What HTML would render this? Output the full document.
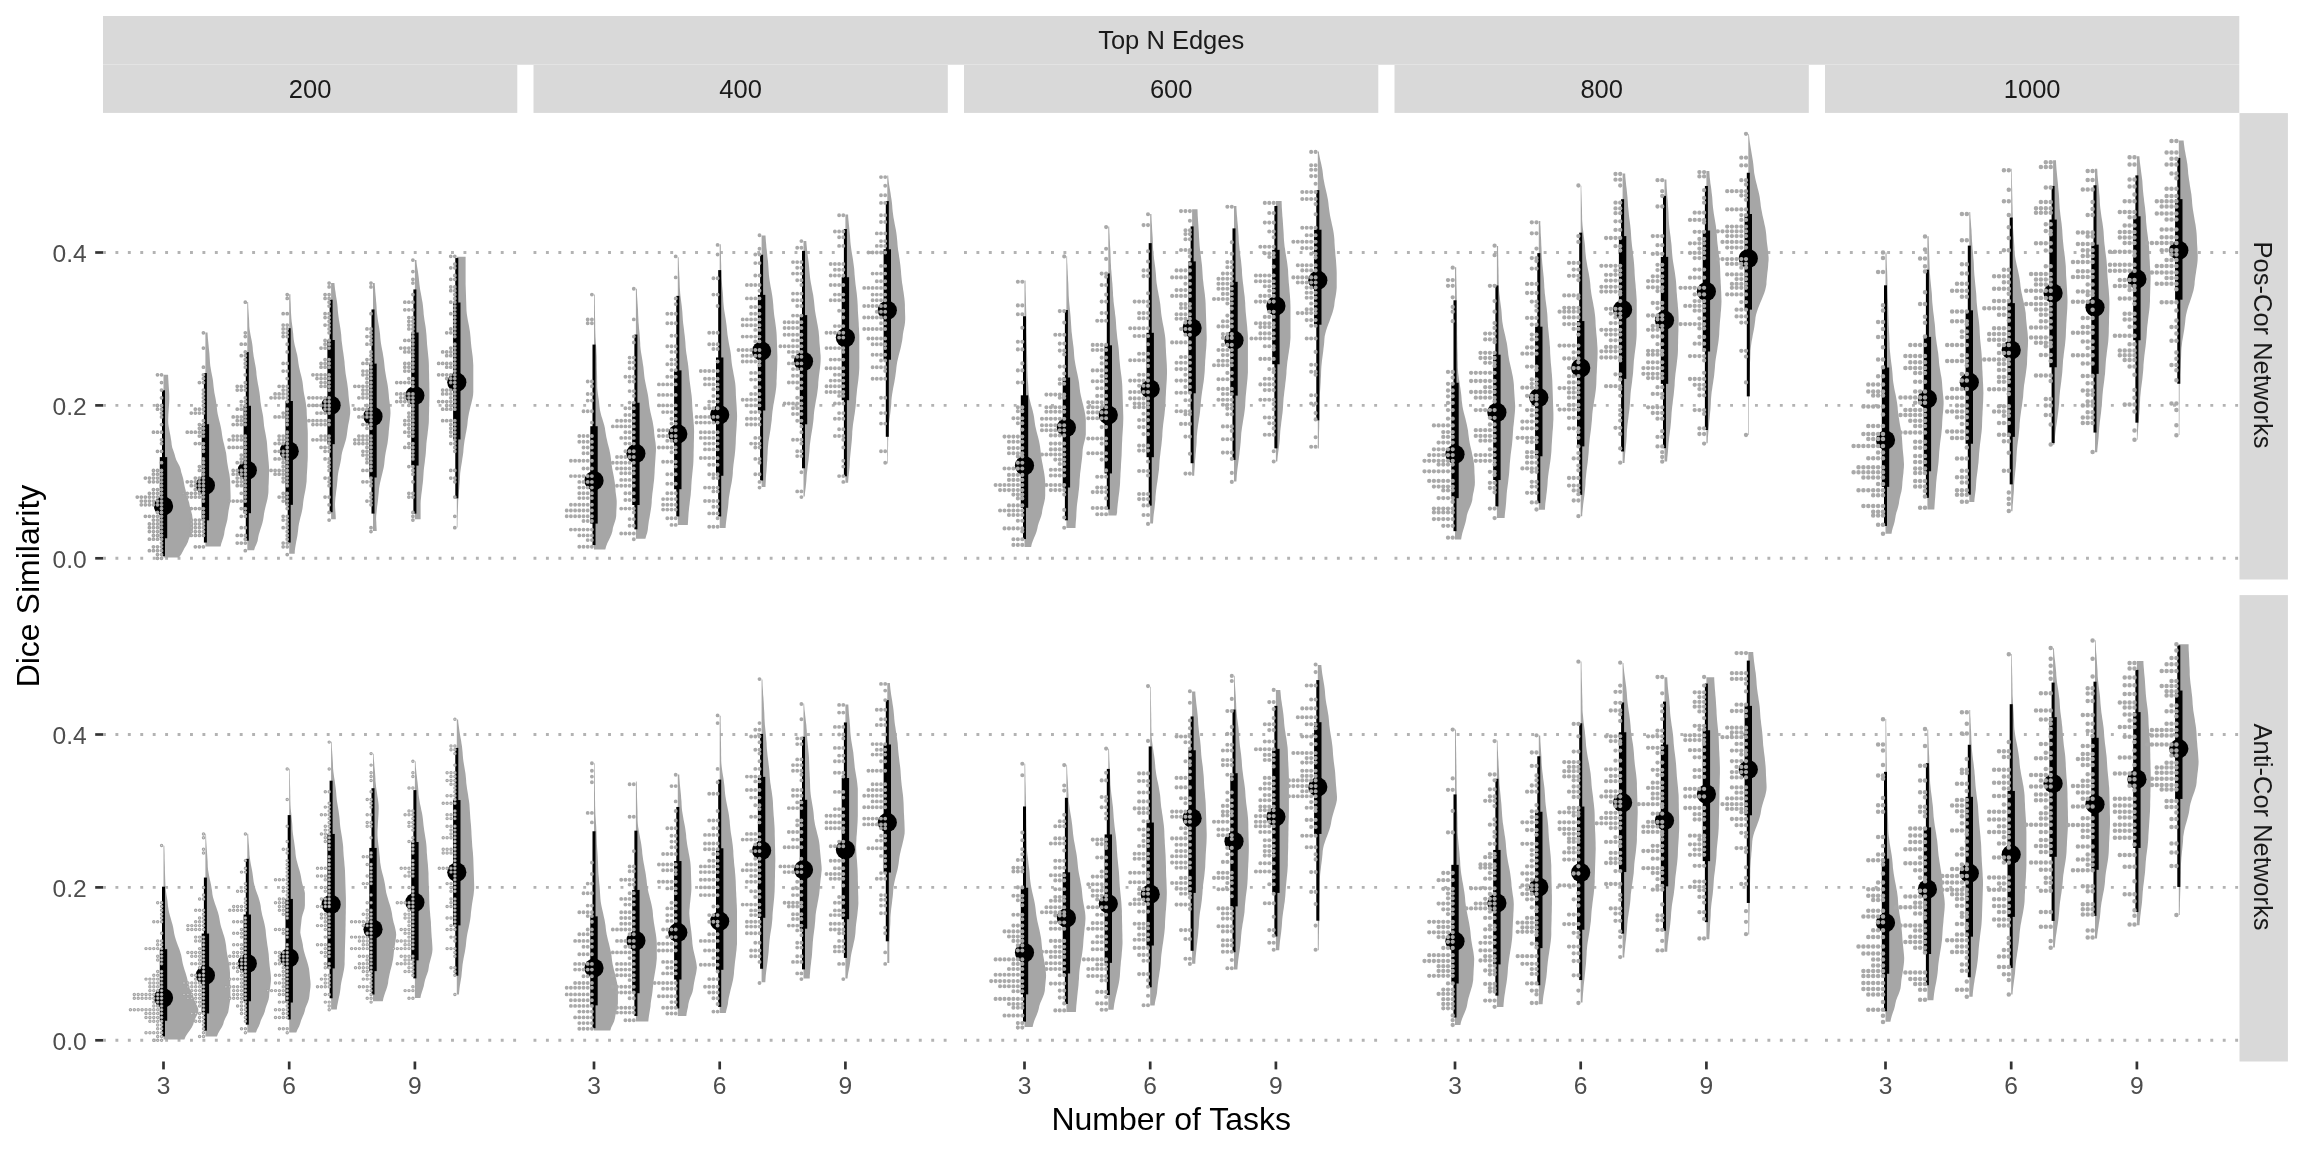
<!DOCTYPE html>
<html><head><meta charset="utf-8"><style>
html,body{margin:0;padding:0;background:#fff;width:2304px;height:1152px;overflow:hidden}
svg{display:block;will-change:transform}
text{font-family:"Liberation Sans",sans-serif}
</style></head><body>
<svg width="2304" height="1152" viewBox="0 0 2304 1152">
<rect width="2304" height="1152" fill="#ffffff"/>
<rect x="103.0" y="16" width="2136.3" height="48" fill="#d9d9d9"/>
<rect x="103.0" y="64" width="2136.3" height="1" fill="#e3e3e3"/>
<text x="1171.2" y="48.8" font-size="25.5" fill="#1a1a1a" text-anchor="middle" >Top N Edges</text>
<rect x="103.0" y="65" width="414.3" height="47.9" fill="#d9d9d9"/>
<text x="310.1" y="97.6" font-size="25.5" fill="#1a1a1a" text-anchor="middle" >200</text>
<rect x="533.5" y="65" width="414.3" height="47.9" fill="#d9d9d9"/>
<text x="740.6" y="97.6" font-size="25.5" fill="#1a1a1a" text-anchor="middle" >400</text>
<rect x="964.0" y="65" width="414.3" height="47.9" fill="#d9d9d9"/>
<text x="1171.2" y="97.6" font-size="25.5" fill="#1a1a1a" text-anchor="middle" >600</text>
<rect x="1394.5" y="65" width="414.3" height="47.9" fill="#d9d9d9"/>
<text x="1601.7" y="97.6" font-size="25.5" fill="#1a1a1a" text-anchor="middle" >800</text>
<rect x="1825.0" y="65" width="414.3" height="47.9" fill="#d9d9d9"/>
<text x="2032.2" y="97.6" font-size="25.5" fill="#1a1a1a" text-anchor="middle" >1000</text>
<rect x="2239.5" y="113.1" width="48.4" height="466.4" fill="#d9d9d9"/>
<text transform="translate(2253.6,345.0) rotate(90)" x="0" y="0" font-size="25.5" fill="#1a1a1a" text-anchor="middle" >Pos-Cor Networks</text>
<rect x="2239.5" y="595.1" width="48.4" height="466.4" fill="#d9d9d9"/>
<text transform="translate(2253.6,827.0) rotate(90)" x="0" y="0" font-size="25.5" fill="#1a1a1a" text-anchor="middle" >Anti-Cor Networks</text>
<line x1="103.0" y1="558.30" x2="517.3" y2="558.30" stroke="#b3b3b3" stroke-width="2.9" stroke-dasharray="2.9 9.53"/>
<line x1="103.0" y1="405.40" x2="517.3" y2="405.40" stroke="#b3b3b3" stroke-width="2.9" stroke-dasharray="2.9 9.53"/>
<line x1="103.0" y1="252.50" x2="517.3" y2="252.50" stroke="#b3b3b3" stroke-width="2.9" stroke-dasharray="2.9 9.53"/>
<line x1="103.0" y1="1040.30" x2="517.3" y2="1040.30" stroke="#b3b3b3" stroke-width="2.9" stroke-dasharray="2.9 9.53"/>
<line x1="103.0" y1="887.40" x2="517.3" y2="887.40" stroke="#b3b3b3" stroke-width="2.9" stroke-dasharray="2.9 9.53"/>
<line x1="103.0" y1="734.50" x2="517.3" y2="734.50" stroke="#b3b3b3" stroke-width="2.9" stroke-dasharray="2.9 9.53"/>
<line x1="533.5" y1="558.30" x2="947.8" y2="558.30" stroke="#b3b3b3" stroke-width="2.9" stroke-dasharray="2.9 9.53"/>
<line x1="533.5" y1="405.40" x2="947.8" y2="405.40" stroke="#b3b3b3" stroke-width="2.9" stroke-dasharray="2.9 9.53"/>
<line x1="533.5" y1="252.50" x2="947.8" y2="252.50" stroke="#b3b3b3" stroke-width="2.9" stroke-dasharray="2.9 9.53"/>
<line x1="533.5" y1="1040.30" x2="947.8" y2="1040.30" stroke="#b3b3b3" stroke-width="2.9" stroke-dasharray="2.9 9.53"/>
<line x1="533.5" y1="887.40" x2="947.8" y2="887.40" stroke="#b3b3b3" stroke-width="2.9" stroke-dasharray="2.9 9.53"/>
<line x1="533.5" y1="734.50" x2="947.8" y2="734.50" stroke="#b3b3b3" stroke-width="2.9" stroke-dasharray="2.9 9.53"/>
<line x1="964.0" y1="558.30" x2="1378.3" y2="558.30" stroke="#b3b3b3" stroke-width="2.9" stroke-dasharray="2.9 9.53"/>
<line x1="964.0" y1="405.40" x2="1378.3" y2="405.40" stroke="#b3b3b3" stroke-width="2.9" stroke-dasharray="2.9 9.53"/>
<line x1="964.0" y1="252.50" x2="1378.3" y2="252.50" stroke="#b3b3b3" stroke-width="2.9" stroke-dasharray="2.9 9.53"/>
<line x1="964.0" y1="1040.30" x2="1378.3" y2="1040.30" stroke="#b3b3b3" stroke-width="2.9" stroke-dasharray="2.9 9.53"/>
<line x1="964.0" y1="887.40" x2="1378.3" y2="887.40" stroke="#b3b3b3" stroke-width="2.9" stroke-dasharray="2.9 9.53"/>
<line x1="964.0" y1="734.50" x2="1378.3" y2="734.50" stroke="#b3b3b3" stroke-width="2.9" stroke-dasharray="2.9 9.53"/>
<line x1="1394.5" y1="558.30" x2="1808.8" y2="558.30" stroke="#b3b3b3" stroke-width="2.9" stroke-dasharray="2.9 9.53"/>
<line x1="1394.5" y1="405.40" x2="1808.8" y2="405.40" stroke="#b3b3b3" stroke-width="2.9" stroke-dasharray="2.9 9.53"/>
<line x1="1394.5" y1="252.50" x2="1808.8" y2="252.50" stroke="#b3b3b3" stroke-width="2.9" stroke-dasharray="2.9 9.53"/>
<line x1="1394.5" y1="1040.30" x2="1808.8" y2="1040.30" stroke="#b3b3b3" stroke-width="2.9" stroke-dasharray="2.9 9.53"/>
<line x1="1394.5" y1="887.40" x2="1808.8" y2="887.40" stroke="#b3b3b3" stroke-width="2.9" stroke-dasharray="2.9 9.53"/>
<line x1="1394.5" y1="734.50" x2="1808.8" y2="734.50" stroke="#b3b3b3" stroke-width="2.9" stroke-dasharray="2.9 9.53"/>
<line x1="1825.0" y1="558.30" x2="2239.3" y2="558.30" stroke="#b3b3b3" stroke-width="2.9" stroke-dasharray="2.9 9.53"/>
<line x1="1825.0" y1="405.40" x2="2239.3" y2="405.40" stroke="#b3b3b3" stroke-width="2.9" stroke-dasharray="2.9 9.53"/>
<line x1="1825.0" y1="252.50" x2="2239.3" y2="252.50" stroke="#b3b3b3" stroke-width="2.9" stroke-dasharray="2.9 9.53"/>
<line x1="1825.0" y1="1040.30" x2="2239.3" y2="1040.30" stroke="#b3b3b3" stroke-width="2.9" stroke-dasharray="2.9 9.53"/>
<line x1="1825.0" y1="887.40" x2="2239.3" y2="887.40" stroke="#b3b3b3" stroke-width="2.9" stroke-dasharray="2.9 9.53"/>
<line x1="1825.0" y1="734.50" x2="2239.3" y2="734.50" stroke="#b3b3b3" stroke-width="2.9" stroke-dasharray="2.9 9.53"/>
<line x1="95.2" y1="558.30" x2="103" y2="558.30" stroke="#333333" stroke-width="2.7"/>
<text x="86.8" y="567.50" font-size="24.6" fill="#4d4d4d" text-anchor="end" >0.0</text>
<line x1="95.2" y1="405.40" x2="103" y2="405.40" stroke="#333333" stroke-width="2.7"/>
<text x="86.8" y="414.60" font-size="24.6" fill="#4d4d4d" text-anchor="end" >0.2</text>
<line x1="95.2" y1="252.50" x2="103" y2="252.50" stroke="#333333" stroke-width="2.7"/>
<text x="86.8" y="261.70" font-size="24.6" fill="#4d4d4d" text-anchor="end" >0.4</text>
<line x1="95.2" y1="1040.30" x2="103" y2="1040.30" stroke="#333333" stroke-width="2.7"/>
<text x="86.8" y="1049.50" font-size="24.6" fill="#4d4d4d" text-anchor="end" >0.0</text>
<line x1="95.2" y1="887.40" x2="103" y2="887.40" stroke="#333333" stroke-width="2.7"/>
<text x="86.8" y="896.60" font-size="24.6" fill="#4d4d4d" text-anchor="end" >0.2</text>
<line x1="95.2" y1="734.50" x2="103" y2="734.50" stroke="#333333" stroke-width="2.7"/>
<text x="86.8" y="743.70" font-size="24.6" fill="#4d4d4d" text-anchor="end" >0.4</text>
<line x1="163.50" y1="1061.5" x2="163.50" y2="1069.4" stroke="#333333" stroke-width="2.7"/>
<text x="163.50" y="1093.8" font-size="24.6" fill="#4d4d4d" text-anchor="middle" >3</text>
<line x1="289.20" y1="1061.5" x2="289.20" y2="1069.4" stroke="#333333" stroke-width="2.7"/>
<text x="289.20" y="1093.8" font-size="24.6" fill="#4d4d4d" text-anchor="middle" >6</text>
<line x1="414.90" y1="1061.5" x2="414.90" y2="1069.4" stroke="#333333" stroke-width="2.7"/>
<text x="414.90" y="1093.8" font-size="24.6" fill="#4d4d4d" text-anchor="middle" >9</text>
<line x1="594.00" y1="1061.5" x2="594.00" y2="1069.4" stroke="#333333" stroke-width="2.7"/>
<text x="594.00" y="1093.8" font-size="24.6" fill="#4d4d4d" text-anchor="middle" >3</text>
<line x1="719.70" y1="1061.5" x2="719.70" y2="1069.4" stroke="#333333" stroke-width="2.7"/>
<text x="719.70" y="1093.8" font-size="24.6" fill="#4d4d4d" text-anchor="middle" >6</text>
<line x1="845.40" y1="1061.5" x2="845.40" y2="1069.4" stroke="#333333" stroke-width="2.7"/>
<text x="845.40" y="1093.8" font-size="24.6" fill="#4d4d4d" text-anchor="middle" >9</text>
<line x1="1024.50" y1="1061.5" x2="1024.50" y2="1069.4" stroke="#333333" stroke-width="2.7"/>
<text x="1024.50" y="1093.8" font-size="24.6" fill="#4d4d4d" text-anchor="middle" >3</text>
<line x1="1150.20" y1="1061.5" x2="1150.20" y2="1069.4" stroke="#333333" stroke-width="2.7"/>
<text x="1150.20" y="1093.8" font-size="24.6" fill="#4d4d4d" text-anchor="middle" >6</text>
<line x1="1275.90" y1="1061.5" x2="1275.90" y2="1069.4" stroke="#333333" stroke-width="2.7"/>
<text x="1275.90" y="1093.8" font-size="24.6" fill="#4d4d4d" text-anchor="middle" >9</text>
<line x1="1455.00" y1="1061.5" x2="1455.00" y2="1069.4" stroke="#333333" stroke-width="2.7"/>
<text x="1455.00" y="1093.8" font-size="24.6" fill="#4d4d4d" text-anchor="middle" >3</text>
<line x1="1580.70" y1="1061.5" x2="1580.70" y2="1069.4" stroke="#333333" stroke-width="2.7"/>
<text x="1580.70" y="1093.8" font-size="24.6" fill="#4d4d4d" text-anchor="middle" >6</text>
<line x1="1706.40" y1="1061.5" x2="1706.40" y2="1069.4" stroke="#333333" stroke-width="2.7"/>
<text x="1706.40" y="1093.8" font-size="24.6" fill="#4d4d4d" text-anchor="middle" >9</text>
<line x1="1885.50" y1="1061.5" x2="1885.50" y2="1069.4" stroke="#333333" stroke-width="2.7"/>
<text x="1885.50" y="1093.8" font-size="24.6" fill="#4d4d4d" text-anchor="middle" >3</text>
<line x1="2011.20" y1="1061.5" x2="2011.20" y2="1069.4" stroke="#333333" stroke-width="2.7"/>
<text x="2011.20" y="1093.8" font-size="24.6" fill="#4d4d4d" text-anchor="middle" >6</text>
<line x1="2136.90" y1="1061.5" x2="2136.90" y2="1069.4" stroke="#333333" stroke-width="2.7"/>
<text x="2136.90" y="1093.8" font-size="24.6" fill="#4d4d4d" text-anchor="middle" >9</text>
<text x="1171.2" y="1130.2" font-size="32" fill="#000000" text-anchor="middle" >Number of Tasks</text>
<text transform="translate(38.9,586) rotate(-90)" x="0" y="0" font-size="32" fill="#000000" text-anchor="middle" >Dice Similarity</text>
<g fill="#a6a6a6"><polygon points="163.5,557.4 178.9,557.4 181.3,554.3 182.9,551.3 184.4,548.2 186.3,545.2 187.9,542.1 188.8,539.1 190.1,536.1 191.7,533.0 192.9,530.0 193.1,526.9 192.9,523.9 192.7,520.8 192.5,517.8 192.1,514.8 191.3,511.7 190.4,508.7 189.7,505.6 189.1,502.6 188.1,499.5 186.9,496.5 186.1,493.4 185.7,490.4 184.9,487.4 184.2,484.3 183.7,481.3 183.1,478.2 182.2,475.2 181.2,472.1 180.6,469.1 179.5,466.1 177.9,463.0 176.3,460.0 175.3,456.9 174.5,453.9 173.4,450.8 172.3,447.8 171.7,444.8 171.4,441.7 170.9,438.7 170.4,435.6 169.8,432.6 169.2,429.5 168.7,426.5 168.3,423.4 168.2,420.4 168.3,417.4 168.4,414.3 168.6,411.3 168.8,408.2 169.0,405.2 169.2,402.1 169.3,399.1 169.3,396.1 169.2,393.0 169.0,390.0 168.8,386.9 168.6,383.9 168.4,380.8 168.2,377.8 168.1,374.7 163.5,374.7"/><polygon points="205.4,546.6 220.6,546.6 221.3,543.6 222.3,540.6 223.3,537.6 224.1,534.6 224.5,531.5 225.1,528.5 225.9,525.5 226.7,522.5 227.4,519.5 227.8,516.5 228.2,513.4 228.6,510.4 229.2,507.4 229.8,504.4 230.3,501.4 230.6,498.4 230.6,495.4 230.5,492.3 230.4,489.3 230.3,486.3 230.2,483.3 230.1,480.3 229.8,477.3 229.4,474.2 228.8,471.2 228.2,468.2 227.7,465.2 227.2,462.2 226.8,459.2 226.5,456.1 226.1,453.1 225.4,450.1 224.7,447.1 224.0,444.1 223.2,441.1 222.6,438.1 222.1,435.0 221.7,432.0 221.2,429.0 220.6,426.0 219.9,423.0 219.1,420.0 218.4,416.9 217.7,413.9 217.2,410.9 216.9,407.9 216.6,404.9 216.1,401.9 215.6,398.8 215.0,395.8 214.4,392.8 214.0,389.8 213.6,386.8 213.3,383.8 213.0,380.7 212.5,377.7 211.9,374.7 211.3,371.7 210.8,368.7 210.3,365.7 210.0,362.7 209.8,359.6 209.6,356.6 209.4,353.6 209.1,350.6 208.8,347.6 208.5,344.6 208.2,341.5 207.9,338.5 207.7,335.5 207.5,332.5 205.4,332.5"/><polygon points="247.3,550.2 254.1,550.2 255.0,547.2 256.5,544.1 257.6,541.1 258.1,538.1 258.7,535.1 259.6,532.0 260.5,529.0 261.5,526.0 262.4,523.0 263.1,519.9 263.6,516.9 264.0,513.9 264.6,510.8 265.3,507.8 266.0,504.8 266.8,501.8 267.5,498.7 268.0,495.7 268.4,492.7 268.5,489.7 268.5,486.6 268.7,483.6 268.8,480.6 268.9,477.5 269.0,474.5 269.1,471.5 269.1,468.5 268.9,465.4 268.7,462.4 268.4,459.4 268.1,456.3 267.8,453.3 267.5,450.3 267.3,447.3 267.1,444.2 266.8,441.2 266.3,438.2 265.8,435.2 265.2,432.1 264.6,429.1 264.1,426.1 263.8,423.0 263.5,420.0 263.2,417.0 262.7,414.0 262.1,410.9 261.5,407.9 261.0,404.9 260.5,401.8 260.2,398.8 259.9,395.8 259.5,392.8 259.0,389.7 258.5,386.7 257.9,383.7 257.4,380.7 256.9,377.6 256.5,374.6 256.3,371.6 255.9,368.5 255.4,365.5 254.8,362.5 254.3,359.5 253.7,356.4 253.3,353.4 252.9,350.4 252.7,347.4 252.3,344.3 251.8,341.3 251.2,338.3 250.6,335.2 250.1,332.2 249.6,329.2 249.3,326.2 249.2,323.1 249.1,320.1 248.9,317.1 248.7,314.0 248.5,311.0 248.3,308.0 248.2,305.0 248.1,301.9 247.3,301.9"/><polygon points="289.2,553.8 294.7,553.8 294.8,550.8 295.2,547.8 295.7,544.7 296.2,541.7 296.8,538.7 297.4,535.7 297.8,532.7 298.2,529.6 298.5,526.6 299.0,523.6 299.7,520.6 300.4,517.6 301.2,514.6 301.9,511.5 302.5,508.5 302.9,505.5 303.2,502.5 303.6,499.5 304.1,496.5 304.7,493.4 305.3,490.4 305.8,487.4 306.2,484.4 306.6,481.4 306.7,478.4 306.8,475.3 307.0,472.3 307.2,469.3 307.4,466.3 307.5,463.3 307.7,460.2 307.8,457.2 307.8,454.2 307.8,451.2 307.8,448.2 307.8,445.2 307.8,442.1 307.8,439.1 307.8,436.1 307.8,433.1 307.7,430.1 307.5,427.1 307.4,424.0 307.2,421.0 307.0,418.0 306.8,415.0 306.7,412.0 306.6,409.0 306.2,405.9 305.8,402.9 305.3,399.9 304.7,396.9 304.1,393.9 303.6,390.9 303.2,387.8 302.9,384.8 302.5,381.8 301.9,378.8 301.2,375.8 300.4,372.7 299.7,369.7 299.0,366.7 298.5,363.7 298.1,360.7 297.7,357.7 297.1,354.6 296.3,351.6 295.6,348.6 294.8,345.6 294.2,342.6 293.7,339.6 293.4,336.5 293.2,333.5 292.8,330.5 292.5,327.5 292.1,324.5 291.7,321.5 291.4,318.4 291.2,315.4 291.0,312.4 290.9,309.4 290.8,306.4 290.7,303.3 290.5,300.3 290.4,297.3 290.4,294.3 289.2,294.3"/><polygon points="331.1,519.2 335.8,519.2 335.7,516.1 335.5,513.1 335.3,510.1 335.1,507.1 335.0,504.0 335.2,501.0 335.4,498.0 335.8,495.0 336.1,491.9 336.5,488.9 336.9,485.9 337.2,482.8 337.5,479.8 337.7,476.8 338.1,473.8 338.6,470.7 339.3,467.7 340.0,464.7 340.6,461.7 341.2,458.6 341.5,455.6 342.1,452.6 342.9,449.5 343.9,446.5 344.8,443.5 345.7,440.5 346.4,437.4 346.9,434.4 347.3,431.4 347.7,428.4 348.2,425.3 348.8,422.3 349.4,419.3 349.8,416.2 350.2,413.2 350.2,410.2 349.9,407.2 349.5,404.1 349.1,401.1 348.8,398.1 348.5,395.1 348.3,392.0 348.0,389.0 347.6,386.0 347.2,382.9 346.7,379.9 346.2,376.9 345.7,373.9 345.3,370.8 345.0,367.8 344.7,364.8 344.5,361.8 344.1,358.7 343.7,355.7 343.3,352.7 342.8,349.7 342.4,346.6 342.0,343.6 341.6,340.6 341.4,337.5 341.2,334.5 340.8,331.5 340.4,328.5 339.9,325.4 339.4,322.4 338.9,319.4 338.5,316.4 338.1,313.3 337.8,310.3 337.6,307.3 337.3,304.2 336.9,301.2 336.4,298.2 335.9,295.2 335.5,292.1 335.0,289.1 334.7,286.1 334.4,283.1 331.1,283.1"/><polygon points="373.0,531.1 376.7,531.1 376.6,528.1 376.4,525.1 376.3,522.0 376.1,519.0 376.2,516.0 376.5,513.0 376.8,509.9 377.1,506.9 377.5,503.9 377.9,500.9 378.2,497.8 378.5,494.8 378.8,491.8 379.0,488.8 379.5,485.7 380.1,482.7 380.8,479.7 381.5,476.7 382.3,473.6 383.0,470.6 383.7,467.6 384.2,464.6 384.5,461.5 384.8,458.5 385.2,455.5 385.7,452.5 386.3,449.4 386.9,446.4 387.5,443.4 387.9,440.4 388.3,437.3 388.6,434.3 388.8,431.3 389.1,428.3 389.4,425.2 389.7,422.2 390.0,419.2 390.3,416.2 390.5,413.1 390.4,410.1 390.1,407.1 389.8,404.1 389.4,401.0 389.0,398.0 388.8,395.0 388.5,392.0 388.2,388.9 387.8,385.9 387.3,382.9 386.7,379.9 386.1,376.8 385.6,373.8 385.1,370.8 384.7,367.8 384.4,364.7 384.1,361.7 383.7,358.7 383.2,355.7 382.7,352.6 382.1,349.6 381.5,346.6 381.0,343.6 380.6,340.5 380.3,337.5 380.1,334.5 379.7,331.5 379.3,328.4 378.8,325.4 378.3,322.4 377.8,319.4 377.4,316.3 377.0,313.3 376.7,310.3 376.6,307.3 376.4,304.2 376.1,301.2 375.9,298.2 375.6,295.2 375.3,292.1 375.1,289.1 374.9,286.1 374.7,283.1 373.0,283.1"/><polygon points="414.9,519.2 420.6,519.2 420.6,516.2 420.6,513.1 420.6,510.1 420.6,507.1 420.6,504.1 420.7,501.1 421.0,498.1 421.3,495.1 421.7,492.0 422.1,489.0 422.4,486.0 422.8,483.0 423.1,480.0 423.3,477.0 423.5,474.0 423.7,470.9 424.0,467.9 424.4,464.9 424.8,461.9 425.1,458.9 425.5,455.9 425.8,452.9 426.0,449.9 426.2,446.8 426.4,443.8 426.7,440.8 427.1,437.8 427.5,434.8 427.8,431.8 428.2,428.8 428.5,425.7 428.8,422.7 428.9,419.7 428.9,416.7 429.0,413.7 429.1,410.7 429.1,407.7 429.2,404.7 429.3,401.6 429.4,398.6 429.4,395.6 429.4,392.6 429.4,389.6 429.3,386.6 429.3,383.6 429.2,380.5 429.1,377.5 429.1,374.5 429.0,371.5 428.9,368.5 428.9,365.5 428.8,362.5 428.6,359.4 428.3,356.4 428.0,353.4 427.7,350.4 427.4,347.4 427.1,344.4 426.9,341.4 426.7,338.4 426.5,335.3 426.2,332.3 425.9,329.3 425.5,326.3 425.0,323.3 424.5,320.3 424.1,317.3 423.7,314.2 423.5,311.2 423.2,308.2 422.9,305.2 422.5,302.2 421.9,299.2 421.4,296.2 420.8,293.1 420.2,290.1 419.8,287.1 419.4,284.1 419.1,281.1 418.8,278.1 418.4,275.1 418.0,272.1 417.5,269.0 417.0,266.0 416.6,263.0 416.4,260.0 414.9,260.0"/><polygon points="456.8,527.5 457.4,527.5 457.5,524.5 457.5,521.5 457.6,518.5 457.7,515.5 457.8,512.5 457.9,509.4 458.0,506.4 458.1,503.4 458.2,500.4 458.4,497.4 458.6,494.4 458.9,491.4 459.2,488.4 459.4,485.4 459.7,482.4 459.9,479.4 460.0,476.3 460.2,473.3 460.6,470.3 461.0,467.3 461.5,464.3 462.0,461.3 462.4,458.3 462.9,455.3 463.3,452.3 463.5,449.3 463.8,446.2 464.2,443.2 464.6,440.2 465.2,437.2 465.7,434.2 466.3,431.2 466.8,428.2 467.3,425.2 467.6,422.2 467.9,419.2 468.4,416.2 469.0,413.1 469.7,410.1 470.4,407.1 471.2,404.1 471.9,401.1 472.6,398.1 473.1,395.1 473.3,392.1 473.3,389.1 473.3,386.1 473.3,383.1 473.3,380.0 473.3,377.0 473.3,374.0 473.3,371.0 473.3,368.0 473.3,365.0 473.1,362.0 472.9,359.0 472.6,356.0 472.2,353.0 471.8,350.0 471.4,346.9 471.1,343.9 470.8,340.9 470.6,337.9 470.3,334.9 470.0,331.9 469.5,328.9 469.0,325.9 468.4,322.9 467.8,319.9 467.3,316.9 466.8,313.8 466.5,310.8 466.4,307.8 466.3,304.8 466.2,301.8 466.1,298.8 466.0,295.8 465.9,292.8 465.8,289.8 465.7,286.8 465.6,283.8 465.6,280.7 465.6,277.7 465.6,274.7 465.6,271.7 465.6,268.7 465.6,265.7 465.6,262.7 465.6,259.7 465.6,256.7 456.8,256.7"/><polygon points="163.5,1039.5 184.4,1039.5 185.6,1036.5 187.5,1033.5 189.7,1030.4 191.7,1027.4 193.2,1024.4 194.1,1021.3 195.4,1018.3 196.9,1015.3 198.2,1012.3 198.4,1009.2 197.3,1006.2 195.8,1003.2 194.4,1000.2 193.5,997.1 192.5,994.1 191.0,991.1 189.5,988.1 188.5,985.0 187.9,982.0 187.3,979.0 186.5,976.0 185.6,972.9 184.6,969.9 183.7,966.9 182.8,963.8 182.2,960.8 181.7,957.8 181.1,954.8 180.2,951.7 179.2,948.7 178.0,945.7 176.9,942.7 175.8,939.6 174.9,936.6 174.2,933.6 173.7,930.6 173.2,927.5 172.5,924.5 171.6,921.5 170.8,918.4 169.9,915.4 169.1,912.4 168.5,909.4 168.0,906.3 167.7,903.3 167.4,900.3 166.9,897.3 166.4,894.2 166.0,891.2 165.6,888.2 165.4,885.2 165.3,882.1 165.2,879.1 165.1,876.1 165.0,873.0 164.9,870.0 164.9,867.0 164.8,864.0 164.7,860.9 164.6,857.9 164.6,854.9 164.5,851.9 164.4,848.8 164.3,845.8 163.5,845.8"/><polygon points="205.4,1036.4 216.9,1036.4 218.1,1033.4 219.9,1030.3 221.8,1027.3 223.2,1024.3 224.0,1021.3 225.3,1018.2 226.9,1015.2 228.2,1012.2 228.7,1009.2 229.2,1006.2 229.7,1003.1 230.2,1000.1 230.5,997.1 230.4,994.1 230.4,991.0 230.3,988.0 230.2,985.0 230.2,982.0 230.1,978.9 230.0,975.9 230.0,972.9 229.8,969.9 229.5,966.9 229.0,963.8 228.5,960.8 227.9,957.8 227.3,954.8 226.8,951.7 226.4,948.7 226.1,945.7 225.6,942.7 225.0,939.6 224.2,936.6 223.2,933.6 222.3,930.6 221.3,927.6 220.5,924.5 219.9,921.5 219.4,918.5 218.8,915.5 218.0,912.4 217.0,909.4 216.0,906.4 214.9,903.4 213.9,900.3 213.0,897.3 212.4,894.3 212.1,891.3 211.6,888.2 211.1,885.2 210.5,882.2 209.8,879.2 209.2,876.2 208.6,873.1 208.1,870.1 207.8,867.1 207.7,864.1 207.6,861.0 207.4,858.0 207.2,855.0 207.0,852.0 206.8,848.9 206.6,845.9 206.4,842.9 206.2,839.9 206.1,836.9 206.0,833.8 205.4,833.8"/><polygon points="247.3,1032.5 256.0,1032.5 257.1,1029.5 258.7,1026.5 259.9,1023.4 260.8,1020.4 262.2,1017.4 263.7,1014.4 264.8,1011.4 265.5,1008.4 266.5,1005.4 267.6,1002.4 268.6,999.4 269.1,996.4 269.3,993.4 269.7,990.3 270.2,987.3 270.6,984.3 270.9,981.3 271.0,978.3 270.8,975.3 270.5,972.3 270.1,969.3 269.7,966.3 269.4,963.3 269.1,960.2 268.9,957.2 268.7,954.2 268.3,951.2 267.9,948.2 267.4,945.2 267.0,942.2 266.6,939.2 266.2,936.2 265.9,933.2 265.6,930.1 265.1,927.1 264.5,924.1 263.8,921.1 263.0,918.1 262.2,915.1 261.6,912.1 261.0,909.1 260.7,906.1 260.1,903.1 259.3,900.0 258.4,897.0 257.3,894.0 256.2,891.0 255.2,888.0 254.4,885.0 253.7,882.0 253.3,879.0 252.9,876.0 252.5,873.0 252.0,869.9 251.4,866.9 250.8,863.9 250.3,860.9 249.9,857.9 249.5,854.9 249.4,851.9 249.2,848.9 249.0,845.9 248.7,842.9 248.5,839.9 248.3,836.8 248.2,833.8 247.3,833.8"/><polygon points="289.2,1032.5 296.3,1032.5 297.5,1029.4 299.1,1026.4 300.2,1023.4 301.1,1020.4 302.4,1017.3 303.7,1014.3 304.7,1011.3 305.4,1008.2 306.6,1005.2 307.9,1002.2 308.9,999.1 309.4,996.1 309.7,993.1 310.1,990.0 310.5,987.0 310.6,984.0 310.4,980.9 310.0,977.9 309.7,974.9 309.4,971.9 309.0,968.8 308.3,965.8 307.5,962.8 306.6,959.7 305.6,956.7 304.7,953.7 303.8,950.6 303.2,947.6 302.8,944.6 302.2,941.5 301.5,938.5 300.8,935.5 300.3,932.4 300.5,929.4 300.8,926.4 301.2,923.3 301.5,920.3 301.9,917.3 302.7,914.3 303.7,911.2 304.6,908.2 304.9,905.2 304.9,902.1 304.9,899.1 304.9,896.1 304.9,893.0 304.3,890.0 303.3,887.0 302.4,883.9 301.7,880.9 301.2,877.9 300.6,874.8 299.9,871.8 299.0,868.8 298.1,865.8 297.3,862.7 296.5,859.7 295.9,856.7 295.5,853.6 295.3,850.6 294.9,847.6 294.5,844.5 294.1,841.5 293.6,838.5 293.2,835.4 292.8,832.4 292.5,829.4 292.4,826.3 292.2,823.3 291.9,820.3 291.6,817.2 291.3,814.2 291.0,811.2 290.7,808.2 290.5,805.1 290.4,802.1 290.3,799.1 290.3,796.0 290.2,793.0 290.2,790.0 290.1,786.9 290.0,783.9 290.0,780.9 289.9,777.8 289.9,774.8 289.8,771.8 289.8,768.7 289.2,768.7"/><polygon points="331.1,1009.6 336.8,1009.6 337.1,1006.6 337.7,1003.6 338.3,1000.5 338.9,997.5 339.6,994.5 340.1,991.5 340.5,988.5 340.8,985.5 341.3,982.5 341.9,979.5 342.6,976.5 343.2,973.5 343.8,970.4 344.3,967.4 344.6,964.4 344.6,961.4 344.7,958.4 344.8,955.4 344.8,952.4 344.9,949.4 345.0,946.4 345.1,943.4 345.2,940.3 345.3,937.3 345.4,934.3 345.5,931.3 345.5,928.3 345.6,925.3 345.6,922.3 345.7,919.3 345.7,916.3 345.8,913.3 345.8,910.2 345.9,907.2 345.9,904.2 345.9,901.2 345.9,898.2 345.8,895.2 345.7,892.2 345.6,889.2 345.5,886.2 345.4,883.2 345.3,880.1 345.2,877.1 345.1,874.1 345.0,871.1 344.8,868.1 344.5,865.1 344.3,862.1 344.0,859.1 343.7,856.1 343.5,853.1 343.3,850.0 343.2,847.0 342.9,844.0 342.5,841.0 342.1,838.0 341.6,835.0 341.1,832.0 340.6,829.0 340.2,826.0 339.9,823.0 339.7,819.9 339.4,816.9 339.0,813.9 338.6,810.9 338.1,807.9 337.6,804.9 337.1,801.9 336.7,798.9 336.4,795.9 336.2,792.9 335.9,789.8 335.5,786.8 335.1,783.8 334.7,780.8 334.2,777.8 333.8,774.8 333.4,771.8 333.1,768.8 333.0,765.8 332.9,762.8 332.7,759.7 332.5,756.7 332.3,753.7 332.1,750.7 331.9,747.7 331.8,744.7 331.7,741.7 331.1,741.7"/><polygon points="373.0,1001.2 382.8,1001.2 383.4,998.2 384.3,995.2 385.3,992.2 386.4,989.2 387.4,986.1 388.1,983.1 388.4,980.1 389.0,977.1 389.6,974.1 390.3,971.1 391.1,968.0 391.9,965.0 392.5,962.0 393.1,959.0 393.5,956.0 393.8,953.0 394.1,949.9 394.6,946.9 395.0,943.9 395.5,940.9 395.9,937.9 396.2,934.8 395.9,931.8 395.3,928.8 394.6,925.8 393.7,922.8 393.0,919.8 392.4,916.7 392.0,913.7 391.4,910.7 390.7,907.7 389.8,904.7 388.8,901.7 387.9,898.6 387.0,895.6 386.2,892.6 385.7,889.6 385.3,886.6 384.8,883.6 384.2,880.5 383.5,877.5 382.7,874.5 381.9,871.5 381.2,868.5 380.7,865.4 380.2,862.4 380.0,859.4 379.7,856.4 379.4,853.4 379.1,850.4 378.7,847.3 378.3,844.3 378.0,841.3 377.7,838.3 377.5,835.3 377.5,832.3 377.6,829.2 377.8,826.2 377.9,823.2 378.1,820.2 378.3,817.2 378.5,814.1 378.6,811.1 378.7,808.1 378.6,805.1 378.3,802.1 377.9,799.1 377.4,796.0 377.0,793.0 376.5,790.0 376.1,787.0 375.8,784.0 375.5,781.0 375.4,777.9 375.2,774.9 375.0,771.9 374.7,768.9 374.4,765.9 374.2,762.8 373.9,759.8 373.7,756.8 373.6,753.8 373.0,753.8"/><polygon points="414.9,998.0 420.4,998.0 421.0,995.0 421.9,991.9 422.9,988.9 423.8,985.9 424.4,982.8 425.1,979.8 426.1,976.8 427.2,973.7 428.2,970.7 428.7,967.7 429.2,964.6 430.0,961.6 430.8,958.6 431.6,955.5 432.2,952.5 432.5,949.5 432.4,946.4 432.2,943.4 432.0,940.4 431.7,937.3 431.5,934.3 431.3,931.3 431.2,928.2 431.0,925.2 430.9,922.1 430.6,919.1 430.3,916.1 430.1,913.0 429.8,910.0 429.6,907.0 429.4,903.9 429.3,900.9 429.2,897.9 429.2,894.8 429.1,891.8 428.9,888.8 428.8,885.7 428.7,882.7 428.6,879.7 428.5,876.6 428.5,873.6 428.3,870.6 428.1,867.5 427.9,864.5 427.6,861.5 427.3,858.4 427.1,855.4 426.8,852.4 426.7,849.3 426.5,846.3 426.2,843.3 425.8,840.2 425.3,837.2 424.8,834.1 424.3,831.1 423.9,828.1 423.5,825.0 423.2,822.0 422.9,819.0 422.5,815.9 422.0,812.9 421.3,809.9 420.7,806.8 420.0,803.8 419.5,800.8 419.0,797.7 418.6,794.7 418.4,791.7 418.2,788.6 417.9,785.6 417.6,782.6 417.2,779.5 416.9,776.5 416.5,773.5 416.2,770.4 415.9,767.4 415.7,764.4 415.5,761.3 414.9,761.3"/><polygon points="456.8,994.5 458.9,994.5 459.2,991.5 459.5,988.5 459.9,985.4 460.4,982.4 460.9,979.4 461.4,976.4 461.7,973.3 462.0,970.3 462.3,967.3 462.6,964.3 463.1,961.3 463.6,958.2 464.2,955.2 464.8,952.2 465.3,949.2 465.8,946.1 466.1,943.1 466.4,940.1 466.8,937.1 467.3,934.0 467.9,931.0 468.6,928.0 469.2,925.0 469.8,921.9 470.3,918.9 470.7,915.9 470.9,912.9 471.3,909.9 471.7,906.8 472.1,903.8 472.6,900.8 473.1,897.8 473.6,894.7 473.9,891.7 474.2,888.7 474.2,885.7 474.1,882.6 474.0,879.6 473.9,876.6 473.8,873.6 473.7,870.5 473.6,867.5 473.5,864.5 473.4,861.5 473.3,858.5 473.1,855.4 472.9,852.4 472.6,849.4 472.3,846.4 472.1,843.3 471.9,840.3 471.7,837.3 471.5,834.3 471.4,831.2 471.2,828.2 471.0,825.2 470.7,822.2 470.4,819.1 470.2,816.1 470.0,813.1 469.8,810.1 469.6,807.0 469.4,804.0 469.0,801.0 468.5,798.0 468.1,795.0 467.6,791.9 467.1,788.9 466.7,785.9 466.3,782.9 466.1,779.8 465.8,776.8 465.5,773.8 465.0,770.8 464.5,767.7 464.0,764.7 463.5,761.7 463.1,758.7 462.8,755.6 462.6,752.6 462.3,749.6 462.0,746.6 461.5,743.6 461.1,740.5 460.5,737.5 460.0,734.5 459.5,731.5 459.1,728.4 458.7,725.4 458.3,722.4 458.1,719.4 456.8,719.4"/><polygon points="594.0,549.4 605.3,549.4 606.1,546.4 607.3,543.3 608.8,540.3 610.2,537.3 611.5,534.2 612.4,531.2 612.9,528.1 613.8,525.1 614.8,522.1 615.7,519.0 616.2,516.0 616.3,513.0 616.4,509.9 616.6,506.9 616.7,503.9 616.7,500.8 616.4,497.8 616.0,494.8 615.6,491.7 615.4,488.7 615.1,485.7 614.8,482.6 614.3,479.6 613.8,476.6 613.2,473.5 612.6,470.5 612.1,467.4 611.6,464.4 611.2,461.4 610.9,458.3 610.5,455.3 609.9,452.3 609.3,449.2 608.5,446.2 607.7,443.2 607.0,440.1 606.3,437.1 605.8,434.1 605.3,431.0 604.9,428.0 604.2,425.0 603.3,421.9 602.4,418.9 601.4,415.9 600.6,412.8 599.9,409.8 599.5,406.7 599.2,403.7 598.9,400.7 598.4,397.6 598.0,394.6 597.6,391.6 597.3,388.5 597.2,385.5 597.2,382.5 597.1,379.4 597.1,376.4 597.0,373.4 596.9,370.3 596.8,367.3 596.8,364.3 596.7,361.2 596.7,358.2 596.6,355.2 596.4,352.1 596.3,349.1 596.1,346.0 595.9,343.0 595.7,340.0 595.5,336.9 595.4,333.9 595.3,330.9 595.2,327.8 595.2,324.8 595.2,321.8 595.1,318.7 595.0,315.7 595.0,312.7 594.9,309.6 594.9,306.6 594.8,303.6 594.8,300.5 594.7,297.5 594.7,294.5 594.0,294.5"/><polygon points="635.9,538.8 645.4,538.8 646.2,535.8 647.2,532.8 647.8,529.8 648.1,526.7 648.5,523.7 648.9,520.7 649.5,517.7 650.0,514.7 650.5,511.7 651.0,508.7 651.4,505.7 651.7,502.6 651.8,499.6 652.1,496.6 652.4,493.6 652.8,490.6 653.2,487.6 653.5,484.6 653.9,481.5 654.2,478.5 654.4,475.5 654.6,472.5 654.7,469.5 654.9,466.5 655.1,463.5 655.3,460.5 655.5,457.4 655.7,454.4 655.9,451.4 656.0,448.4 655.8,445.4 655.5,442.4 655.0,439.4 654.6,436.4 654.2,433.3 654.0,430.3 653.6,427.3 653.1,424.3 652.6,421.3 651.9,418.3 651.2,415.3 650.5,412.3 649.9,409.2 649.4,406.2 649.0,403.2 648.7,400.2 648.3,397.2 647.8,394.2 647.2,391.2 646.5,388.1 645.9,385.1 645.3,382.1 644.7,379.1 644.3,376.1 644.0,373.1 643.7,370.1 643.4,367.1 642.9,364.0 642.5,361.0 642.0,358.0 641.5,355.0 641.0,352.0 640.6,349.0 640.3,346.0 640.2,343.0 640.0,339.9 639.8,336.9 639.6,333.9 639.3,330.9 639.0,327.9 638.8,324.9 638.5,321.9 638.4,318.9 638.2,315.8 638.1,312.8 638.0,309.8 637.8,306.8 637.6,303.8 637.4,300.8 637.2,297.8 637.0,294.7 636.9,291.7 636.8,288.7 635.9,288.7"/><polygon points="677.8,525.0 687.8,525.0 688.0,522.0 688.2,519.0 688.4,516.0 688.6,513.0 688.9,510.0 689.2,507.0 689.6,504.0 689.9,501.0 690.3,498.0 690.7,495.0 690.9,491.9 691.2,488.9 691.3,485.9 691.5,482.9 691.7,479.9 692.0,476.9 692.3,473.9 692.6,470.9 692.9,467.9 693.2,464.9 693.4,461.8 693.5,458.8 693.6,455.8 693.6,452.8 693.7,449.8 693.8,446.8 693.8,443.8 693.9,440.8 694.0,437.8 694.0,434.8 694.1,431.8 694.0,428.7 693.9,425.7 693.6,422.7 693.4,419.7 693.1,416.7 692.9,413.7 692.6,410.7 692.4,407.7 692.2,404.7 692.1,401.7 691.9,398.7 691.6,395.6 691.2,392.6 690.8,389.6 690.4,386.6 690.0,383.6 689.6,380.6 689.3,377.6 689.0,374.6 688.8,371.6 688.5,368.6 688.2,365.5 687.8,362.5 687.3,359.5 686.9,356.5 686.4,353.5 686.0,350.5 685.7,347.5 685.5,344.5 685.3,341.5 685.0,338.5 684.7,335.5 684.3,332.4 684.0,329.4 683.6,326.4 683.2,323.4 682.9,320.4 682.7,317.4 682.5,314.4 682.3,311.4 682.0,308.4 681.7,305.4 681.3,302.4 680.9,299.3 680.5,296.3 680.2,293.3 680.0,290.3 679.8,287.3 679.7,284.3 679.6,281.3 679.5,278.3 679.3,275.3 679.2,272.3 679.0,269.3 678.9,266.2 678.8,263.2 678.7,260.2 678.6,257.2 677.8,257.2"/><polygon points="719.7,527.9 725.6,527.9 725.8,524.9 726.1,521.9 726.5,518.9 726.9,515.8 727.3,512.8 727.7,509.8 728.1,506.8 728.4,503.8 728.6,500.8 728.9,497.7 729.4,494.7 729.9,491.7 730.4,488.7 731.0,485.7 731.6,482.7 732.1,479.6 732.5,476.6 732.8,473.6 732.9,470.6 733.2,467.6 733.5,464.6 733.9,461.5 734.3,458.5 734.7,455.5 735.0,452.5 735.3,449.5 735.5,446.5 735.7,443.4 735.8,440.4 735.9,437.4 736.1,434.4 736.3,431.4 736.5,428.4 736.7,425.3 736.8,422.3 737.0,419.3 737.1,416.3 737.0,413.3 736.8,410.3 736.7,407.2 736.5,404.2 736.3,401.2 736.1,398.2 735.9,395.2 735.8,392.1 735.7,389.1 735.5,386.1 735.2,383.1 734.7,380.1 734.2,377.1 733.6,374.0 733.1,371.0 732.5,368.0 732.0,365.0 731.6,362.0 731.3,359.0 731.1,355.9 730.7,352.9 730.2,349.9 729.6,346.9 729.0,343.9 728.5,340.9 728.0,337.8 727.5,334.8 727.2,331.8 726.9,328.8 726.6,325.8 726.2,322.8 725.8,319.7 725.3,316.7 724.8,313.7 724.3,310.7 723.9,307.7 723.6,304.7 723.3,301.6 723.2,298.6 723.0,295.6 722.8,292.6 722.5,289.6 722.2,286.6 722.0,283.5 721.7,280.5 721.5,277.5 721.4,274.5 721.3,271.5 721.2,268.5 721.2,265.4 721.1,262.4 721.0,259.4 721.0,256.4 720.9,253.4 720.8,250.4 720.8,247.3 720.7,244.3 719.7,244.3"/><polygon points="761.6,486.9 765.5,486.9 765.6,483.9 765.8,480.9 765.9,477.8 766.1,474.8 766.4,471.8 766.6,468.7 766.8,465.7 767.0,462.7 767.3,459.6 767.4,456.6 767.6,453.6 767.7,450.6 767.9,447.5 768.2,444.5 768.5,441.5 769.0,438.4 769.5,435.4 770.0,432.4 770.5,429.4 770.9,426.3 771.3,423.3 771.7,420.3 771.9,417.2 772.2,414.2 772.5,411.2 773.0,408.1 773.4,405.1 774.0,402.1 774.5,399.1 775.0,396.0 775.5,393.0 775.9,390.0 776.3,386.9 776.5,383.9 776.5,380.9 776.7,377.9 776.8,374.8 776.9,371.8 777.1,368.8 777.2,365.7 777.3,362.7 777.4,359.7 777.4,356.6 777.3,353.6 777.2,350.6 777.1,347.6 777.0,344.5 776.9,341.5 776.8,338.5 776.7,335.4 776.5,332.4 776.2,329.4 775.8,326.3 775.4,323.3 775.0,320.3 774.5,317.3 774.1,314.2 773.8,311.2 773.5,308.2 773.3,305.1 773.0,302.1 772.7,299.1 772.3,296.1 771.8,293.0 771.3,290.0 770.7,287.0 770.2,283.9 769.7,280.9 769.3,277.9 768.9,274.8 768.7,271.8 768.5,268.8 768.3,265.8 768.1,262.7 767.8,259.7 767.4,256.7 767.1,253.6 766.8,250.6 766.4,247.6 766.2,244.6 765.9,241.5 765.7,238.5 765.5,235.5 761.6,235.5"/><polygon points="803.5,496.5 804.7,496.5 804.9,493.5 805.3,490.5 805.7,487.5 806.0,484.5 806.3,481.5 806.5,478.5 806.7,475.5 807.0,472.5 807.4,469.5 807.7,466.5 808.1,463.5 808.5,460.5 808.8,457.4 809.1,454.4 809.4,451.4 809.6,448.4 809.8,445.4 810.2,442.4 810.6,439.4 811.0,436.4 811.5,433.4 812.0,430.4 812.5,427.4 812.9,424.4 813.3,421.4 813.6,418.4 813.8,415.3 814.1,412.3 814.5,409.3 815.0,406.3 815.5,403.3 816.0,400.3 816.6,397.3 817.1,394.3 817.5,391.3 817.9,388.3 818.2,385.3 818.3,382.3 818.6,379.3 818.9,376.3 819.3,373.2 819.7,370.2 820.1,367.2 820.4,364.2 820.6,361.2 820.7,358.2 820.6,355.2 820.3,352.2 820.1,349.2 819.8,346.2 819.5,343.2 819.3,340.2 819.2,337.2 818.9,334.2 818.6,331.1 818.1,328.1 817.6,325.1 817.0,322.1 816.5,319.1 815.9,316.1 815.4,313.1 814.9,310.1 814.6,307.1 814.3,304.1 814.0,301.1 813.6,298.1 813.2,295.1 812.6,292.0 812.0,289.0 811.5,286.0 810.9,283.0 810.4,280.0 810.0,277.0 809.7,274.0 809.4,271.0 809.2,268.0 808.9,265.0 808.6,262.0 808.2,259.0 807.8,256.0 807.4,253.0 807.1,249.9 806.8,246.9 806.5,243.9 806.3,240.9 803.5,240.9"/><polygon points="845.4,482.7 848.1,482.7 848.3,479.7 848.5,476.7 848.9,473.7 849.2,470.7 849.5,467.7 849.7,464.7 849.8,461.6 850.0,458.6 850.3,455.6 850.6,452.6 850.9,449.6 851.2,446.6 851.5,443.6 851.8,440.6 852.0,437.5 852.2,434.5 852.3,431.5 852.6,428.5 852.9,425.5 853.3,422.5 853.8,419.5 854.2,416.5 854.7,413.4 855.1,410.4 855.5,407.4 855.8,404.4 856.1,401.4 856.2,398.4 856.5,395.4 856.8,392.4 857.1,389.3 857.5,386.3 857.9,383.3 858.3,380.3 858.6,377.3 858.9,374.3 859.1,371.3 859.3,368.2 859.3,365.2 859.3,362.2 859.3,359.2 859.3,356.2 859.3,353.2 859.3,350.2 859.3,347.2 859.3,344.1 859.3,341.1 859.3,338.1 859.3,335.1 859.1,332.1 859.0,329.1 858.8,326.1 858.7,323.1 858.5,320.0 858.3,317.0 858.1,314.0 857.9,311.0 857.8,308.0 857.7,305.0 857.5,302.0 857.3,299.0 857.0,295.9 856.7,292.9 856.3,289.9 855.9,286.9 855.5,283.9 855.2,280.9 854.9,277.9 854.6,274.8 854.4,271.8 854.2,268.8 853.8,265.8 853.4,262.8 853.0,259.8 852.5,256.8 852.0,253.8 851.5,250.7 851.1,247.7 850.7,244.7 850.4,241.7 850.2,238.7 850.0,235.7 849.7,232.7 849.4,229.7 849.1,226.6 848.8,223.6 848.5,220.6 848.2,217.6 848.1,214.6 845.4,214.6"/><polygon points="887.3,463.5 887.9,463.5 887.9,460.5 887.9,457.5 888.0,454.5 888.0,451.5 888.0,448.5 888.1,445.5 888.1,442.5 888.2,439.5 888.2,436.5 888.2,433.5 888.3,430.5 888.6,427.5 888.9,424.5 889.2,421.5 889.6,418.5 890.0,415.5 890.4,412.5 890.7,409.5 891.0,406.5 891.3,403.5 891.4,400.5 891.7,397.5 892.1,394.5 892.6,391.5 893.1,388.5 893.7,385.5 894.3,382.5 894.8,379.5 895.3,376.5 895.7,373.5 896.1,370.5 896.4,367.5 896.8,364.4 897.3,361.4 898.0,358.4 898.7,355.4 899.5,352.4 900.3,349.4 901.0,346.4 901.6,343.4 902.2,340.4 902.6,337.4 902.9,334.4 903.4,331.4 904.0,328.4 904.6,325.4 905.0,322.4 905.2,319.4 905.2,316.4 905.1,313.4 905.0,310.4 904.9,307.4 904.9,304.4 904.7,301.4 904.4,298.4 904.0,295.4 903.6,292.4 903.1,289.4 902.7,286.4 902.2,283.4 901.8,280.4 901.5,277.4 901.2,274.4 901.0,271.4 900.7,268.4 900.4,265.4 900.0,262.4 899.6,259.4 899.1,256.4 898.7,253.4 898.2,250.4 897.8,247.4 897.5,244.4 897.3,241.4 897.0,238.4 896.7,235.4 896.3,232.4 895.8,229.4 895.2,226.4 894.6,223.4 894.1,220.4 893.5,217.4 893.1,214.4 892.7,211.4 892.4,208.4 892.2,205.4 891.9,202.4 891.5,199.4 891.0,196.4 890.6,193.4 890.1,190.4 889.6,187.4 889.1,184.4 888.7,181.4 888.4,178.4 888.2,175.4 887.3,175.4"/><polygon points="594.0,1030.6 610.3,1030.6 611.2,1027.6 612.7,1024.6 614.1,1021.6 614.9,1018.6 615.4,1015.6 616.1,1012.6 616.8,1009.6 617.5,1006.6 617.9,1003.6 617.9,1000.6 617.9,997.5 617.9,994.5 617.9,991.5 617.9,988.5 617.5,985.5 617.0,982.5 616.3,979.5 615.6,976.5 614.9,973.5 614.1,970.5 613.4,967.5 612.7,964.5 612.2,961.5 611.8,958.5 611.5,955.5 611.0,952.5 610.3,949.5 609.6,946.5 608.9,943.5 608.1,940.5 607.4,937.5 606.7,934.5 606.2,931.5 605.8,928.4 605.5,925.4 605.0,922.4 604.5,919.4 603.8,916.4 603.2,913.4 602.5,910.4 601.8,907.4 601.2,904.4 600.7,901.4 600.4,898.4 600.2,895.4 600.0,892.4 599.8,889.4 599.6,886.4 599.3,883.4 599.0,880.4 598.8,877.4 598.5,874.4 598.3,871.4 598.2,868.4 598.1,865.4 598.0,862.3 597.8,859.3 597.7,856.3 597.5,853.3 597.3,850.3 597.1,847.3 596.9,844.3 596.8,841.3 596.7,838.3 596.6,835.3 596.5,832.3 596.3,829.3 596.2,826.3 596.0,823.3 595.8,820.3 595.6,817.3 595.4,814.3 595.3,811.3 595.2,808.3 595.1,805.3 595.1,802.3 595.0,799.3 595.0,796.3 595.0,793.2 594.9,790.2 594.9,787.2 594.8,784.2 594.8,781.2 594.8,778.2 594.7,775.2 594.7,772.2 594.6,769.2 594.6,766.2 594.6,763.2 594.0,763.2"/><polygon points="635.9,1021.5 648.3,1021.5 648.6,1018.5 649.0,1015.5 649.5,1012.5 650.0,1009.5 650.5,1006.5 650.7,1003.5 651.1,1000.5 651.6,997.5 652.1,994.5 652.5,991.5 652.8,988.5 653.1,985.5 653.4,982.5 653.8,979.5 654.3,976.5 654.8,973.5 655.3,970.5 655.8,967.5 656.2,964.5 656.5,961.5 656.8,958.5 656.8,955.5 656.8,952.5 656.8,949.5 656.8,946.5 656.8,943.5 656.6,940.5 656.3,937.5 655.9,934.5 655.4,931.5 654.9,928.5 654.4,925.5 653.9,922.5 653.5,919.5 653.1,916.5 652.9,913.5 652.6,910.5 652.1,907.5 651.5,904.5 650.8,901.5 650.0,898.5 649.3,895.5 648.5,892.5 647.9,889.5 647.3,886.5 646.9,883.5 646.6,880.5 646.2,877.5 645.8,874.5 645.3,871.5 644.7,868.5 644.2,865.5 643.6,862.5 643.1,859.5 642.7,856.4 642.3,853.4 642.1,850.4 641.7,847.4 641.3,844.4 640.8,841.4 640.2,838.4 639.7,835.4 639.1,832.4 638.6,829.4 638.1,826.4 637.8,823.4 637.6,820.4 637.6,817.4 637.5,814.4 637.5,811.4 637.4,808.4 637.3,805.4 637.2,802.4 637.1,799.4 637.0,796.4 637.0,793.4 636.9,790.4 636.8,787.4 636.8,784.4 636.7,781.4 635.9,781.4"/><polygon points="677.8,1016.0 686.3,1016.0 686.7,1013.0 687.3,1010.0 688.0,1007.0 688.4,1003.9 689.1,1000.9 690.1,997.9 691.4,994.9 692.5,991.9 693.2,988.8 693.6,985.8 694.1,982.8 694.7,979.8 695.3,976.8 696.0,973.7 696.5,970.7 696.9,967.7 696.6,964.7 696.1,961.7 695.4,958.6 694.7,955.6 694.0,952.6 693.3,949.6 692.8,946.6 692.4,943.5 692.2,940.5 691.9,937.5 691.6,934.5 691.3,931.5 690.9,928.4 690.5,925.4 690.1,922.4 689.8,919.4 689.5,916.4 689.3,913.3 689.4,910.3 689.7,907.3 689.9,904.3 690.3,901.3 690.6,898.2 690.9,895.2 691.2,892.2 691.4,889.2 691.4,886.2 691.3,883.2 691.2,880.1 691.1,877.1 691.0,874.1 690.9,871.1 690.8,868.1 690.6,865.0 690.3,862.0 689.8,859.0 689.3,856.0 688.7,853.0 688.2,849.9 687.6,846.9 687.1,843.9 686.7,840.9 686.3,837.9 686.1,834.8 685.7,831.8 685.3,828.8 684.8,825.8 684.2,822.8 683.6,819.7 683.1,816.7 682.6,813.7 682.1,810.7 681.8,807.7 681.6,804.6 681.5,801.6 681.2,798.6 681.0,795.6 680.7,792.6 680.4,789.5 680.1,786.5 679.8,783.5 679.6,780.5 679.4,777.5 679.3,774.4 677.8,774.4"/><polygon points="719.7,1013.0 725.8,1013.0 726.4,1010.0 727.2,1007.0 727.9,1004.0 728.2,1001.0 728.7,998.0 729.4,995.0 730.1,992.0 730.8,989.0 731.6,986.0 732.3,983.0 733.0,980.0 733.5,977.0 733.9,974.0 734.1,971.0 734.4,967.9 734.7,964.9 735.0,961.9 735.4,958.9 735.8,955.9 736.1,952.9 736.5,949.9 736.7,946.9 737.0,943.9 737.0,940.9 737.0,937.9 737.0,934.9 737.0,931.9 737.0,928.9 737.0,925.9 737.0,922.9 737.0,919.9 737.0,916.9 737.0,913.9 737.0,910.9 736.9,907.9 736.8,904.9 736.6,901.9 736.5,898.9 736.3,895.9 736.2,892.9 736.0,889.9 735.9,886.9 735.8,883.9 735.7,880.9 735.5,877.9 735.3,874.9 735.0,871.9 734.8,868.9 734.4,865.9 734.1,862.9 733.9,859.9 733.6,856.9 733.4,853.9 733.3,850.9 733.0,847.9 732.7,844.9 732.3,841.9 731.9,838.9 731.4,835.9 730.9,832.9 730.5,829.9 730.2,826.9 729.9,823.9 729.7,820.9 729.3,817.9 728.9,814.9 728.4,811.9 727.8,808.9 727.2,805.9 726.6,802.9 726.0,799.8 725.5,796.8 725.1,793.8 724.8,790.8 724.6,787.8 724.3,784.8 723.9,781.8 723.5,778.8 723.0,775.8 722.5,772.8 722.1,769.8 721.7,766.8 721.4,763.8 721.2,760.8 721.2,757.8 721.1,754.8 721.1,751.8 721.1,748.8 721.0,745.8 721.0,742.8 720.9,739.8 720.9,736.8 720.8,733.8 720.8,730.8 720.7,727.8 720.7,724.8 720.6,721.8 720.6,718.8 720.6,715.8 719.7,715.8"/><polygon points="761.6,982.3 765.3,982.3 765.5,979.2 765.7,976.2 766.0,973.2 766.4,970.1 766.8,967.1 767.2,964.1 767.6,961.1 767.9,958.0 768.3,955.0 768.6,952.0 768.8,949.0 769.0,945.9 769.3,942.9 769.6,939.9 770.0,936.8 770.4,933.8 770.9,930.8 771.4,927.8 771.8,924.7 772.1,921.7 772.4,918.7 772.5,915.6 772.7,912.6 773.0,909.6 773.3,906.6 773.6,903.5 773.9,900.5 774.2,897.5 774.4,894.5 774.6,891.4 774.7,888.4 774.8,885.4 774.8,882.3 774.9,879.3 775.0,876.3 775.0,873.3 775.1,870.2 775.2,867.2 775.2,864.2 775.3,861.1 775.3,858.1 775.2,855.1 775.1,852.1 775.1,849.0 775.0,846.0 774.9,843.0 774.9,840.0 774.8,836.9 774.7,833.9 774.7,830.9 774.6,827.8 774.4,824.8 774.2,821.8 774.0,818.8 773.7,815.7 773.5,812.7 773.3,809.7 773.1,806.6 773.0,803.6 772.8,800.6 772.5,797.6 772.1,794.5 771.7,791.5 771.2,788.5 770.8,785.5 770.3,782.4 770.0,779.4 769.7,776.4 769.5,773.3 769.3,770.3 769.0,767.3 768.6,764.3 768.3,761.2 767.9,758.2 767.5,755.2 767.2,752.1 766.9,749.1 766.7,746.1 766.6,743.1 766.3,740.0 766.1,737.0 765.8,734.0 765.5,731.0 765.2,727.9 764.9,724.9 764.7,721.9 764.5,718.8 764.4,715.8 764.3,712.8 764.1,709.8 763.9,706.7 763.8,703.7 763.6,700.7 763.4,697.6 763.1,694.6 763.0,691.6 762.8,688.6 762.6,685.5 762.5,682.5 762.4,679.5 761.6,679.5"/><polygon points="803.5,978.5 809.7,978.5 809.8,975.5 810.1,972.5 810.3,969.5 810.6,966.4 811.0,963.4 811.3,960.4 811.7,957.4 812.0,954.4 812.2,951.3 812.4,948.3 812.6,945.3 812.8,942.3 813.1,939.2 813.4,936.2 813.8,933.2 814.2,930.2 814.6,927.2 814.9,924.1 815.2,921.1 815.4,918.1 815.6,915.1 816.0,912.1 816.5,909.0 817.1,906.0 817.6,903.0 818.2,900.0 818.7,896.9 819.2,893.9 819.5,890.9 819.8,887.9 820.0,884.9 820.4,881.8 820.7,878.8 821.1,875.8 821.4,872.8 821.7,869.7 821.6,866.7 821.3,863.7 821.0,860.7 820.7,857.7 820.4,854.6 820.1,851.6 819.8,848.6 819.6,845.6 819.2,842.5 818.7,839.5 818.0,836.5 817.2,833.5 816.5,830.5 815.7,827.4 815.0,824.4 814.5,821.4 814.0,818.4 813.8,815.4 813.5,812.3 813.1,809.3 812.6,806.3 812.1,803.3 811.6,800.2 811.1,797.2 810.7,794.2 810.4,791.2 810.2,788.2 810.1,785.1 810.0,782.1 809.9,779.1 809.7,776.1 809.6,773.0 809.4,770.0 809.3,767.0 809.2,764.0 809.1,761.0 809.0,757.9 808.8,754.9 808.5,751.9 808.2,748.9 807.9,745.8 807.6,742.8 807.3,739.8 807.1,736.8 806.9,733.8 806.8,730.7 806.5,727.7 806.3,724.7 805.9,721.7 805.6,718.7 805.2,715.6 804.9,712.6 804.5,709.6 804.3,706.6 804.1,703.5 803.5,703.5"/><polygon points="845.4,978.5 847.5,978.5 847.8,975.5 848.3,972.5 848.9,969.5 849.5,966.5 850.0,963.5 850.4,960.5 850.7,957.4 851.2,954.4 851.8,951.4 852.5,948.4 853.2,945.4 853.8,942.4 854.5,939.4 855.0,936.4 855.4,933.3 855.6,930.3 855.8,927.3 856.1,924.3 856.5,921.3 856.9,918.3 857.3,915.3 857.6,912.3 857.9,909.2 858.2,906.2 858.4,903.2 858.3,900.2 858.3,897.2 858.2,894.2 858.1,891.2 858.0,888.2 858.0,885.1 857.9,882.1 857.8,879.1 857.8,876.1 857.7,873.1 857.6,870.1 857.4,867.1 857.2,864.1 857.0,861.0 856.7,858.0 856.5,855.0 856.3,852.0 856.2,849.0 856.1,846.0 856.2,843.0 856.4,840.0 856.5,836.9 856.8,833.9 857.0,830.9 857.2,827.9 857.4,824.9 857.6,821.9 857.7,818.9 857.8,815.9 857.8,812.8 857.8,809.8 857.8,806.8 857.8,803.8 857.8,800.8 857.8,797.8 857.8,794.8 857.8,791.8 857.8,788.7 857.5,785.7 857.2,782.7 856.8,779.7 856.3,776.7 855.8,773.7 855.3,770.7 854.8,767.7 854.5,764.6 854.2,761.6 853.9,758.6 853.6,755.6 853.3,752.6 852.8,749.6 852.3,746.6 851.8,743.6 851.3,740.5 850.9,737.5 850.6,734.5 850.3,731.5 850.2,728.5 850.0,725.5 849.7,722.5 849.5,719.5 849.2,716.4 848.9,713.4 848.7,710.4 848.5,707.4 848.3,704.4 845.4,704.4"/><polygon points="887.3,963.1 889.3,963.1 889.3,960.1 889.3,957.0 889.3,954.0 889.3,951.0 889.3,948.0 889.3,945.0 889.4,942.0 889.5,939.0 889.7,936.0 889.8,932.9 890.0,929.9 890.1,926.9 890.3,923.9 890.4,920.9 890.4,917.9 890.6,914.9 890.9,911.9 891.2,908.8 891.6,905.8 892.0,902.8 892.3,899.8 892.7,896.8 893.0,893.8 893.2,890.8 893.5,887.8 893.9,884.7 894.5,881.7 895.2,878.7 895.9,875.7 896.7,872.7 897.5,869.7 898.1,866.7 898.6,863.7 899.0,860.6 899.4,857.6 899.9,854.6 900.6,851.6 901.3,848.6 902.1,845.6 902.8,842.6 903.5,839.6 904.1,836.5 904.6,833.5 904.7,830.5 904.6,827.5 904.5,824.5 904.4,821.5 904.2,818.5 904.1,815.5 903.9,812.4 903.8,809.4 903.7,806.4 903.6,803.4 903.4,800.4 903.2,797.4 902.9,794.4 902.5,791.4 902.1,788.3 901.7,785.3 901.4,782.3 901.1,779.3 900.9,776.3 900.7,773.3 900.5,770.3 900.2,767.3 899.8,764.2 899.4,761.2 899.1,758.2 898.7,755.2 898.4,752.2 898.1,749.2 897.9,746.2 897.7,743.2 897.3,740.2 896.9,737.1 896.4,734.1 895.9,731.1 895.5,728.1 895.0,725.1 894.6,722.1 894.3,719.1 894.1,716.1 893.8,713.0 893.5,710.0 893.1,707.0 892.6,704.0 892.2,701.0 891.7,698.0 891.2,695.0 890.8,692.0 890.4,688.9 890.1,685.9 889.9,682.9 887.3,682.9"/><polygon points="1024.5,546.9 1031.1,546.9 1031.8,543.8 1032.9,540.8 1034.1,537.8 1035.4,534.8 1036.5,531.7 1037.3,528.7 1037.9,525.7 1038.8,522.7 1040.0,519.6 1041.1,516.6 1041.9,513.6 1042.3,510.6 1042.9,507.5 1043.7,504.5 1044.4,501.5 1045.0,498.5 1045.2,495.4 1045.2,492.4 1045.2,489.4 1045.2,486.4 1045.2,483.3 1045.1,480.3 1044.8,477.3 1044.4,474.3 1043.9,471.2 1043.3,468.2 1042.8,465.2 1042.2,462.2 1041.6,459.1 1041.2,456.1 1040.8,453.1 1040.5,450.1 1040.1,447.0 1039.6,444.0 1039.0,441.0 1038.3,438.0 1037.5,434.9 1036.7,431.9 1036.0,428.9 1035.3,425.9 1034.8,422.8 1034.4,419.8 1034.0,416.8 1033.4,413.8 1032.7,410.7 1031.9,407.7 1031.0,404.7 1030.2,401.6 1029.4,398.6 1028.9,395.6 1028.6,392.6 1028.4,389.5 1028.3,386.5 1028.1,383.5 1027.8,380.5 1027.6,377.4 1027.5,374.4 1027.4,371.4 1027.3,368.4 1027.3,365.3 1027.2,362.3 1027.2,359.3 1027.1,356.3 1027.0,353.2 1027.0,350.2 1026.9,347.2 1026.8,344.2 1026.7,341.1 1026.7,338.1 1026.6,335.1 1026.5,332.1 1026.5,329.0 1026.4,326.0 1026.4,323.0 1026.4,320.0 1026.3,316.9 1026.3,313.9 1026.2,310.9 1026.1,307.9 1026.0,304.8 1025.9,301.8 1025.9,298.8 1025.8,295.8 1025.7,292.7 1025.6,289.7 1025.6,286.7 1025.5,283.7 1025.5,280.6 1024.5,280.6"/><polygon points="1066.4,528.1 1075.5,528.1 1075.6,525.1 1075.8,522.1 1076.1,519.1 1076.3,516.0 1076.4,513.0 1076.6,510.0 1076.8,507.0 1077.1,504.0 1077.5,500.9 1077.9,497.9 1078.3,494.9 1078.6,491.9 1079.0,488.9 1079.3,485.8 1079.5,482.8 1079.6,479.8 1079.9,476.8 1080.1,473.8 1080.5,470.7 1080.9,467.7 1081.2,464.7 1081.6,461.7 1082.0,458.6 1082.3,455.6 1082.5,452.6 1082.7,449.6 1083.2,446.6 1083.9,443.5 1084.7,440.5 1085.4,437.5 1085.8,434.5 1085.8,431.5 1085.8,428.4 1085.8,425.4 1085.8,422.4 1085.8,419.4 1085.5,416.4 1085.0,413.3 1084.4,410.3 1083.7,407.3 1083.0,404.3 1082.2,401.2 1081.5,398.2 1080.8,395.2 1080.2,392.2 1079.8,389.2 1079.4,386.1 1079.1,383.1 1078.6,380.1 1078.0,377.1 1077.4,374.1 1076.7,371.0 1076.1,368.0 1075.5,365.0 1075.0,362.0 1074.5,359.0 1074.2,355.9 1074.0,352.9 1073.8,349.9 1073.5,346.9 1073.1,343.9 1072.7,340.8 1072.3,337.8 1072.0,334.8 1071.6,331.8 1071.4,328.8 1071.2,325.7 1071.0,322.7 1070.8,319.7 1070.6,316.7 1070.3,313.6 1070.0,310.6 1069.7,307.6 1069.4,304.6 1069.1,301.6 1068.9,298.5 1068.7,295.5 1068.6,292.5 1068.5,289.5 1068.4,286.5 1068.3,283.4 1068.1,280.4 1068.0,277.4 1067.8,274.4 1067.7,271.4 1067.5,268.3 1067.4,265.3 1067.2,262.3 1067.1,259.3 1067.1,256.2 1066.4,256.2"/><polygon points="1108.3,515.6 1116.4,515.6 1117.1,512.6 1117.2,509.6 1117.5,506.6 1117.8,503.6 1118.2,500.6 1118.5,497.6 1118.9,494.5 1119.3,491.5 1119.6,488.5 1119.9,485.5 1120.1,482.5 1120.2,479.5 1120.4,476.5 1120.5,473.5 1120.7,470.5 1120.9,467.4 1121.0,464.4 1121.2,461.4 1121.4,458.4 1121.6,455.4 1121.7,452.4 1121.8,449.4 1121.9,446.4 1122.0,443.4 1122.2,440.3 1122.3,437.3 1122.5,434.3 1122.7,431.3 1122.9,428.3 1123.1,425.3 1123.2,422.3 1123.3,419.3 1123.3,416.3 1123.2,413.2 1123.1,410.2 1123.0,407.2 1122.9,404.2 1122.8,401.2 1122.7,398.2 1122.6,395.2 1122.5,392.2 1122.4,389.2 1122.3,386.1 1122.1,383.1 1121.8,380.1 1121.5,377.1 1121.1,374.1 1120.7,371.1 1120.3,368.1 1120.0,365.1 1119.7,362.1 1119.4,359.0 1119.2,356.0 1119.0,353.0 1118.8,350.0 1118.5,347.0 1118.1,344.0 1117.7,341.0 1117.3,338.0 1117.0,335.0 1116.7,331.9 1116.4,328.9 1116.2,325.9 1116.0,322.9 1115.8,319.9 1115.5,316.9 1115.1,313.9 1114.8,310.9 1114.4,307.9 1114.0,304.9 1113.6,301.8 1113.4,298.8 1113.1,295.8 1113.0,292.8 1112.8,289.8 1112.6,286.8 1112.4,283.8 1112.1,280.8 1111.9,277.8 1111.6,274.7 1111.4,271.7 1111.1,268.7 1111.0,265.7 1110.8,262.7 1110.7,259.7 1110.6,256.7 1110.5,253.7 1110.4,250.7 1110.2,247.6 1110.0,244.6 1109.9,241.6 1109.7,238.6 1109.6,235.6 1109.4,232.6 1109.3,229.6 1109.2,226.6 1108.3,226.6"/><polygon points="1150.2,523.4 1153.0,523.4 1153.2,520.4 1153.4,517.4 1153.7,514.4 1154.1,511.4 1154.5,508.4 1154.8,505.4 1155.1,502.4 1155.4,499.4 1155.5,496.4 1155.8,493.4 1156.1,490.4 1156.5,487.4 1156.9,484.4 1157.4,481.4 1157.8,478.4 1158.2,475.4 1158.6,472.4 1159.0,469.4 1159.2,466.4 1159.4,463.4 1159.6,460.4 1159.9,457.4 1160.3,454.4 1160.6,451.4 1161.0,448.3 1161.4,445.3 1161.7,442.3 1162.0,439.3 1162.3,436.3 1162.4,433.3 1162.6,430.3 1162.9,427.3 1163.2,424.3 1163.6,421.3 1164.0,418.3 1164.4,415.3 1164.7,412.3 1165.0,409.3 1165.3,406.3 1165.5,403.3 1165.6,400.3 1165.7,397.3 1165.9,394.3 1166.0,391.3 1166.2,388.3 1166.4,385.3 1166.6,382.3 1166.8,379.3 1166.9,376.3 1167.0,373.3 1167.0,370.3 1166.9,367.2 1166.8,364.2 1166.6,361.2 1166.4,358.2 1166.2,355.2 1166.0,352.2 1165.9,349.2 1165.7,346.2 1165.6,343.2 1165.5,340.2 1165.2,337.2 1164.8,334.2 1164.3,331.2 1163.8,328.2 1163.2,325.2 1162.6,322.2 1162.1,319.2 1161.6,316.2 1161.2,313.2 1160.9,310.2 1160.6,307.2 1160.3,304.2 1159.8,301.2 1159.3,298.2 1158.7,295.2 1158.2,292.2 1157.6,289.2 1157.1,286.1 1156.6,283.1 1156.3,280.1 1156.1,277.1 1155.9,274.1 1155.6,271.1 1155.3,268.1 1154.9,265.1 1154.5,262.1 1154.1,259.1 1153.8,256.1 1153.5,253.1 1153.2,250.1 1153.0,247.1 1152.9,244.1 1152.8,241.1 1152.7,238.1 1152.5,235.1 1152.3,232.1 1152.1,229.1 1152.0,226.1 1151.8,223.1 1151.6,220.1 1151.5,217.1 1151.4,214.1 1150.2,214.1"/><polygon points="1192.1,475.8 1194.2,475.8 1194.3,472.7 1194.5,469.7 1194.7,466.7 1194.9,463.6 1195.1,460.6 1195.4,457.6 1195.6,454.6 1195.9,451.5 1196.1,448.5 1196.4,445.5 1196.6,442.4 1196.7,439.4 1196.8,436.4 1197.1,433.4 1197.4,430.3 1197.8,427.3 1198.2,424.3 1198.7,421.2 1199.1,418.2 1199.6,415.2 1200.0,412.2 1200.3,409.1 1200.6,406.1 1200.8,403.1 1201.1,400.0 1201.4,397.0 1201.8,394.0 1202.2,391.0 1202.7,387.9 1203.1,384.9 1203.6,381.9 1204.0,378.8 1204.3,375.8 1204.6,372.8 1204.8,369.8 1204.9,366.7 1205.1,363.7 1205.2,360.7 1205.5,357.6 1205.7,354.6 1205.9,351.6 1206.2,348.6 1206.4,345.5 1206.5,342.5 1206.7,339.5 1206.7,336.4 1206.6,333.4 1206.5,330.4 1206.4,327.4 1206.3,324.3 1206.2,321.3 1206.1,318.3 1206.0,315.3 1205.9,312.2 1205.8,309.2 1205.7,306.2 1205.6,303.1 1205.4,300.1 1205.1,297.1 1204.8,294.1 1204.4,291.0 1204.0,288.0 1203.6,285.0 1203.3,281.9 1202.9,278.9 1202.7,275.9 1202.5,272.9 1202.3,269.8 1202.1,266.8 1201.8,263.8 1201.4,260.7 1201.1,257.7 1200.7,254.7 1200.3,251.7 1199.9,248.6 1199.6,245.6 1199.4,242.6 1199.2,239.5 1199.0,236.5 1198.9,233.5 1198.7,230.5 1198.5,227.4 1198.3,224.4 1198.1,221.4 1197.9,218.3 1197.7,215.3 1197.6,212.3 1197.5,209.3 1192.1,209.3"/><polygon points="1234.0,481.4 1236.4,481.4 1236.6,478.3 1236.8,475.3 1237.1,472.3 1237.4,469.3 1237.8,466.2 1238.2,463.2 1238.6,460.2 1239.0,457.1 1239.4,454.1 1239.7,451.1 1240.1,448.1 1240.4,445.0 1240.7,442.0 1240.9,439.0 1241.1,436.0 1241.3,432.9 1241.7,429.9 1242.1,426.9 1242.6,423.9 1243.1,420.8 1243.6,417.8 1244.1,414.8 1244.5,411.8 1244.9,408.7 1245.2,405.7 1245.3,402.7 1245.5,399.6 1245.7,396.6 1246.0,393.6 1246.3,390.6 1246.6,387.5 1246.9,384.5 1247.2,381.5 1247.5,378.5 1247.7,375.4 1247.9,372.4 1247.9,369.4 1247.9,366.4 1247.9,363.3 1247.9,360.3 1247.9,357.3 1247.9,354.3 1247.9,351.2 1247.9,348.2 1247.9,345.2 1247.9,342.1 1247.9,339.1 1247.9,336.1 1247.7,333.1 1247.4,330.0 1247.2,327.0 1246.9,324.0 1246.6,321.0 1246.3,317.9 1246.0,314.9 1245.7,311.9 1245.5,308.9 1245.3,305.8 1245.2,302.8 1244.9,299.8 1244.7,296.8 1244.3,293.7 1243.9,290.7 1243.6,287.7 1243.2,284.6 1242.8,281.6 1242.5,278.6 1242.2,275.6 1242.0,272.5 1241.9,269.5 1241.6,266.5 1241.3,263.5 1241.0,260.4 1240.6,257.4 1240.2,254.4 1239.8,251.4 1239.5,248.3 1239.2,245.3 1238.9,242.3 1238.7,239.3 1238.6,236.2 1238.4,233.2 1238.2,230.2 1238.0,227.1 1237.7,224.1 1237.4,221.1 1237.2,218.1 1236.9,215.0 1236.7,212.0 1236.5,209.0 1236.4,206.0 1234.0,206.0"/><polygon points="1275.9,461.6 1277.3,461.6 1277.5,458.5 1277.8,455.5 1278.2,452.5 1278.6,449.5 1279.0,446.4 1279.4,443.4 1279.7,440.4 1279.9,437.3 1280.1,434.3 1280.3,431.3 1280.6,428.2 1281.0,425.2 1281.3,422.2 1281.7,419.2 1282.1,416.1 1282.5,413.1 1282.8,410.1 1283.0,407.0 1283.2,404.0 1283.4,401.0 1283.6,397.9 1284.0,394.9 1284.3,391.9 1284.7,388.9 1285.1,385.8 1285.4,382.8 1285.8,379.8 1286.1,376.7 1286.4,373.7 1286.5,370.7 1286.8,367.6 1287.1,364.6 1287.4,361.6 1287.9,358.6 1288.3,355.5 1288.8,352.5 1289.2,349.5 1289.7,346.4 1290.0,343.4 1290.3,340.4 1290.5,337.4 1290.5,334.3 1290.5,331.3 1290.5,328.3 1290.5,325.2 1290.5,322.2 1290.5,319.2 1290.5,316.1 1290.5,313.1 1290.5,310.1 1290.5,307.1 1290.4,304.0 1290.3,301.0 1290.1,298.0 1289.9,294.9 1289.6,291.9 1289.4,288.9 1289.1,285.8 1288.8,282.8 1288.6,279.8 1288.4,276.8 1288.2,273.7 1288.1,270.7 1287.8,267.7 1287.4,264.6 1287.0,261.6 1286.5,258.6 1286.0,255.6 1285.5,252.5 1285.1,249.5 1284.6,246.5 1284.3,243.4 1284.0,240.4 1283.8,237.4 1283.7,234.3 1283.5,231.3 1283.3,228.3 1283.1,225.3 1282.9,222.2 1282.7,219.2 1282.4,216.2 1282.2,213.1 1282.0,210.1 1281.8,207.1 1281.7,204.0 1281.6,201.0 1275.9,201.0"/><polygon points="1317.8,448.4 1318.8,448.4 1318.9,445.3 1318.9,442.3 1318.9,439.3 1319.0,436.3 1319.0,433.2 1319.1,430.2 1319.2,427.2 1319.2,424.1 1319.3,421.1 1319.3,418.1 1319.4,415.1 1319.4,412.0 1319.5,409.0 1319.5,406.0 1319.5,402.9 1319.6,399.9 1319.8,396.9 1319.9,393.9 1320.1,390.8 1320.3,387.8 1320.5,384.8 1320.7,381.7 1320.8,378.7 1321.0,375.7 1321.1,372.7 1321.2,369.6 1321.4,366.6 1321.7,363.6 1322.0,360.5 1322.4,357.5 1322.8,354.5 1323.2,351.5 1323.5,348.4 1323.9,345.4 1324.2,342.4 1324.4,339.3 1324.7,336.3 1325.4,333.3 1326.2,330.2 1327.2,327.2 1328.3,324.2 1329.5,321.2 1330.6,318.1 1331.7,315.1 1332.7,312.1 1333.5,309.0 1334.2,306.0 1334.5,303.0 1334.9,300.0 1335.5,296.9 1336.0,293.9 1336.4,290.9 1336.7,287.8 1336.7,284.8 1336.7,281.8 1336.7,278.8 1336.7,275.7 1336.7,272.7 1336.6,269.7 1336.4,266.6 1336.2,263.6 1336.0,260.6 1335.7,257.6 1335.4,254.5 1335.2,251.5 1334.9,248.5 1334.7,245.4 1334.5,242.4 1334.4,239.4 1334.1,236.4 1333.7,233.3 1333.2,230.3 1332.6,227.3 1331.9,224.2 1331.3,221.2 1330.6,218.2 1330.0,215.2 1329.5,212.1 1329.1,209.1 1328.7,206.1 1328.4,203.0 1328.0,200.0 1327.4,197.0 1326.8,193.9 1326.1,190.9 1325.4,187.9 1324.7,184.9 1324.1,181.8 1323.5,178.8 1323.1,175.8 1322.8,172.7 1322.4,169.7 1321.8,166.7 1321.2,163.7 1320.4,160.6 1319.8,157.6 1319.2,154.6 1318.8,151.5 1317.8,151.5"/><polygon points="1024.5,1027.1 1032.6,1027.1 1033.3,1024.1 1034.2,1021.0 1035.4,1018.0 1036.7,1015.0 1037.8,1012.0 1038.7,1008.9 1039.3,1005.9 1040.3,1002.9 1041.6,999.9 1043.0,996.8 1044.1,993.8 1044.8,990.8 1045.0,987.7 1045.3,984.7 1045.6,981.7 1045.9,978.7 1046.1,975.6 1045.9,972.6 1045.5,969.6 1045.1,966.6 1044.6,963.5 1044.1,960.5 1043.6,957.5 1043.0,954.5 1042.5,951.4 1042.1,948.4 1041.8,945.4 1041.5,942.3 1041.2,939.3 1040.7,936.3 1040.1,933.3 1039.5,930.2 1038.8,927.2 1038.1,924.2 1037.4,921.2 1036.8,918.1 1036.3,915.1 1035.9,912.1 1035.6,909.1 1035.2,906.0 1034.7,903.0 1034.1,900.0 1033.4,896.9 1032.7,893.9 1032.0,890.9 1031.4,887.9 1030.8,884.8 1030.4,881.8 1030.0,878.8 1029.8,875.8 1029.6,872.7 1029.3,869.7 1028.9,866.7 1028.5,863.7 1028.2,860.6 1027.8,857.6 1027.4,854.6 1027.1,851.5 1026.9,848.5 1026.8,845.5 1026.8,842.5 1026.7,839.4 1026.6,836.4 1026.6,833.4 1026.5,830.4 1026.4,827.3 1026.3,824.3 1026.3,821.3 1026.2,818.3 1026.2,815.2 1026.1,812.2 1026.1,809.2 1026.1,806.1 1026.0,803.1 1025.9,800.1 1025.9,797.1 1025.8,794.0 1025.7,791.0 1025.7,788.0 1025.6,785.0 1025.5,781.9 1025.4,778.9 1025.4,775.9 1025.3,772.9 1025.3,769.8 1025.2,766.8 1025.2,763.8 1024.5,763.8"/><polygon points="1066.4,1012.0 1075.9,1012.0 1076.1,1009.0 1076.3,1006.0 1076.6,1003.0 1076.9,999.9 1077.2,996.9 1077.5,993.9 1077.8,990.9 1078.2,987.9 1078.5,984.9 1078.7,981.8 1079.0,978.8 1079.1,975.8 1079.3,972.8 1079.6,969.8 1080.0,966.8 1080.5,963.8 1081.0,960.7 1081.5,957.7 1082.0,954.7 1082.4,951.7 1082.8,948.7 1083.1,945.7 1083.3,942.6 1083.5,939.6 1083.8,936.6 1084.1,933.6 1084.4,930.6 1084.7,927.6 1085.1,924.6 1085.3,921.5 1085.5,918.5 1085.4,915.5 1085.1,912.5 1084.6,909.5 1084.1,906.5 1083.5,903.4 1083.0,900.4 1082.6,897.4 1082.3,894.4 1082.0,891.4 1081.7,888.4 1081.2,885.4 1080.6,882.3 1080.1,879.3 1079.5,876.3 1078.9,873.3 1078.4,870.3 1078.0,867.3 1077.7,864.2 1077.4,861.2 1077.1,858.2 1076.7,855.2 1076.2,852.2 1075.6,849.2 1075.1,846.2 1074.5,843.1 1073.9,840.1 1073.5,837.1 1073.1,834.1 1072.8,831.1 1072.5,828.1 1072.2,825.0 1071.8,822.0 1071.4,819.0 1070.9,816.0 1070.4,813.0 1069.9,810.0 1069.5,807.0 1069.1,803.9 1068.7,800.9 1068.5,797.9 1068.5,794.9 1068.3,791.9 1068.2,788.9 1068.0,785.8 1067.9,782.8 1067.7,779.8 1067.5,776.8 1067.3,773.8 1067.2,770.8 1067.1,767.7 1067.0,764.7 1066.4,764.7"/><polygon points="1108.3,1009.8 1113.5,1009.8 1113.9,1006.8 1114.3,1003.8 1114.9,1000.8 1115.5,997.8 1116.2,994.8 1116.9,991.8 1117.6,988.7 1118.3,985.7 1118.9,982.7 1119.4,979.7 1119.8,976.7 1120.0,973.7 1120.2,970.7 1120.4,967.7 1120.7,964.7 1120.9,961.7 1121.3,958.7 1121.6,955.7 1121.8,952.7 1122.1,949.7 1122.3,946.7 1122.5,943.7 1122.5,940.7 1122.4,937.7 1122.4,934.7 1122.3,931.7 1122.2,928.7 1122.2,925.7 1122.1,922.7 1122.0,919.7 1122.0,916.7 1121.9,913.7 1121.9,910.7 1121.7,907.7 1121.5,904.7 1121.3,901.7 1121.0,898.7 1120.7,895.7 1120.4,892.7 1120.1,889.7 1119.8,886.7 1119.6,883.7 1119.4,880.7 1119.3,877.7 1119.1,874.7 1118.9,871.7 1118.6,868.7 1118.3,865.7 1118.0,862.7 1117.7,859.7 1117.4,856.7 1117.2,853.7 1116.9,850.7 1116.8,847.7 1116.6,844.7 1116.4,841.7 1116.1,838.7 1115.8,835.7 1115.4,832.7 1115.0,829.7 1114.6,826.7 1114.3,823.7 1114.0,820.7 1113.7,817.7 1113.5,814.7 1113.3,811.7 1113.1,808.7 1112.8,805.7 1112.4,802.7 1112.1,799.7 1111.7,796.7 1111.3,793.7 1111.0,790.7 1110.7,787.7 1110.4,784.7 1110.3,781.7 1110.2,778.7 1110.1,775.7 1110.0,772.7 1109.9,769.7 1109.7,766.7 1109.6,763.7 1109.4,760.7 1109.3,757.7 1109.2,754.7 1109.1,751.7 1109.0,748.7 1108.3,748.7"/><polygon points="1150.2,1005.6 1154.6,1005.6 1155.0,1002.6 1155.6,999.6 1156.3,996.6 1156.9,993.5 1157.2,990.5 1157.5,987.5 1157.8,984.5 1158.2,981.5 1158.6,978.5 1159.1,975.5 1159.5,972.5 1160.0,969.5 1160.4,966.5 1160.7,963.5 1160.9,960.5 1161.1,957.4 1161.4,954.4 1161.8,951.4 1162.2,948.4 1162.6,945.4 1163.1,942.4 1163.5,939.4 1163.9,936.4 1164.3,933.4 1164.6,930.4 1164.9,927.4 1165.0,924.4 1165.1,921.3 1165.3,918.3 1165.5,915.3 1165.7,912.3 1166.0,909.3 1166.2,906.3 1166.4,903.3 1166.6,900.3 1166.7,897.3 1166.8,894.3 1166.8,891.3 1166.7,888.3 1166.6,885.2 1166.5,882.2 1166.4,879.2 1166.2,876.2 1166.1,873.2 1166.0,870.2 1166.0,867.2 1165.9,864.2 1165.8,861.2 1165.7,858.2 1165.6,855.2 1165.4,852.2 1165.2,849.1 1165.0,846.1 1164.8,843.1 1164.7,840.1 1164.5,837.1 1164.4,834.1 1164.3,831.1 1164.1,828.1 1163.8,825.1 1163.4,822.1 1163.0,819.1 1162.6,816.1 1162.1,813.0 1161.7,810.0 1161.2,807.0 1160.9,804.0 1160.6,801.0 1160.4,798.0 1160.1,795.0 1159.6,792.0 1159.1,789.0 1158.6,786.0 1158.0,783.0 1157.3,780.0 1156.7,776.9 1156.2,773.9 1155.8,770.9 1155.4,767.9 1155.2,764.9 1154.9,761.9 1154.6,758.9 1154.2,755.9 1153.7,752.9 1153.3,749.9 1152.8,746.9 1152.4,743.9 1152.0,740.8 1151.7,737.8 1151.4,734.8 1151.4,731.8 1151.4,728.8 1151.3,725.8 1151.3,722.8 1151.3,719.8 1151.2,716.8 1151.2,713.8 1151.1,710.8 1151.1,707.8 1151.0,704.7 1151.0,701.7 1150.9,698.7 1150.9,695.7 1150.9,692.7 1150.8,689.7 1150.8,686.7 1150.2,686.7"/><polygon points="1192.1,963.7 1195.3,963.7 1195.4,960.6 1195.6,957.6 1195.9,954.6 1196.2,951.6 1196.5,948.5 1196.8,945.5 1197.2,942.5 1197.5,939.5 1197.9,936.5 1198.2,933.4 1198.4,930.4 1198.7,927.4 1198.9,924.4 1199.0,921.3 1199.3,918.3 1199.6,915.3 1200.0,912.3 1200.5,909.2 1201.0,906.2 1201.4,903.2 1201.8,900.2 1202.1,897.1 1202.4,894.1 1202.6,891.1 1202.8,888.1 1203.1,885.0 1203.5,882.0 1203.9,879.0 1204.3,876.0 1204.6,873.0 1204.9,869.9 1205.2,866.9 1205.3,863.9 1205.4,860.9 1205.6,857.8 1205.7,854.8 1205.9,851.8 1206.1,848.8 1206.3,845.7 1206.5,842.7 1206.6,839.7 1206.7,836.7 1206.7,833.6 1206.6,830.6 1206.5,827.6 1206.4,824.6 1206.3,821.6 1206.2,818.5 1206.1,815.5 1206.0,812.5 1205.9,809.5 1205.8,806.4 1205.7,803.4 1205.5,800.4 1205.2,797.4 1205.0,794.3 1204.7,791.3 1204.4,788.3 1204.2,785.3 1204.0,782.2 1203.9,779.2 1203.7,776.2 1203.4,773.2 1203.1,770.2 1202.8,767.1 1202.4,764.1 1202.0,761.1 1201.6,758.1 1201.3,755.0 1201.1,752.0 1200.9,749.0 1200.7,746.0 1200.4,742.9 1200.1,739.9 1199.7,736.9 1199.3,733.9 1198.9,730.8 1198.6,727.8 1198.3,724.8 1198.1,721.8 1198.0,718.7 1197.7,715.7 1197.4,712.7 1197.1,709.7 1196.7,706.7 1196.3,703.6 1196.0,700.6 1195.7,697.6 1195.4,694.6 1195.3,691.5 1192.1,691.5"/><polygon points="1234.0,969.4 1237.4,969.4 1237.6,966.4 1237.9,963.3 1238.2,960.3 1238.6,957.3 1239.0,954.3 1239.5,951.2 1239.9,948.2 1240.3,945.2 1240.6,942.2 1240.9,939.1 1241.1,936.1 1241.4,933.1 1241.7,930.0 1242.2,927.0 1242.6,924.0 1243.2,921.0 1243.6,917.9 1244.1,914.9 1244.5,911.9 1244.7,908.9 1244.9,905.8 1245.2,902.8 1245.5,899.8 1245.8,896.7 1246.2,893.7 1246.6,890.7 1247.0,887.7 1247.3,884.6 1247.5,881.6 1247.7,878.6 1247.8,875.6 1247.9,872.5 1248.0,869.5 1248.2,866.5 1248.3,863.5 1248.5,860.4 1248.6,857.4 1248.7,854.4 1248.8,851.3 1248.8,848.3 1248.8,845.3 1248.7,842.3 1248.6,839.2 1248.5,836.2 1248.5,833.2 1248.4,830.2 1248.3,827.1 1248.3,824.1 1248.2,821.1 1248.0,818.0 1247.7,815.0 1247.4,812.0 1247.0,809.0 1246.6,805.9 1246.2,802.9 1245.9,799.9 1245.6,796.9 1245.4,793.8 1245.2,790.8 1244.9,787.8 1244.5,784.8 1244.1,781.7 1243.6,778.7 1243.2,775.7 1242.8,772.6 1242.4,769.6 1242.1,766.6 1241.9,763.6 1241.7,760.5 1241.4,757.5 1241.1,754.5 1240.7,751.5 1240.3,748.4 1239.9,745.4 1239.6,742.4 1239.3,739.3 1239.1,736.3 1238.9,733.3 1238.7,730.3 1238.4,727.2 1238.0,724.2 1237.6,721.2 1237.2,718.2 1236.9,715.1 1236.6,712.1 1236.3,709.1 1236.2,706.0 1236.1,703.0 1235.9,700.0 1235.8,697.0 1235.6,693.9 1235.4,690.9 1235.2,687.9 1235.0,684.9 1234.8,681.8 1234.7,678.8 1234.6,675.8 1234.0,675.8"/><polygon points="1275.9,950.2 1279.2,950.2 1279.4,947.2 1279.7,944.2 1280.0,941.1 1280.4,938.1 1280.8,935.1 1281.2,932.1 1281.5,929.0 1281.8,926.0 1282.0,923.0 1282.2,920.0 1282.5,916.9 1282.9,913.9 1283.3,910.9 1283.8,907.9 1284.2,904.8 1284.7,901.8 1285.0,898.8 1285.3,895.8 1285.5,892.7 1285.7,889.7 1285.9,886.7 1286.2,883.7 1286.5,880.6 1286.8,877.6 1287.1,874.6 1287.4,871.6 1287.6,868.5 1287.8,865.5 1287.8,862.5 1287.9,859.5 1287.9,856.4 1288.0,853.4 1288.1,850.4 1288.2,847.4 1288.2,844.3 1288.3,841.3 1288.3,838.3 1288.4,835.3 1288.4,832.2 1288.5,829.2 1288.5,826.2 1288.6,823.2 1288.7,820.2 1288.8,817.1 1288.8,814.1 1288.9,811.1 1288.9,808.1 1288.9,805.0 1288.9,802.0 1288.9,799.0 1288.9,796.0 1288.9,792.9 1288.9,789.9 1288.9,786.9 1288.9,783.9 1288.9,780.8 1288.9,777.8 1288.8,774.8 1288.7,771.8 1288.6,768.7 1288.4,765.7 1288.3,762.7 1288.1,759.7 1288.0,756.6 1287.9,753.6 1287.8,750.6 1287.6,747.6 1287.2,744.5 1286.8,741.5 1286.4,738.5 1285.8,735.5 1285.4,732.4 1284.9,729.4 1284.5,726.4 1284.2,723.4 1284.0,720.3 1283.7,717.3 1283.4,714.3 1283.0,711.3 1282.6,708.2 1282.1,705.2 1281.7,702.2 1281.2,699.2 1280.9,696.2 1280.6,693.1 1280.3,690.1 1275.9,690.1"/><polygon points="1317.8,950.2 1318.7,950.2 1318.7,947.2 1318.8,944.2 1318.8,941.2 1318.9,938.2 1318.9,935.2 1319.0,932.2 1319.0,929.2 1319.1,926.2 1319.1,923.2 1319.2,920.2 1319.2,917.2 1319.2,914.2 1319.3,911.2 1319.3,908.2 1319.3,905.2 1319.4,902.1 1319.4,899.1 1319.5,896.1 1319.6,893.1 1319.7,890.1 1319.7,887.1 1319.8,884.1 1319.8,881.1 1319.9,878.1 1320.1,875.1 1320.4,872.1 1320.8,869.1 1321.1,866.1 1321.5,863.1 1321.9,860.1 1322.2,857.1 1322.5,854.1 1322.7,851.1 1323.2,848.1 1323.9,845.1 1324.9,842.1 1325.9,839.1 1327.1,836.1 1328.2,833.1 1329.3,830.1 1330.2,827.1 1330.9,824.1 1331.4,821.1 1332.0,818.1 1332.8,815.1 1333.7,812.1 1334.6,809.0 1335.5,806.0 1336.3,803.0 1336.9,800.0 1337.0,797.0 1336.8,794.0 1336.5,791.0 1336.3,788.0 1336.0,785.0 1335.8,782.0 1335.6,779.0 1335.4,776.0 1335.2,773.0 1334.9,770.0 1334.5,767.0 1334.1,764.0 1333.7,761.0 1333.4,758.0 1333.1,755.0 1332.9,752.0 1332.7,749.0 1332.4,746.0 1332.0,743.0 1331.6,740.0 1331.1,737.0 1330.6,734.0 1330.1,731.0 1329.7,728.0 1329.3,725.0 1329.1,722.0 1328.8,719.0 1328.5,716.0 1328.0,712.9 1327.5,709.9 1327.0,706.9 1326.4,703.9 1325.9,700.9 1325.5,697.9 1325.2,694.9 1325.0,691.9 1324.7,688.9 1324.3,685.9 1323.8,682.9 1323.3,679.9 1322.8,676.9 1322.3,673.9 1321.9,670.9 1321.6,667.9 1321.3,664.9 1317.8,664.9"/><polygon points="1455.0,539.4 1461.1,539.4 1461.6,536.4 1462.3,533.3 1463.2,530.3 1464.1,527.3 1465.0,524.3 1465.8,521.3 1466.4,518.2 1466.9,515.2 1467.8,512.2 1469.0,509.2 1470.4,506.1 1471.5,503.1 1472.3,500.1 1472.6,497.1 1473.1,494.0 1473.8,491.0 1474.3,488.0 1474.8,485.0 1474.9,482.0 1474.8,478.9 1474.7,475.9 1474.5,472.9 1474.4,469.9 1474.3,466.8 1474.0,463.8 1473.5,460.8 1473.0,457.8 1472.3,454.7 1471.7,451.7 1471.0,448.7 1470.3,445.7 1469.6,442.6 1469.1,439.6 1468.7,436.6 1468.3,433.6 1468.0,430.6 1467.4,427.5 1466.8,424.5 1466.1,421.5 1465.4,418.5 1464.6,415.4 1463.8,412.4 1463.1,409.4 1462.5,406.4 1462.1,403.3 1461.7,400.3 1461.5,397.3 1461.2,394.3 1460.8,391.3 1460.4,388.2 1459.9,385.2 1459.5,382.2 1459.0,379.2 1458.6,376.1 1458.2,373.1 1458.0,370.1 1457.8,367.1 1457.8,364.0 1457.7,361.0 1457.6,358.0 1457.6,355.0 1457.5,351.9 1457.4,348.9 1457.3,345.9 1457.3,342.9 1457.2,339.9 1457.2,336.8 1457.1,333.8 1457.1,330.8 1457.1,327.8 1457.1,324.7 1457.0,321.7 1457.0,318.7 1457.0,315.7 1456.9,312.6 1456.9,309.6 1456.9,306.6 1456.8,303.6 1456.8,300.6 1456.8,297.5 1456.7,294.5 1456.7,291.5 1456.6,288.5 1456.5,285.4 1456.4,282.4 1456.4,279.4 1456.3,276.4 1456.2,273.3 1456.2,270.3 1456.2,267.3 1455.0,267.3"/><polygon points="1496.9,518.0 1504.6,518.0 1504.8,514.9 1505.1,511.9 1505.5,508.9 1505.8,505.9 1506.1,502.8 1506.3,499.8 1506.5,496.8 1506.7,493.8 1507.0,490.7 1507.4,487.7 1507.8,484.7 1508.2,481.7 1508.5,478.7 1508.9,475.6 1509.2,472.6 1509.4,469.6 1509.6,466.6 1509.8,463.5 1510.1,460.5 1510.4,457.5 1510.7,454.5 1511.1,451.4 1511.5,448.4 1511.9,445.4 1512.2,442.4 1512.5,439.3 1512.7,436.3 1512.9,433.3 1513.1,430.3 1513.3,427.3 1513.7,424.2 1514.0,421.2 1514.3,418.2 1514.6,415.2 1514.9,412.1 1515.1,409.1 1515.2,406.1 1515.0,403.1 1514.8,400.0 1514.6,397.0 1514.4,394.0 1514.2,391.0 1514.0,388.0 1513.9,384.9 1513.6,381.9 1513.2,378.9 1512.7,375.9 1512.0,372.8 1511.4,369.8 1510.7,366.8 1510.0,363.8 1509.3,360.7 1508.8,357.7 1508.3,354.7 1508.0,351.7 1507.6,348.6 1507.2,345.6 1506.7,342.6 1506.0,339.6 1505.4,336.6 1504.7,333.5 1504.0,330.5 1503.3,327.5 1502.8,324.5 1502.3,321.4 1502.0,318.4 1501.8,315.4 1501.6,312.4 1501.3,309.3 1500.9,306.3 1500.5,303.3 1500.1,300.3 1499.8,297.3 1499.4,294.2 1499.1,291.2 1498.9,288.2 1498.7,285.2 1498.7,282.1 1498.6,279.1 1498.6,276.1 1498.5,273.1 1498.5,270.0 1498.4,267.0 1498.3,264.0 1498.3,261.0 1498.2,258.0 1498.2,254.9 1498.1,251.9 1498.1,248.9 1498.1,245.9 1496.9,245.9"/><polygon points="1538.8,509.7 1544.9,509.7 1545.1,506.7 1545.3,503.7 1545.7,500.7 1546.1,497.7 1546.4,494.7 1546.8,491.7 1547.1,488.7 1547.4,485.7 1547.6,482.7 1547.8,479.6 1548.1,476.6 1548.5,473.6 1548.9,470.6 1549.4,467.6 1549.8,464.6 1550.3,461.6 1550.7,458.6 1551.0,455.6 1551.3,452.6 1551.5,449.6 1551.6,446.6 1551.8,443.6 1552.0,440.6 1552.2,437.6 1552.4,434.6 1552.6,431.6 1552.9,428.5 1553.1,425.5 1553.2,422.5 1553.4,419.5 1553.4,416.5 1553.4,413.5 1553.3,410.5 1553.2,407.5 1553.1,404.5 1553.0,401.5 1552.9,398.5 1552.8,395.5 1552.7,392.5 1552.6,389.5 1552.5,386.5 1552.4,383.5 1552.3,380.4 1552.1,377.4 1551.9,374.4 1551.6,371.4 1551.4,368.4 1551.1,365.4 1550.8,362.4 1550.6,359.4 1550.4,356.4 1550.2,353.4 1550.1,350.4 1550.0,347.4 1549.7,344.4 1549.5,341.4 1549.2,338.4 1548.9,335.4 1548.6,332.3 1548.3,329.3 1548.0,326.3 1547.8,323.3 1547.6,320.3 1547.5,317.3 1547.3,314.3 1547.0,311.3 1546.7,308.3 1546.3,305.3 1545.9,302.3 1545.5,299.3 1545.2,296.3 1544.8,293.3 1544.6,290.3 1544.3,287.3 1544.2,284.3 1544.0,281.2 1543.8,278.2 1543.5,275.2 1543.2,272.2 1542.9,269.2 1542.6,266.2 1542.3,263.2 1542.1,260.2 1541.8,257.2 1541.7,254.2 1541.6,251.2 1541.5,248.2 1541.3,245.2 1541.2,242.2 1541.1,239.2 1540.9,236.2 1540.7,233.1 1540.6,230.1 1540.5,227.1 1540.3,224.1 1540.3,221.1 1538.8,221.1"/><polygon points="1580.7,516.3 1582.2,516.3 1582.3,513.3 1582.6,510.3 1582.9,507.3 1583.2,504.3 1583.6,501.3 1584.0,498.3 1584.4,495.3 1584.7,492.3 1585.0,489.3 1585.3,486.3 1585.5,483.3 1585.6,480.3 1585.9,477.2 1586.2,474.2 1586.5,471.2 1586.9,468.2 1587.3,465.2 1587.7,462.2 1588.0,459.2 1588.3,456.2 1588.6,453.2 1588.8,450.2 1588.9,447.2 1589.2,444.2 1589.5,441.2 1589.8,438.2 1590.2,435.2 1590.6,432.2 1591.0,429.2 1591.3,426.2 1591.6,423.2 1591.9,420.2 1592.1,417.2 1592.3,414.2 1592.6,411.2 1593.0,408.2 1593.5,405.1 1594.0,402.1 1594.5,399.1 1595.0,396.1 1595.4,393.1 1595.8,390.1 1596.1,387.1 1596.3,384.1 1596.4,381.1 1596.5,378.1 1596.6,375.1 1596.8,372.1 1596.9,369.1 1597.1,366.1 1597.2,363.1 1597.4,360.1 1597.5,357.1 1597.6,354.1 1597.6,351.1 1597.5,348.1 1597.3,345.1 1597.1,342.1 1596.9,339.1 1596.6,336.0 1596.3,333.0 1596.1,330.0 1595.8,327.0 1595.6,324.0 1595.5,321.0 1595.3,318.0 1595.0,315.0 1594.6,312.0 1594.2,309.0 1593.6,306.0 1593.1,303.0 1592.5,300.0 1591.9,297.0 1591.4,294.0 1591.0,291.0 1590.6,288.0 1590.4,285.0 1590.1,282.0 1589.7,279.0 1589.2,276.0 1588.7,273.0 1588.1,270.0 1587.5,266.9 1587.0,263.9 1586.5,260.9 1586.0,257.9 1585.7,254.9 1585.4,251.9 1585.2,248.9 1585.0,245.9 1584.7,242.9 1584.3,239.9 1583.9,236.9 1583.5,233.9 1583.2,230.9 1582.8,227.9 1582.5,224.9 1582.3,221.9 1582.1,218.9 1582.1,215.9 1582.0,212.9 1582.0,209.9 1581.9,206.9 1581.8,203.9 1581.7,200.9 1581.6,197.8 1581.5,194.8 1581.4,191.8 1581.3,188.8 1581.3,185.8 1580.7,185.8"/><polygon points="1622.6,463.0 1624.5,463.0 1624.7,460.0 1624.9,457.0 1625.1,454.0 1625.4,450.9 1625.7,447.9 1626.0,444.9 1626.3,441.9 1626.5,438.9 1626.7,435.9 1626.8,432.8 1627.0,429.8 1627.3,426.8 1627.6,423.8 1628.0,420.8 1628.4,417.8 1628.7,414.7 1629.1,411.7 1629.5,408.7 1629.7,405.7 1630.0,402.7 1630.2,399.7 1630.4,396.6 1630.6,393.6 1630.9,390.6 1631.3,387.6 1631.7,384.6 1632.1,381.6 1632.4,378.5 1632.8,375.5 1633.1,372.5 1633.3,369.5 1633.5,366.5 1633.7,363.5 1633.9,360.4 1634.3,357.4 1634.6,354.4 1635.0,351.4 1635.4,348.4 1635.8,345.4 1636.1,342.4 1636.4,339.3 1636.6,336.3 1636.7,333.3 1636.7,330.3 1636.7,327.3 1636.7,324.3 1636.7,321.2 1636.7,318.2 1636.7,315.2 1636.7,312.2 1636.7,309.2 1636.7,306.2 1636.7,303.1 1636.7,300.1 1636.5,297.1 1636.3,294.1 1636.1,291.1 1635.8,288.1 1635.6,285.0 1635.3,282.0 1635.0,279.0 1634.8,276.0 1634.6,273.0 1634.5,270.0 1634.3,266.9 1634.1,263.9 1633.8,260.9 1633.5,257.9 1633.1,254.9 1632.8,251.9 1632.4,248.8 1632.0,245.8 1631.7,242.8 1631.4,239.8 1631.2,236.8 1631.0,233.8 1630.8,230.7 1630.5,227.7 1630.2,224.7 1629.8,221.7 1629.4,218.7 1629.0,215.7 1628.7,212.6 1628.4,209.6 1628.1,206.6 1627.9,203.6 1627.7,200.6 1627.5,197.6 1627.2,194.5 1626.9,191.5 1626.6,188.5 1626.2,185.5 1625.9,182.5 1625.6,179.5 1625.3,176.4 1625.2,173.4 1622.6,173.4"/><polygon points="1664.5,461.4 1667.1,461.4 1667.3,458.3 1667.6,455.3 1667.9,452.3 1668.1,449.2 1668.3,446.2 1668.5,443.2 1668.9,440.1 1669.2,437.1 1669.6,434.1 1670.0,431.0 1670.4,428.0 1670.7,425.0 1671.0,421.9 1671.2,418.9 1671.4,415.9 1671.6,412.8 1671.9,409.8 1672.2,406.8 1672.6,403.7 1672.9,400.7 1673.3,397.7 1673.7,394.7 1674.0,391.6 1674.3,388.6 1674.6,385.6 1674.7,382.5 1674.9,379.5 1675.2,376.5 1675.5,373.4 1675.9,370.4 1676.3,367.4 1676.7,364.3 1677.0,361.3 1677.4,358.3 1677.7,355.2 1677.9,352.2 1678.0,349.2 1678.0,346.1 1678.1,343.1 1678.1,340.1 1678.2,337.0 1678.3,334.0 1678.4,331.0 1678.4,327.9 1678.5,324.9 1678.6,321.9 1678.6,318.8 1678.5,315.8 1678.4,312.8 1678.2,309.8 1677.9,306.7 1677.7,303.7 1677.4,300.7 1677.1,297.6 1676.9,294.6 1676.6,291.6 1676.5,288.5 1676.3,285.5 1676.1,282.5 1675.8,279.4 1675.4,276.4 1675.0,273.4 1674.5,270.3 1674.0,267.3 1673.5,264.3 1673.0,261.2 1672.6,258.2 1672.3,255.2 1672.0,252.1 1671.8,249.1 1671.6,246.1 1671.3,243.0 1670.9,240.0 1670.6,237.0 1670.2,233.9 1669.8,230.9 1669.4,227.9 1669.1,224.8 1668.9,221.8 1668.7,218.8 1668.6,215.8 1668.5,212.7 1668.3,209.7 1668.1,206.7 1667.9,203.6 1667.7,200.6 1667.4,197.6 1667.2,194.5 1667.0,191.5 1666.8,188.5 1666.6,185.4 1666.5,182.4 1666.4,179.4 1664.5,179.4"/><polygon points="1706.4,443.2 1707.6,443.2 1707.8,440.2 1707.9,437.2 1708.2,434.1 1708.4,431.1 1708.7,428.1 1709.0,425.1 1709.2,422.1 1709.5,419.0 1709.8,416.0 1710.1,413.0 1710.4,410.0 1710.6,406.9 1710.8,403.9 1710.9,400.9 1711.1,397.9 1711.4,394.8 1711.7,391.8 1712.2,388.8 1712.6,385.8 1713.1,382.8 1713.5,379.7 1714.0,376.7 1714.3,373.7 1714.6,370.7 1714.9,367.6 1715.1,364.6 1715.4,361.6 1715.8,358.6 1716.3,355.5 1716.8,352.5 1717.3,349.5 1717.7,346.5 1718.2,343.4 1718.6,340.4 1718.9,337.4 1719.2,334.4 1719.3,331.4 1719.5,328.3 1719.7,325.3 1719.9,322.3 1720.2,319.3 1720.5,316.2 1720.7,313.2 1721.0,310.2 1721.2,307.2 1721.4,304.1 1721.5,301.1 1721.4,298.1 1721.3,295.1 1721.2,292.1 1721.0,289.0 1720.9,286.0 1720.7,283.0 1720.6,280.0 1720.4,276.9 1720.3,273.9 1720.2,270.9 1720.1,267.9 1719.9,264.8 1719.7,261.8 1719.4,258.8 1719.0,255.8 1718.6,252.8 1718.2,249.7 1717.9,246.7 1717.5,243.7 1717.2,240.7 1717.0,237.6 1716.8,234.6 1716.5,231.6 1716.2,228.6 1715.8,225.5 1715.3,222.5 1714.8,219.5 1714.3,216.5 1713.8,213.4 1713.4,210.4 1713.0,207.4 1712.7,204.4 1712.5,201.4 1712.3,198.3 1712.0,195.3 1711.6,192.3 1711.3,189.3 1710.9,186.2 1710.4,183.2 1710.1,180.2 1709.7,177.2 1709.5,174.1 1709.3,171.1 1706.4,171.1"/><polygon points="1748.3,435.0 1748.9,435.0 1748.9,432.0 1748.9,429.0 1748.9,425.9 1748.9,422.9 1748.9,419.9 1748.9,416.9 1748.9,413.9 1748.9,410.9 1748.9,407.9 1748.9,404.9 1748.9,401.9 1748.9,398.8 1748.9,395.8 1748.9,392.8 1748.9,389.8 1748.9,386.8 1748.9,383.8 1749.0,380.8 1749.1,377.8 1749.3,374.7 1749.4,371.7 1749.6,368.7 1749.8,365.7 1750.0,362.7 1750.2,359.7 1750.3,356.7 1750.4,353.7 1750.5,350.7 1750.8,347.6 1751.2,344.6 1751.6,341.6 1752.2,338.6 1752.7,335.6 1753.3,332.6 1753.9,329.6 1754.4,326.6 1754.8,323.6 1755.2,320.5 1755.5,317.5 1756.1,314.5 1757.0,311.5 1758.0,308.5 1759.2,305.5 1760.4,302.5 1761.7,299.5 1762.9,296.5 1764.1,293.4 1765.1,290.4 1765.8,287.4 1766.4,284.4 1766.5,281.4 1766.8,278.4 1767.1,275.4 1767.4,272.4 1767.8,269.4 1768.1,266.3 1768.3,263.3 1768.6,260.3 1768.6,257.3 1768.3,254.3 1768.0,251.3 1767.7,248.3 1767.3,245.3 1766.9,242.3 1766.6,239.2 1766.4,236.2 1766.1,233.2 1765.7,230.2 1765.2,227.2 1764.5,224.2 1763.9,221.2 1763.2,218.2 1762.5,215.2 1761.9,212.1 1761.3,209.1 1760.8,206.1 1760.5,203.1 1760.1,200.1 1759.7,197.1 1759.1,194.1 1758.4,191.1 1757.6,188.1 1756.9,185.0 1756.1,182.0 1755.4,179.0 1754.8,176.0 1754.2,173.0 1753.9,170.0 1753.6,167.0 1753.3,164.0 1752.9,161.0 1752.4,157.9 1751.9,154.9 1751.4,151.9 1750.9,148.9 1750.4,145.9 1749.9,142.9 1749.5,139.9 1749.2,136.9 1748.9,133.9 1748.3,133.9"/><polygon points="1455.0,1025.1 1460.4,1025.1 1461.0,1022.1 1462.0,1019.1 1463.2,1016.1 1464.5,1013.1 1465.7,1010.1 1466.7,1007.0 1467.3,1004.0 1467.8,1001.0 1468.5,998.0 1469.4,995.0 1470.3,992.0 1471.2,988.9 1472.1,985.9 1472.7,982.9 1473.2,979.9 1473.3,976.9 1473.5,973.9 1473.6,970.9 1473.8,967.8 1474.0,964.8 1474.1,961.8 1474.2,958.8 1473.9,955.8 1473.5,952.8 1473.0,949.7 1472.4,946.7 1471.9,943.7 1471.4,940.7 1471.0,937.7 1470.7,934.7 1470.4,931.6 1470.0,928.6 1469.5,925.6 1469.0,922.6 1468.4,919.6 1467.8,916.6 1467.2,913.5 1466.6,910.5 1466.1,907.5 1465.7,904.5 1465.3,901.5 1465.1,898.5 1464.8,895.4 1464.4,892.4 1463.9,889.4 1463.4,886.4 1462.9,883.4 1462.3,880.4 1461.8,877.3 1461.3,874.3 1460.9,871.3 1460.6,868.3 1460.3,865.3 1460.2,862.3 1460.0,859.2 1459.7,856.2 1459.5,853.2 1459.2,850.2 1458.9,847.2 1458.6,844.2 1458.3,841.1 1458.0,838.1 1457.8,835.1 1457.6,832.1 1457.6,829.1 1457.5,826.1 1457.5,823.0 1457.4,820.0 1457.4,817.0 1457.3,814.0 1457.2,811.0 1457.1,808.0 1457.1,804.9 1457.0,801.9 1456.9,798.9 1456.8,795.9 1456.8,792.9 1456.7,789.9 1456.6,786.8 1456.6,783.8 1456.6,780.8 1456.5,777.8 1456.5,774.8 1456.5,771.8 1456.4,768.7 1456.4,765.7 1456.3,762.7 1456.3,759.7 1456.2,756.7 1456.2,753.7 1456.1,750.6 1456.1,747.6 1456.0,744.6 1456.0,741.6 1455.9,738.6 1455.9,735.6 1455.9,732.5 1455.8,729.5 1455.0,729.5"/><polygon points="1496.9,1007.1 1503.4,1007.1 1503.6,1004.1 1503.9,1001.0 1504.2,998.0 1504.6,995.0 1505.1,992.0 1505.5,988.9 1506.0,985.9 1506.5,982.9 1506.9,979.9 1507.3,976.8 1507.6,973.8 1507.8,970.8 1508.0,967.7 1508.3,964.7 1508.7,961.7 1509.1,958.7 1509.6,955.6 1510.1,952.6 1510.6,949.6 1511.1,946.5 1511.5,943.5 1511.9,940.5 1512.2,937.5 1512.4,934.4 1512.5,931.4 1512.6,928.4 1512.8,925.3 1512.9,922.3 1513.1,919.3 1513.3,916.3 1513.4,913.2 1513.6,910.2 1513.7,907.2 1513.8,904.1 1513.6,901.1 1513.3,898.1 1512.8,895.1 1512.4,892.0 1512.0,889.0 1511.6,886.0 1511.4,882.9 1511.1,879.9 1510.7,876.9 1510.3,873.9 1509.8,870.8 1509.2,867.8 1508.6,864.8 1508.0,861.8 1507.5,858.7 1507.0,855.7 1506.6,852.7 1506.3,849.6 1506.0,846.6 1505.8,843.6 1505.5,840.6 1505.1,837.5 1504.6,834.5 1504.2,831.5 1503.7,828.4 1503.3,825.4 1502.8,822.4 1502.5,819.4 1502.2,816.3 1502.0,813.3 1501.8,810.3 1501.6,807.2 1501.4,804.2 1501.1,801.2 1500.8,798.2 1500.5,795.1 1500.2,792.1 1499.9,789.1 1499.6,786.0 1499.4,783.0 1499.3,780.0 1499.2,777.0 1499.1,773.9 1499.0,770.9 1498.8,767.9 1498.6,764.9 1498.5,761.8 1498.3,758.8 1498.1,755.8 1498.0,752.7 1497.8,749.7 1497.7,746.7 1497.6,743.7 1497.5,740.6 1496.9,740.6"/><polygon points="1538.8,1004.3 1542.6,1004.3 1542.8,1001.3 1543.1,998.3 1543.5,995.3 1544.0,992.2 1544.5,989.2 1545.0,986.2 1545.5,983.2 1545.9,980.2 1546.4,977.1 1546.7,974.1 1547.0,971.1 1547.2,968.1 1547.5,965.1 1547.8,962.0 1548.2,959.0 1548.6,956.0 1549.1,953.0 1549.5,949.9 1550.0,946.9 1550.4,943.9 1550.8,940.9 1551.1,937.9 1551.3,934.8 1551.3,931.8 1551.3,928.8 1551.4,925.8 1551.5,922.8 1551.6,919.7 1551.6,916.7 1551.7,913.7 1551.8,910.7 1551.8,907.6 1551.9,904.6 1551.9,901.6 1551.9,898.6 1551.9,895.6 1551.8,892.5 1551.8,889.5 1551.7,886.5 1551.6,883.5 1551.5,880.5 1551.5,877.4 1551.4,874.4 1551.3,871.4 1551.3,868.4 1551.3,865.3 1551.1,862.3 1550.9,859.3 1550.7,856.3 1550.4,853.3 1550.1,850.2 1549.8,847.2 1549.5,844.2 1549.2,841.2 1548.9,838.1 1548.7,835.1 1548.5,832.1 1548.4,829.1 1548.2,826.1 1547.9,823.0 1547.6,820.0 1547.2,817.0 1546.8,814.0 1546.4,811.0 1546.1,807.9 1545.7,804.9 1545.4,801.9 1545.2,798.9 1545.0,795.8 1544.8,792.8 1544.6,789.8 1544.3,786.8 1543.9,783.8 1543.5,780.7 1543.1,777.7 1542.8,774.7 1542.4,771.7 1542.1,768.7 1541.8,765.6 1541.6,762.6 1541.5,759.6 1541.4,756.6 1541.2,753.5 1541.0,750.5 1540.8,747.5 1540.6,744.5 1540.4,741.5 1540.3,738.4 1540.2,735.4 1538.8,735.4"/><polygon points="1580.7,1002.6 1582.5,1002.6 1582.6,999.6 1582.8,996.6 1583.0,993.5 1583.3,990.5 1583.5,987.5 1583.8,984.5 1584.1,981.5 1584.5,978.4 1584.8,975.4 1585.1,972.4 1585.4,969.4 1585.7,966.4 1586.0,963.4 1586.2,960.3 1586.4,957.3 1586.6,954.3 1586.7,951.3 1587.0,948.3 1587.3,945.2 1587.7,942.2 1588.2,939.2 1588.7,936.2 1589.2,933.2 1589.7,930.2 1590.1,927.1 1590.5,924.1 1590.9,921.1 1591.1,918.1 1591.3,915.1 1591.5,912.0 1591.8,909.0 1592.2,906.0 1592.5,903.0 1592.9,900.0 1593.3,897.0 1593.7,893.9 1594.0,890.9 1594.3,887.9 1594.5,884.9 1594.7,881.9 1594.7,878.8 1594.8,875.8 1594.9,872.8 1595.0,869.8 1595.1,866.8 1595.2,863.7 1595.3,860.7 1595.4,857.7 1595.5,854.7 1595.6,851.7 1595.7,848.7 1595.6,845.6 1595.6,842.6 1595.5,839.6 1595.4,836.6 1595.3,833.6 1595.1,830.5 1595.0,827.5 1594.9,824.5 1594.8,821.5 1594.7,818.5 1594.7,815.5 1594.6,812.4 1594.4,809.4 1594.1,806.4 1593.8,803.4 1593.4,800.4 1593.1,797.3 1592.7,794.3 1592.3,791.3 1591.9,788.3 1591.6,785.3 1591.4,782.3 1591.2,779.2 1590.9,776.2 1590.6,773.2 1590.1,770.2 1589.6,767.2 1589.1,764.1 1588.5,761.1 1587.9,758.1 1587.4,755.1 1586.9,752.1 1586.5,749.0 1586.1,746.0 1585.9,743.0 1585.7,740.0 1585.4,737.0 1585.1,734.0 1584.8,730.9 1584.4,727.9 1584.0,724.9 1583.6,721.9 1583.3,718.9 1583.0,715.8 1582.7,712.8 1582.5,709.8 1582.5,706.8 1582.4,703.8 1582.4,700.8 1582.3,697.7 1582.2,694.7 1582.1,691.7 1582.1,688.7 1582.0,685.7 1581.9,682.6 1581.8,679.6 1581.7,676.6 1581.7,673.6 1581.6,670.6 1581.5,667.5 1581.5,664.5 1581.4,661.5 1580.7,661.5"/><polygon points="1622.6,957.4 1624.3,957.4 1624.4,954.4 1624.7,951.4 1625.0,948.4 1625.3,945.4 1625.6,942.4 1626.0,939.4 1626.3,936.4 1626.6,933.3 1626.9,930.3 1627.1,927.3 1627.3,924.3 1627.6,921.3 1627.9,918.3 1628.4,915.3 1628.8,912.3 1629.3,909.3 1629.7,906.3 1630.1,903.3 1630.4,900.3 1630.6,897.3 1630.8,894.3 1631.2,891.3 1631.6,888.3 1632.0,885.3 1632.5,882.3 1632.9,879.3 1633.3,876.3 1633.7,873.3 1633.9,870.2 1634.1,867.2 1634.3,864.2 1634.6,861.2 1635.0,858.2 1635.4,855.2 1635.8,852.2 1636.1,849.2 1636.4,846.2 1636.7,843.2 1636.9,840.2 1636.9,837.2 1637.0,834.2 1637.1,831.2 1637.2,828.2 1637.3,825.2 1637.4,822.2 1637.5,819.2 1637.6,816.2 1637.7,813.2 1637.7,810.2 1637.6,807.1 1637.5,804.1 1637.4,801.1 1637.3,798.1 1637.2,795.1 1637.1,792.1 1637.0,789.1 1636.9,786.1 1636.9,783.1 1636.7,780.1 1636.4,777.1 1636.1,774.1 1635.7,771.1 1635.3,768.1 1634.9,765.1 1634.6,762.1 1634.3,759.1 1634.1,756.1 1633.9,753.1 1633.6,750.1 1633.3,747.1 1632.9,744.0 1632.4,741.0 1631.9,738.0 1631.5,735.0 1631.1,732.0 1630.8,729.0 1630.6,726.0 1630.3,723.0 1630.0,720.0 1629.6,717.0 1629.2,714.0 1628.7,711.0 1628.3,708.0 1627.9,705.0 1627.5,702.0 1627.2,699.0 1627.0,696.0 1626.8,693.0 1626.5,690.0 1626.2,687.0 1625.8,683.9 1625.4,680.9 1625.0,677.9 1624.6,674.9 1624.2,671.9 1623.9,668.9 1623.6,665.9 1623.4,662.9 1622.6,662.9"/><polygon points="1664.5,951.7 1667.2,951.7 1667.4,948.6 1667.6,945.6 1667.9,942.6 1668.3,939.6 1668.6,936.6 1669.0,933.6 1669.4,930.5 1669.8,927.5 1670.2,924.5 1670.5,921.5 1670.8,918.5 1671.0,915.5 1671.2,912.5 1671.5,909.4 1671.8,906.4 1672.2,903.4 1672.7,900.4 1673.2,897.4 1673.7,894.4 1674.1,891.3 1674.5,888.3 1674.8,885.3 1675.0,882.3 1675.2,879.3 1675.5,876.3 1675.9,873.3 1676.3,870.2 1676.6,867.2 1677.0,864.2 1677.3,861.2 1677.6,858.2 1677.8,855.2 1677.9,852.1 1678.0,849.1 1678.2,846.1 1678.4,843.1 1678.6,840.1 1678.8,837.1 1678.9,834.1 1679.1,831.0 1679.2,828.0 1679.2,825.0 1679.2,822.0 1679.1,819.0 1679.1,816.0 1679.0,812.9 1678.9,809.9 1678.8,806.9 1678.8,803.9 1678.7,800.9 1678.7,797.9 1678.6,794.8 1678.3,791.8 1678.1,788.8 1677.8,785.8 1677.5,782.8 1677.2,779.8 1676.9,776.8 1676.7,773.7 1676.5,770.7 1676.3,767.7 1676.1,764.7 1675.8,761.7 1675.5,758.7 1675.1,755.6 1674.7,752.6 1674.3,749.6 1674.0,746.6 1673.7,743.6 1673.5,740.6 1673.3,737.6 1673.0,734.5 1672.6,731.5 1672.2,728.5 1671.7,725.5 1671.3,722.5 1670.9,719.5 1670.5,716.4 1670.2,713.4 1670.0,710.4 1669.9,707.4 1669.6,704.4 1669.4,701.4 1669.1,698.3 1668.8,695.3 1668.4,692.3 1668.1,689.3 1667.8,686.3 1667.6,683.3 1667.4,680.3 1667.2,677.2 1664.5,677.2"/><polygon points="1706.4,939.3 1709.3,939.3 1709.4,936.3 1709.6,933.3 1709.8,930.3 1709.9,927.3 1710.1,924.3 1710.3,921.3 1710.5,918.3 1710.7,915.2 1710.8,912.2 1710.9,909.2 1711.2,906.2 1711.5,903.2 1711.9,900.2 1712.3,897.2 1712.7,894.2 1713.0,891.1 1713.3,888.1 1713.5,885.1 1713.7,882.1 1713.9,879.1 1714.2,876.1 1714.6,873.1 1715.0,870.0 1715.3,867.0 1715.7,864.0 1716.0,861.0 1716.3,858.0 1716.5,855.0 1716.6,852.0 1716.8,849.0 1717.1,845.9 1717.4,842.9 1717.7,839.9 1718.0,836.9 1718.3,833.9 1718.5,830.9 1718.7,827.9 1718.8,824.9 1718.8,821.8 1718.9,818.8 1719.0,815.8 1719.1,812.8 1719.1,809.8 1719.2,806.8 1719.3,803.8 1719.3,800.8 1719.4,797.7 1719.4,794.7 1719.4,791.7 1719.5,788.7 1719.6,785.7 1719.7,782.7 1719.7,779.7 1719.8,776.7 1719.9,773.6 1719.9,770.6 1719.9,767.6 1719.8,764.6 1719.7,761.6 1719.6,758.6 1719.4,755.6 1719.3,752.6 1719.1,749.5 1719.0,746.5 1718.9,743.5 1718.8,740.5 1718.7,737.5 1718.4,734.5 1718.2,731.5 1717.9,728.5 1717.6,725.4 1717.3,722.4 1717.0,719.4 1716.8,716.4 1716.6,713.4 1716.5,710.4 1716.3,707.4 1716.1,704.4 1715.9,701.3 1715.7,698.3 1715.4,695.3 1715.2,692.3 1714.9,689.3 1714.7,686.3 1714.5,683.3 1714.3,680.3 1714.2,677.2 1706.4,677.2"/><polygon points="1748.3,934.5 1749.2,934.5 1749.2,931.5 1749.2,928.5 1749.3,925.5 1749.3,922.5 1749.4,919.4 1749.4,916.4 1749.5,913.4 1749.6,910.4 1749.6,907.4 1749.7,904.4 1749.7,901.4 1749.7,898.4 1749.8,895.4 1749.8,892.4 1749.9,889.4 1749.9,886.4 1750.0,883.4 1750.1,880.4 1750.2,877.4 1750.2,874.4 1750.3,871.4 1750.3,868.4 1750.5,865.4 1750.7,862.4 1750.9,859.4 1751.2,856.3 1751.4,853.3 1751.7,850.3 1751.9,847.3 1752.1,844.3 1752.3,841.3 1752.7,838.3 1753.4,835.3 1754.3,832.3 1755.4,829.3 1756.6,826.3 1757.7,823.3 1758.8,820.3 1759.7,817.3 1760.5,814.3 1761.0,811.3 1761.5,808.3 1762.3,805.3 1763.2,802.3 1764.1,799.3 1765.1,796.3 1765.8,793.3 1766.4,790.2 1766.6,787.2 1766.5,784.2 1766.3,781.2 1766.2,778.2 1766.0,775.2 1765.9,772.2 1765.8,769.2 1765.6,766.2 1765.3,763.2 1765.0,760.2 1764.7,757.2 1764.3,754.2 1763.9,751.2 1763.6,748.2 1763.2,745.2 1763.0,742.2 1762.8,739.2 1762.6,736.2 1762.3,733.2 1762.0,730.2 1761.6,727.1 1761.2,724.1 1760.9,721.1 1760.5,718.1 1760.3,715.1 1760.1,712.1 1759.9,709.1 1759.6,706.1 1759.2,703.1 1758.7,700.1 1758.3,697.1 1757.8,694.1 1757.4,691.1 1757.0,688.1 1756.7,685.1 1756.5,682.1 1756.3,679.1 1756.0,676.1 1755.7,673.1 1755.2,670.1 1754.8,667.1 1754.4,664.0 1754.0,661.0 1753.7,658.0 1753.4,655.0 1753.2,652.0 1748.3,652.0"/><polygon points="1885.5,533.8 1891.5,533.8 1892.0,530.7 1892.8,527.7 1893.8,524.7 1894.6,521.7 1895.2,518.6 1895.7,515.6 1896.4,512.6 1897.4,509.6 1898.2,506.5 1898.9,503.5 1899.3,500.5 1899.9,497.5 1900.6,494.4 1901.4,491.4 1901.9,488.4 1902.2,485.4 1902.4,482.3 1902.7,479.3 1903.0,476.3 1903.4,473.3 1903.6,470.2 1903.9,467.2 1904.0,464.2 1903.8,461.2 1903.6,458.1 1903.3,455.1 1903.0,452.1 1902.7,449.1 1902.5,446.0 1902.3,443.0 1902.1,440.0 1901.9,437.0 1901.5,434.0 1901.1,430.9 1900.6,427.9 1900.0,424.9 1899.5,421.9 1899.0,418.8 1898.5,415.8 1898.1,412.8 1897.8,409.8 1897.6,406.7 1897.2,403.7 1896.7,400.7 1896.2,397.7 1895.6,394.6 1894.9,391.6 1894.3,388.6 1893.8,385.6 1893.3,382.5 1892.9,379.5 1892.7,376.5 1892.5,373.5 1892.2,370.4 1891.9,367.4 1891.5,364.4 1891.1,361.4 1890.7,358.3 1890.4,355.3 1890.1,352.3 1889.8,349.3 1889.6,346.2 1889.6,343.2 1889.4,340.2 1889.3,337.2 1889.2,334.2 1889.0,331.1 1888.9,328.1 1888.7,325.1 1888.6,322.1 1888.5,319.0 1888.4,316.0 1888.3,313.0 1888.3,310.0 1888.2,306.9 1888.1,303.9 1888.0,300.9 1887.8,297.9 1887.7,294.8 1887.6,291.8 1887.5,288.8 1887.5,285.8 1887.4,282.7 1887.4,279.7 1887.3,276.7 1887.2,273.7 1887.1,270.6 1886.9,267.6 1886.8,264.6 1886.7,261.6 1886.6,258.5 1886.6,255.5 1886.5,252.5 1885.5,252.5"/><polygon points="1927.4,509.4 1934.3,509.4 1934.5,506.4 1934.7,503.4 1934.9,500.4 1935.2,497.4 1935.4,494.4 1935.6,491.4 1935.8,488.4 1936.0,485.4 1936.2,482.4 1936.5,479.4 1936.8,476.4 1937.2,473.4 1937.6,470.4 1937.9,467.4 1938.3,464.4 1938.6,461.4 1938.8,458.4 1939.0,455.4 1939.2,452.3 1939.5,449.3 1939.8,446.3 1940.1,443.3 1940.5,440.3 1940.9,437.3 1941.3,434.3 1941.6,431.3 1941.9,428.3 1942.1,425.3 1942.2,422.3 1942.4,419.3 1942.6,416.3 1942.9,413.3 1943.2,410.3 1943.4,407.3 1943.6,404.3 1943.6,401.3 1943.4,398.3 1943.1,395.3 1942.8,392.3 1942.5,389.3 1942.3,386.3 1942.1,383.3 1941.8,380.3 1941.4,377.3 1940.8,374.3 1940.3,371.3 1939.8,368.3 1939.3,365.3 1939.0,362.3 1938.8,359.3 1938.5,356.3 1938.2,353.3 1937.7,350.3 1937.3,347.3 1936.8,344.3 1936.4,341.3 1936.0,338.3 1935.6,335.3 1935.4,332.3 1935.2,329.3 1935.0,326.3 1934.7,323.3 1934.3,320.3 1934.0,317.3 1933.6,314.3 1933.2,311.3 1932.9,308.3 1932.6,305.3 1932.3,302.3 1932.1,299.3 1932.0,296.3 1931.8,293.3 1931.5,290.3 1931.2,287.3 1930.9,284.3 1930.6,281.3 1930.3,278.3 1930.1,275.3 1929.8,272.3 1929.7,269.3 1929.6,266.3 1929.5,263.3 1929.4,260.3 1929.3,257.3 1929.2,254.3 1929.1,251.3 1929.0,248.3 1928.9,245.3 1928.8,242.3 1928.7,239.3 1928.7,236.2 1927.4,236.2"/><polygon points="1969.3,501.9 1974.3,501.9 1974.5,498.9 1974.9,495.8 1975.3,492.8 1975.7,489.8 1975.9,486.8 1976.1,483.8 1976.3,480.7 1976.6,477.7 1977.0,474.7 1977.4,471.7 1977.8,468.6 1978.1,465.6 1978.5,462.6 1978.7,459.6 1978.9,456.6 1979.1,453.5 1979.4,450.5 1979.7,447.5 1980.0,444.5 1980.4,441.5 1980.8,438.4 1981.1,435.4 1981.5,432.4 1981.8,429.4 1982.0,426.4 1982.1,423.3 1982.2,420.3 1982.3,417.3 1982.5,414.3 1982.6,411.2 1982.8,408.2 1982.9,405.2 1983.1,402.2 1983.2,399.2 1983.3,396.1 1983.4,393.1 1983.3,390.1 1983.2,387.1 1983.1,384.1 1982.9,381.0 1982.8,378.0 1982.6,375.0 1982.5,372.0 1982.3,369.0 1982.2,365.9 1982.1,362.9 1982.0,359.9 1981.8,356.9 1981.6,353.9 1981.3,350.8 1981.0,347.8 1980.7,344.8 1980.4,341.8 1980.1,338.8 1979.9,335.7 1979.7,332.7 1979.6,329.7 1979.4,326.7 1979.1,323.6 1978.8,320.6 1978.4,317.6 1978.0,314.6 1977.6,311.6 1977.3,308.5 1977.0,305.5 1976.7,302.5 1976.5,299.5 1976.4,296.5 1976.2,293.4 1975.9,290.4 1975.6,287.4 1975.3,284.4 1975.0,281.4 1974.7,278.3 1974.4,275.3 1974.2,272.3 1974.0,269.3 1973.9,266.2 1973.8,263.2 1973.6,260.2 1973.3,257.2 1973.1,254.2 1972.8,251.1 1972.5,248.1 1972.3,245.1 1972.1,242.1 1971.9,239.1 1971.8,236.0 1971.6,233.0 1971.5,230.0 1971.2,227.0 1971.0,224.0 1970.8,220.9 1970.5,217.9 1970.4,214.9 1970.2,211.9 1969.3,211.9"/><polygon points="2011.2,511.2 2012.4,511.2 2012.6,508.2 2012.7,505.2 2013.0,502.2 2013.2,499.2 2013.4,496.2 2013.7,493.2 2013.9,490.2 2014.0,487.2 2014.1,484.2 2014.3,481.2 2014.6,478.2 2014.9,475.2 2015.2,472.2 2015.5,469.2 2015.8,466.2 2016.0,463.2 2016.3,460.2 2016.4,457.2 2016.6,454.2 2016.8,451.2 2017.1,448.2 2017.4,445.2 2017.8,442.1 2018.2,439.1 2018.6,436.1 2018.9,433.1 2019.2,430.1 2019.5,427.1 2019.6,424.1 2019.9,421.1 2020.2,418.1 2020.6,415.1 2021.0,412.1 2021.4,409.1 2021.9,406.1 2022.3,403.1 2022.7,400.1 2023.1,397.1 2023.3,394.1 2023.5,391.1 2023.8,388.1 2024.1,385.1 2024.6,382.1 2025.0,379.1 2025.5,376.1 2025.9,373.0 2026.3,370.0 2026.7,367.0 2027.0,364.0 2027.1,361.0 2027.2,358.0 2027.4,355.0 2027.5,352.0 2027.7,349.0 2027.9,346.0 2028.0,343.0 2028.1,340.0 2027.9,337.0 2027.7,334.0 2027.4,331.0 2027.0,328.0 2026.7,325.0 2026.4,322.0 2026.1,319.0 2025.9,316.0 2025.7,313.0 2025.2,310.0 2024.7,307.0 2024.1,303.9 2023.4,300.9 2022.7,297.9 2022.1,294.9 2021.4,291.9 2020.9,288.9 2020.5,285.9 2020.2,282.9 2019.8,279.9 2019.3,276.9 2018.7,273.9 2018.1,270.9 2017.4,267.9 2016.7,264.9 2016.1,261.9 2015.5,258.9 2015.0,255.9 2014.7,252.9 2014.5,249.9 2014.4,246.9 2014.2,243.9 2014.0,240.9 2013.8,237.9 2013.5,234.8 2013.3,231.8 2013.1,228.8 2012.9,225.8 2012.8,222.8 2012.7,219.8 2012.7,216.8 2012.7,213.8 2012.6,210.8 2012.6,207.8 2012.5,204.8 2012.4,201.8 2012.4,198.8 2012.3,195.8 2012.2,192.8 2012.2,189.8 2012.1,186.8 2012.0,183.8 2012.0,180.8 2011.9,177.8 2011.9,174.8 2011.8,171.8 2011.8,168.8 2011.2,168.8"/><polygon points="2053.1,444.8 2054.3,444.8 2054.5,441.7 2054.8,438.7 2055.1,435.7 2055.4,432.7 2055.8,429.6 2056.2,426.6 2056.7,423.6 2057.1,420.5 2057.5,417.5 2057.9,414.5 2058.3,411.5 2058.6,408.4 2058.9,405.4 2059.2,402.4 2059.3,399.4 2059.5,396.3 2059.8,393.3 2060.1,390.3 2060.5,387.2 2060.9,384.2 2061.3,381.2 2061.6,378.2 2062.0,375.1 2062.3,372.1 2062.5,369.1 2062.7,366.1 2062.9,363.0 2063.1,360.0 2063.5,357.0 2063.8,354.0 2064.2,350.9 2064.6,347.9 2065.0,344.9 2065.3,341.8 2065.6,338.8 2065.8,335.8 2065.9,332.8 2066.0,329.7 2066.2,326.7 2066.3,323.7 2066.5,320.7 2066.7,317.6 2066.9,314.6 2067.1,311.6 2067.3,308.5 2067.4,305.5 2067.5,302.5 2067.5,299.5 2067.4,296.4 2067.2,293.4 2067.1,290.4 2066.9,287.4 2066.7,284.3 2066.5,281.3 2066.3,278.3 2066.1,275.2 2066.0,272.2 2065.9,269.2 2065.8,266.2 2065.5,263.1 2065.2,260.1 2064.9,257.1 2064.5,254.1 2064.1,251.0 2063.7,248.0 2063.4,245.0 2063.1,242.0 2062.8,238.9 2062.6,235.9 2062.4,232.9 2062.2,229.8 2061.9,226.8 2061.6,223.8 2061.2,220.8 2060.8,217.7 2060.4,214.7 2060.1,211.7 2059.7,208.7 2059.5,205.6 2059.3,202.6 2059.2,199.6 2059.0,196.5 2058.8,193.5 2058.5,190.5 2058.2,187.5 2058.0,184.4 2057.7,181.4 2057.4,178.4 2057.1,175.4 2056.8,172.3 2056.5,169.3 2056.3,166.3 2056.1,163.3 2056.0,160.2 2053.1,160.2"/><polygon points="2095.0,452.3 2097.2,452.3 2097.4,449.3 2097.7,446.3 2098.0,443.3 2098.3,440.3 2098.6,437.3 2098.8,434.2 2099.0,431.2 2099.2,428.2 2099.5,425.2 2099.8,422.2 2100.2,419.2 2100.6,416.1 2101.0,413.1 2101.3,410.1 2101.6,407.1 2101.9,404.1 2102.1,401.1 2102.3,398.0 2102.5,395.0 2102.8,392.0 2103.1,389.0 2103.5,386.0 2103.9,383.0 2104.3,379.9 2104.6,376.9 2105.0,373.9 2105.2,370.9 2105.4,367.9 2105.6,364.9 2105.8,361.9 2106.1,358.8 2106.5,355.8 2106.8,352.8 2107.2,349.8 2107.6,346.8 2108.0,343.8 2108.3,340.7 2108.5,337.7 2108.7,334.7 2108.8,331.7 2108.8,328.7 2108.9,325.7 2109.0,322.6 2109.0,319.6 2109.1,316.6 2109.2,313.6 2109.3,310.6 2109.3,307.6 2109.4,304.5 2109.4,301.5 2109.3,298.5 2109.1,295.5 2108.9,292.5 2108.7,289.5 2108.4,286.4 2108.1,283.4 2107.9,280.4 2107.6,277.4 2107.4,274.4 2107.2,271.4 2107.1,268.3 2106.9,265.3 2106.7,262.3 2106.4,259.3 2106.0,256.3 2105.6,253.3 2105.2,250.2 2104.9,247.2 2104.5,244.2 2104.2,241.2 2104.0,238.2 2103.8,235.2 2103.6,232.1 2103.3,229.1 2102.9,226.1 2102.5,223.1 2102.0,220.1 2101.5,217.1 2101.1,214.0 2100.7,211.0 2100.3,208.0 2100.0,205.0 2099.8,202.0 2099.7,199.0 2099.5,195.9 2099.2,192.9 2099.0,189.9 2098.7,186.9 2098.4,183.9 2098.1,180.9 2097.8,177.8 2097.5,174.8 2097.4,171.8 2097.2,168.8 2095.0,168.8"/><polygon points="2136.9,439.8 2137.5,439.8 2137.6,436.8 2137.8,433.8 2138.0,430.8 2138.2,427.7 2138.4,424.7 2138.6,421.7 2138.9,418.7 2139.1,415.7 2139.4,412.7 2139.6,409.7 2139.8,406.6 2139.9,403.6 2140.1,400.6 2140.2,397.6 2140.5,394.6 2140.8,391.6 2141.1,388.5 2141.5,385.5 2141.9,382.5 2142.3,379.5 2142.6,376.5 2142.9,373.5 2143.2,370.4 2143.4,367.4 2143.5,364.4 2143.8,361.4 2144.1,358.4 2144.4,355.4 2144.8,352.3 2145.2,349.3 2145.6,346.3 2145.9,343.3 2146.2,340.3 2146.5,337.3 2146.7,334.2 2146.9,331.2 2147.1,328.2 2147.4,325.2 2147.8,322.2 2148.1,319.2 2148.5,316.1 2148.9,313.1 2149.3,310.1 2149.6,307.1 2149.8,304.1 2150.0,301.1 2150.0,298.0 2150.1,295.0 2150.2,292.0 2150.3,289.0 2150.4,286.0 2150.5,283.0 2150.6,279.9 2150.6,276.9 2150.5,273.9 2150.3,270.9 2150.1,267.9 2149.9,264.9 2149.8,261.8 2149.6,258.8 2149.4,255.8 2149.3,252.8 2149.2,249.8 2149.0,246.8 2148.7,243.7 2148.3,240.7 2148.0,237.7 2147.6,234.7 2147.2,231.7 2146.8,228.7 2146.5,225.6 2146.2,222.6 2146.0,219.6 2145.9,216.6 2145.6,213.6 2145.3,210.6 2145.0,207.5 2144.6,204.5 2144.2,201.5 2143.9,198.5 2143.5,195.5 2143.2,192.5 2142.9,189.4 2142.7,186.4 2142.5,183.4 2142.3,180.4 2141.9,177.4 2141.5,174.4 2141.1,171.4 2140.7,168.3 2140.3,165.3 2139.9,162.3 2139.6,159.3 2139.4,156.3 2136.9,156.3"/><polygon points="2178.8,434.9 2179.4,434.9 2179.4,431.9 2179.4,428.9 2179.4,425.9 2179.4,422.9 2179.5,419.8 2179.5,416.8 2179.5,413.8 2179.5,410.8 2179.5,407.8 2179.5,404.8 2179.6,401.8 2179.6,398.8 2179.6,395.8 2179.6,392.8 2179.6,389.8 2179.6,386.8 2179.6,383.8 2179.7,380.8 2179.9,377.8 2180.0,374.8 2180.2,371.8 2180.4,368.8 2180.6,365.8 2180.7,362.8 2180.9,359.8 2181.1,356.8 2181.2,353.8 2181.3,350.7 2181.5,347.7 2181.9,344.7 2182.2,341.7 2182.7,338.7 2183.2,335.7 2183.7,332.7 2184.2,329.7 2184.6,326.7 2185.0,323.7 2185.3,320.7 2185.6,317.7 2186.1,314.7 2186.8,311.7 2187.6,308.7 2188.5,305.7 2189.6,302.7 2190.6,299.7 2191.6,296.7 2192.5,293.7 2193.4,290.7 2194.0,287.7 2194.5,284.7 2194.7,281.6 2195.1,278.6 2195.5,275.6 2196.0,272.6 2196.4,269.6 2196.9,266.6 2197.3,263.6 2197.6,260.6 2197.7,257.6 2197.7,254.6 2197.5,251.6 2197.4,248.6 2197.2,245.6 2197.0,242.6 2196.9,239.6 2196.8,236.6 2196.6,233.6 2196.3,230.6 2195.9,227.6 2195.5,224.6 2194.9,221.6 2194.4,218.6 2193.9,215.6 2193.4,212.5 2192.9,209.5 2192.5,206.5 2192.2,203.5 2192.0,200.5 2191.7,197.5 2191.4,194.5 2190.9,191.5 2190.4,188.5 2189.9,185.5 2189.5,182.5 2189.0,179.5 2188.6,176.5 2188.2,173.5 2188.0,170.5 2187.7,167.5 2187.4,164.5 2186.9,161.5 2186.4,158.5 2185.8,155.5 2185.3,152.5 2184.7,149.5 2184.3,146.5 2183.9,143.4 2183.6,140.4 2178.8,140.4"/><polygon points="1885.5,1021.7 1890.4,1021.7 1891.0,1018.7 1891.9,1015.6 1892.9,1012.6 1894.0,1009.6 1894.8,1006.6 1895.4,1003.5 1896.1,1000.5 1897.2,997.5 1898.5,994.4 1899.6,991.4 1900.5,988.4 1900.9,985.4 1901.2,982.3 1901.5,979.3 1902.0,976.3 1902.5,973.3 1903.0,970.2 1903.4,967.2 1903.8,964.2 1904.1,961.2 1904.2,958.1 1904.0,955.1 1903.7,952.1 1903.4,949.1 1903.1,946.0 1902.8,943.0 1902.5,940.0 1902.3,937.0 1902.1,933.9 1901.8,930.9 1901.5,927.9 1901.1,924.9 1900.7,921.8 1900.3,918.8 1899.8,915.8 1899.3,912.8 1898.9,909.7 1898.5,906.7 1898.2,903.7 1898.0,900.7 1897.8,897.6 1897.4,894.6 1897.0,891.6 1896.4,888.5 1895.9,885.5 1895.3,882.5 1894.7,879.5 1894.2,876.4 1893.7,873.4 1893.3,870.4 1892.9,867.4 1892.7,864.3 1892.4,861.3 1892.1,858.3 1891.7,855.3 1891.2,852.2 1890.7,849.2 1890.2,846.2 1889.7,843.2 1889.3,840.1 1888.9,837.1 1888.5,834.1 1888.3,831.1 1888.2,828.0 1888.2,825.0 1888.1,822.0 1888.0,819.0 1887.9,815.9 1887.8,812.9 1887.7,809.9 1887.6,806.9 1887.5,803.8 1887.4,800.8 1887.3,797.8 1887.2,794.8 1887.2,791.7 1887.1,788.7 1887.0,785.7 1886.9,782.7 1886.9,779.6 1886.9,776.6 1886.8,773.6 1886.8,770.5 1886.8,767.5 1886.8,764.5 1886.7,761.5 1886.7,758.4 1886.6,755.4 1886.6,752.4 1886.5,749.4 1886.5,746.3 1886.5,743.3 1886.4,740.3 1886.4,737.3 1886.3,734.2 1886.3,731.2 1886.3,728.2 1886.2,725.2 1886.2,722.1 1886.2,719.1 1885.5,719.1"/><polygon points="1927.4,1000.2 1933.4,1000.2 1933.7,997.2 1934.0,994.2 1934.5,991.1 1935.0,988.1 1935.6,985.1 1936.2,982.1 1936.7,979.1 1937.2,976.1 1937.6,973.1 1937.9,970.1 1938.1,967.1 1938.4,964.1 1938.8,961.1 1939.2,958.1 1939.7,955.1 1940.2,952.1 1940.7,949.0 1941.2,946.0 1941.6,943.0 1942.0,940.0 1942.2,937.0 1942.4,934.0 1942.6,931.0 1942.8,928.0 1943.1,925.0 1943.4,922.0 1943.6,919.0 1943.9,916.0 1944.2,913.0 1944.5,910.0 1944.7,906.9 1944.8,903.9 1944.6,900.9 1944.3,897.9 1943.9,894.9 1943.4,891.9 1943.0,888.9 1942.6,885.9 1942.4,882.9 1942.2,879.9 1941.8,876.9 1941.5,873.9 1941.0,870.9 1940.5,867.9 1940.0,864.8 1939.5,861.8 1939.1,858.8 1938.6,855.8 1938.3,852.8 1938.0,849.8 1937.8,846.8 1937.5,843.8 1937.2,840.8 1936.7,837.8 1936.3,834.8 1935.8,831.8 1935.3,828.8 1934.8,825.8 1934.4,822.7 1934.0,819.7 1933.6,816.7 1933.4,813.7 1933.2,810.7 1933.0,807.7 1932.7,804.7 1932.3,801.7 1932.0,798.7 1931.6,795.7 1931.2,792.7 1930.8,789.7 1930.5,786.7 1930.2,783.7 1930.0,780.6 1929.9,777.6 1929.8,774.6 1929.7,771.6 1929.6,768.6 1929.5,765.6 1929.4,762.6 1929.3,759.6 1929.2,756.6 1929.0,753.6 1928.9,750.6 1928.7,747.6 1928.6,744.6 1928.5,741.5 1928.4,738.5 1928.3,735.5 1928.2,732.5 1928.2,729.5 1927.4,729.5"/><polygon points="1969.3,996.7 1972.6,996.7 1972.8,993.7 1973.1,990.7 1973.5,987.6 1973.9,984.6 1974.4,981.6 1974.8,978.6 1975.4,975.6 1975.9,972.6 1976.4,969.5 1976.9,966.5 1977.3,963.5 1977.7,960.5 1978.0,957.5 1978.3,954.5 1978.5,951.4 1978.7,948.4 1979.0,945.4 1979.3,942.4 1979.7,939.4 1980.0,936.4 1980.4,933.3 1980.8,930.3 1981.2,927.3 1981.5,924.3 1981.7,921.3 1981.9,918.3 1982.0,915.2 1982.1,912.2 1982.2,909.2 1982.3,906.2 1982.4,903.2 1982.5,900.2 1982.6,897.1 1982.7,894.1 1982.8,891.1 1982.9,888.1 1983.0,885.1 1983.0,882.1 1982.9,879.0 1982.7,876.0 1982.6,873.0 1982.4,870.0 1982.2,867.0 1982.0,864.0 1981.8,860.9 1981.7,857.9 1981.5,854.9 1981.4,851.9 1981.3,848.9 1981.2,845.9 1981.0,842.8 1980.7,839.8 1980.5,836.8 1980.2,833.8 1979.9,830.8 1979.6,827.7 1979.3,824.7 1979.0,821.7 1978.8,818.7 1978.6,815.7 1978.4,812.7 1978.2,809.6 1978.0,806.6 1977.7,803.6 1977.3,800.6 1976.9,797.6 1976.5,794.6 1976.2,791.5 1975.8,788.5 1975.5,785.5 1975.3,782.5 1975.1,779.5 1974.9,776.5 1974.6,773.4 1974.4,770.4 1974.0,767.4 1973.7,764.4 1973.3,761.4 1972.9,758.4 1972.5,755.3 1972.2,752.3 1971.9,749.3 1971.7,746.3 1971.5,743.3 1971.4,740.3 1971.3,737.2 1971.2,734.2 1971.1,731.2 1970.9,728.2 1970.8,725.2 1970.6,722.2 1970.5,719.1 1970.3,716.1 1970.2,713.1 1970.2,710.1 1969.3,710.1"/><polygon points="2011.2,994.6 2012.5,994.6 2012.7,991.6 2013.0,988.6 2013.4,985.6 2013.8,982.6 2014.2,979.5 2014.6,976.5 2015.0,973.5 2015.2,970.5 2015.4,967.5 2015.7,964.5 2016.0,961.4 2016.4,958.4 2016.9,955.4 2017.3,952.4 2017.8,949.4 2018.2,946.4 2018.6,943.4 2019.0,940.3 2019.3,937.3 2019.5,934.3 2019.8,931.3 2020.2,928.3 2020.6,925.3 2021.2,922.2 2021.7,919.2 2022.3,916.2 2022.9,913.2 2023.4,910.2 2023.9,907.2 2024.3,904.2 2024.6,901.1 2024.7,898.1 2024.8,895.1 2025.0,892.1 2025.1,889.1 2025.3,886.1 2025.5,883.0 2025.7,880.0 2025.9,877.0 2026.0,874.0 2026.2,871.0 2026.3,868.0 2026.4,865.0 2026.4,861.9 2026.4,858.9 2026.4,855.9 2026.4,852.9 2026.4,849.9 2026.4,846.9 2026.4,843.8 2026.4,840.8 2026.4,837.8 2026.4,834.8 2026.4,831.8 2026.3,828.8 2026.2,825.8 2026.1,822.7 2025.9,819.7 2025.7,816.7 2025.5,813.7 2025.3,810.7 2025.1,807.7 2025.0,804.6 2024.8,801.6 2024.7,798.6 2024.6,795.6 2024.3,792.6 2023.9,789.6 2023.5,786.6 2022.9,783.5 2022.4,780.5 2021.8,777.5 2021.2,774.5 2020.7,771.5 2020.2,768.5 2019.8,765.4 2019.5,762.4 2019.3,759.4 2018.9,756.4 2018.5,753.4 2018.0,750.4 2017.5,747.4 2016.9,744.3 2016.3,741.3 2015.7,738.3 2015.2,735.3 2014.8,732.3 2014.4,729.3 2014.2,726.2 2014.1,723.2 2014.0,720.2 2013.8,717.2 2013.7,714.2 2013.5,711.2 2013.3,708.2 2013.1,705.1 2012.9,702.1 2012.8,699.1 2012.6,696.1 2012.5,693.1 2012.5,690.1 2012.4,687.0 2012.4,684.0 2012.3,681.0 2012.3,678.0 2012.2,675.0 2012.1,672.0 2012.1,669.0 2012.0,665.9 2011.9,662.9 2011.9,659.9 2011.8,656.9 2011.8,653.9 2011.2,653.9"/><polygon points="2053.1,947.5 2054.8,947.5 2055.0,944.5 2055.3,941.4 2055.6,938.4 2056.0,935.4 2056.5,932.4 2056.9,929.4 2057.4,926.3 2057.9,923.3 2058.3,920.3 2058.6,917.3 2058.9,914.2 2059.2,911.2 2059.4,908.2 2059.7,905.2 2060.0,902.2 2060.5,899.1 2060.9,896.1 2061.4,893.1 2061.8,890.1 2062.2,887.0 2062.5,884.0 2062.8,881.0 2063.0,878.0 2063.3,875.0 2063.8,871.9 2064.2,868.9 2064.7,865.9 2065.2,862.9 2065.7,859.8 2066.1,856.8 2066.4,853.8 2066.6,850.8 2066.7,847.8 2066.9,844.7 2067.0,841.7 2067.2,838.7 2067.4,835.7 2067.6,832.6 2067.8,829.6 2067.9,826.6 2068.0,823.6 2068.1,820.6 2068.0,817.5 2067.9,814.5 2067.9,811.5 2067.8,808.5 2067.7,805.5 2067.7,802.4 2067.6,799.4 2067.5,796.4 2067.5,793.4 2067.4,790.3 2067.3,787.3 2067.1,784.3 2066.9,781.3 2066.6,778.3 2066.4,775.2 2066.2,772.2 2066.0,769.2 2065.8,766.2 2065.7,763.1 2065.5,760.1 2065.3,757.1 2065.0,754.1 2064.6,751.1 2064.2,748.0 2063.8,745.0 2063.5,742.0 2063.2,739.0 2062.9,735.9 2062.7,732.9 2062.5,729.9 2062.3,726.9 2061.9,723.9 2061.6,720.8 2061.2,717.8 2060.8,714.8 2060.4,711.8 2060.1,708.7 2059.9,705.7 2059.7,702.7 2059.5,699.7 2059.1,696.7 2058.7,693.6 2058.3,690.6 2057.8,687.6 2057.3,684.6 2056.9,681.6 2056.6,678.5 2056.3,675.5 2056.2,672.5 2055.9,669.5 2055.6,666.4 2055.3,663.4 2055.0,660.4 2054.6,657.4 2054.3,654.4 2054.1,651.3 2053.9,648.3 2053.1,648.3"/><polygon points="2095.0,938.6 2097.0,938.6 2097.2,935.6 2097.6,932.6 2098.0,929.6 2098.5,926.6 2098.9,923.6 2099.4,920.5 2099.9,917.5 2100.2,914.5 2100.5,911.5 2100.7,908.5 2101.1,905.5 2101.5,902.5 2102.1,899.5 2102.6,896.4 2103.2,893.4 2103.8,890.4 2104.3,887.4 2104.7,884.4 2105.0,881.4 2105.2,878.4 2105.5,875.4 2105.9,872.3 2106.4,869.3 2106.9,866.3 2107.4,863.3 2107.9,860.3 2108.3,857.3 2108.6,854.3 2108.8,851.2 2108.9,848.2 2109.0,845.2 2109.1,842.2 2109.3,839.2 2109.4,836.2 2109.6,833.2 2109.7,830.2 2109.9,827.1 2110.0,824.1 2110.0,821.1 2110.0,818.1 2109.9,815.1 2109.8,812.1 2109.8,809.1 2109.7,806.1 2109.6,803.0 2109.5,800.0 2109.5,797.0 2109.4,794.0 2109.3,791.0 2109.2,788.0 2108.9,785.0 2108.7,781.9 2108.4,778.9 2108.1,775.9 2107.8,772.9 2107.5,769.9 2107.3,766.9 2107.1,763.9 2106.9,760.9 2106.7,757.8 2106.4,754.8 2106.0,751.8 2105.7,748.8 2105.3,745.8 2104.9,742.8 2104.6,739.8 2104.3,736.8 2104.1,733.7 2103.9,730.7 2103.6,727.7 2103.2,724.7 2102.8,721.7 2102.3,718.7 2101.9,715.7 2101.4,712.6 2101.1,709.6 2100.8,706.6 2100.5,703.6 2100.3,700.6 2100.1,697.6 2099.8,694.6 2099.4,691.6 2099.0,688.5 2098.6,685.5 2098.3,682.5 2098.0,679.5 2097.7,676.5 2097.6,673.5 2097.5,670.5 2097.3,667.5 2097.1,664.4 2096.9,661.4 2096.7,658.4 2096.5,655.4 2096.2,652.4 2096.0,649.4 2095.9,646.4 2095.7,643.3 2095.6,640.3 2095.0,640.3"/><polygon points="2136.9,925.3 2139.5,925.3 2139.7,922.3 2140.0,919.3 2140.3,916.3 2140.7,913.3 2141.0,910.3 2141.4,907.3 2141.8,904.3 2142.1,901.3 2142.3,898.3 2142.5,895.3 2142.7,892.3 2143.0,889.3 2143.3,886.3 2143.7,883.3 2144.1,880.3 2144.4,877.3 2144.8,874.3 2145.1,871.3 2145.3,868.3 2145.5,865.3 2145.7,862.3 2146.0,859.3 2146.3,856.2 2146.7,853.2 2147.1,850.2 2147.5,847.2 2147.8,844.2 2148.1,841.2 2148.3,838.2 2148.4,835.2 2148.6,832.2 2148.8,829.2 2149.0,826.2 2149.2,823.2 2149.4,820.2 2149.6,817.2 2149.8,814.2 2150.0,811.2 2150.1,808.2 2150.2,805.2 2150.2,802.2 2150.3,799.2 2150.4,796.2 2150.4,793.2 2150.5,790.2 2150.6,787.2 2150.7,784.2 2150.7,781.2 2150.8,778.2 2150.7,775.1 2150.7,772.1 2150.6,769.1 2150.5,766.1 2150.5,763.1 2150.4,760.1 2150.3,757.1 2150.3,754.1 2150.2,751.1 2150.2,748.1 2150.1,745.1 2149.9,742.1 2149.7,739.1 2149.5,736.1 2149.3,733.1 2149.0,730.1 2148.8,727.1 2148.6,724.1 2148.5,721.1 2148.4,718.1 2148.2,715.1 2147.9,712.1 2147.6,709.1 2147.2,706.1 2146.8,703.1 2146.4,700.1 2146.1,697.1 2145.8,694.1 2145.6,691.0 2145.4,688.0 2145.2,685.0 2145.0,682.0 2144.8,679.0 2144.5,676.0 2144.2,673.0 2144.0,670.0 2143.7,667.0 2143.5,664.0 2143.4,661.0 2136.9,661.0"/><polygon points="2178.8,915.0 2179.7,915.0 2179.7,912.0 2179.8,909.0 2179.9,906.0 2179.9,903.0 2180.0,900.0 2180.1,896.9 2180.2,893.9 2180.3,890.9 2180.4,887.9 2180.5,884.9 2180.6,881.9 2180.6,878.9 2180.7,875.9 2180.8,872.9 2180.8,869.9 2180.9,866.9 2181.0,863.8 2181.2,860.8 2181.4,857.8 2181.7,854.8 2182.0,851.8 2182.3,848.8 2182.6,845.8 2182.9,842.8 2183.1,839.8 2183.2,836.8 2183.7,833.8 2184.2,830.7 2184.9,827.7 2185.7,824.7 2186.6,821.7 2187.4,818.7 2188.2,815.7 2188.9,812.7 2189.4,809.7 2189.8,806.7 2190.4,803.7 2191.3,800.7 2192.3,797.6 2193.4,794.6 2194.5,791.6 2195.4,788.6 2196.2,785.6 2196.6,782.6 2196.8,779.6 2197.2,776.6 2197.5,773.6 2197.9,770.6 2198.2,767.6 2198.5,764.5 2198.6,761.5 2198.4,758.5 2198.2,755.5 2198.0,752.5 2197.7,749.5 2197.4,746.5 2197.2,743.5 2196.9,740.5 2196.7,737.5 2196.6,734.4 2196.4,731.4 2196.1,728.4 2195.7,725.4 2195.2,722.4 2194.8,719.4 2194.3,716.4 2193.8,713.4 2193.3,710.4 2193.0,707.4 2192.7,704.4 2192.5,701.3 2192.3,698.3 2192.0,695.3 2191.6,692.3 2191.3,689.3 2190.9,686.3 2190.5,683.3 2190.2,680.3 2189.9,677.3 2189.7,674.3 2189.7,671.3 2189.6,668.2 2189.4,665.2 2189.3,662.2 2189.2,659.2 2189.0,656.2 2188.9,653.2 2188.7,650.2 2188.6,647.2 2188.6,644.2 2178.8,644.2"/></g>
<g fill="#000"><rect x="162.00" y="390.26" width="3" height="165.91"/><rect x="159.80" y="457.10" width="7.4" height="81.16"/><circle cx="163.50" cy="506.04" r="9.6"/><rect x="203.90" y="373.07" width="3" height="169.49"/><rect x="201.70" y="424.16" width="7.4" height="96.20"/><circle cx="205.40" cy="485.27" r="9.6"/><rect x="245.80" y="352.07" width="3" height="188.59"/><rect x="243.60" y="405.78" width="7.4" height="107.42"/><circle cx="247.30" cy="470.23" r="9.6"/><rect x="287.70" y="328.20" width="3" height="214.37"/><rect x="285.50" y="401.01" width="7.4" height="103.84"/><circle cx="289.20" cy="451.14" r="9.6"/><rect x="329.60" y="299.72" width="3" height="212.50"/><rect x="327.40" y="340.00" width="7.4" height="104.17"/><circle cx="331.10" cy="405.28" r="9.6"/><rect x="371.50" y="309.44" width="3" height="204.17"/><rect x="369.30" y="363.61" width="7.4" height="113.89"/><circle cx="373.00" cy="416.39" r="9.6"/><rect x="413.40" y="289.44" width="3" height="224.17"/><rect x="411.20" y="332.50" width="7.4" height="133.06"/><circle cx="414.90" cy="395.56" r="9.6"/><rect x="455.30" y="258.06" width="3" height="240.28"/><rect x="453.10" y="302.50" width="7.4" height="136.94"/><circle cx="456.80" cy="382.22" r="9.6"/><rect x="162.00" y="886.68" width="3" height="149.70"/><rect x="159.80" y="949.17" width="7.4" height="71.60"/><circle cx="163.50" cy="997.85" r="9.6"/><rect x="203.90" y="877.57" width="3" height="153.09"/><rect x="201.70" y="933.55" width="7.4" height="79.93"/><circle cx="205.40" cy="975.20" r="9.6"/><rect x="245.80" y="858.83" width="3" height="165.84"/><rect x="243.60" y="914.54" width="7.4" height="86.70"/><circle cx="247.30" cy="963.49" r="9.6"/><rect x="287.70" y="815.09" width="3" height="204.37"/><rect x="285.50" y="898.92" width="7.4" height="103.62"/><circle cx="289.20" cy="957.76" r="9.6"/><rect x="329.60" y="780.69" width="3" height="217.59"/><rect x="327.40" y="833.94" width="7.4" height="134.48"/><circle cx="331.10" cy="904.41" r="9.6"/><rect x="371.50" y="788.22" width="3" height="206.29"/><rect x="369.30" y="847.93" width="7.4" height="123.18"/><circle cx="373.00" cy="929.16" r="9.6"/><rect x="413.40" y="790.10" width="3" height="188.27"/><rect x="411.20" y="842.01" width="7.4" height="118.34"/><circle cx="414.90" cy="902.26" r="9.6"/><rect x="455.30" y="747.88" width="3" height="227.81"/><rect x="453.10" y="800.05" width="7.4" height="125.34"/><circle cx="456.80" cy="872.14" r="9.6"/><rect x="592.50" y="344.58" width="3" height="200.52"/><rect x="590.30" y="426.22" width="7.4" height="97.39"/><circle cx="594.00" cy="480.64" r="9.6"/><rect x="634.40" y="334.55" width="3" height="194.79"/><rect x="632.20" y="402.73" width="7.4" height="102.26"/><circle cx="635.90" cy="453.43" r="9.6"/><rect x="676.30" y="295.88" width="3" height="220.57"/><rect x="674.10" y="370.36" width="7.4" height="118.88"/><circle cx="677.80" cy="433.95" r="9.6"/><rect x="718.20" y="270.10" width="3" height="246.35"/><rect x="716.00" y="357.47" width="7.4" height="118.30"/><circle cx="719.70" cy="414.76" r="9.6"/><rect x="760.10" y="254.73" width="3" height="225.75"/><rect x="757.90" y="294.87" width="7.4" height="115.61"/><circle cx="761.60" cy="351.07" r="9.6"/><rect x="802.00" y="250.88" width="3" height="217.41"/><rect x="799.80" y="315.11" width="7.4" height="109.18"/><circle cx="803.50" cy="361.35" r="9.6"/><rect x="843.90" y="229.04" width="3" height="247.27"/><rect x="841.70" y="277.21" width="7.4" height="122.99"/><circle cx="845.40" cy="337.59" r="9.6"/><rect x="885.80" y="201.10" width="3" height="235.71"/><rect x="883.60" y="249.27" width="7.4" height="110.47"/><circle cx="887.30" cy="310.29" r="9.6"/><rect x="592.50" y="831.27" width="3" height="196.90"/><rect x="590.30" y="916.35" width="7.4" height="89.03"/><circle cx="594.00" cy="968.00" r="9.6"/><rect x="634.40" y="830.66" width="3" height="185.35"/><rect x="632.20" y="889.91" width="7.4" height="103.31"/><circle cx="635.90" cy="940.66" r="9.6"/><rect x="676.30" y="806.96" width="3" height="201.46"/><rect x="674.10" y="861.05" width="7.4" height="118.51"/><circle cx="677.80" cy="932.45" r="9.6"/><rect x="718.20" y="779.61" width="3" height="227.29"/><rect x="716.00" y="848.28" width="7.4" height="121.54"/><circle cx="719.70" cy="921.21" r="9.6"/><rect x="760.10" y="733.90" width="3" height="234.89"/><rect x="757.90" y="776.87" width="7.4" height="140.93"/><circle cx="761.60" cy="850.49" r="9.6"/><rect x="802.00" y="736.77" width="3" height="232.60"/><rect x="799.80" y="799.79" width="7.4" height="128.90"/><circle cx="803.50" cy="869.68" r="9.6"/><rect x="843.90" y="722.45" width="3" height="235.46"/><rect x="841.70" y="778.02" width="7.4" height="141.22"/><circle cx="845.40" cy="849.63" r="9.6"/><rect x="885.80" y="700.10" width="3" height="241.19"/><rect x="883.60" y="744.50" width="7.4" height="128.04"/><circle cx="887.30" cy="822.42" r="9.6"/><rect x="1023.00" y="316.25" width="3" height="222.81"/><rect x="1020.80" y="395.31" width="7.4" height="112.50"/><circle cx="1024.50" cy="465.62" r="9.6"/><rect x="1064.90" y="310.00" width="3" height="210.31"/><rect x="1062.70" y="377.50" width="7.4" height="110.00"/><circle cx="1066.40" cy="427.50" r="9.6"/><rect x="1106.80" y="273.44" width="3" height="235.94"/><rect x="1104.60" y="345.31" width="7.4" height="128.12"/><circle cx="1108.30" cy="415.00" r="9.6"/><rect x="1148.70" y="243.12" width="3" height="262.50"/><rect x="1146.50" y="332.81" width="7.4" height="124.38"/><circle cx="1150.20" cy="389.06" r="9.6"/><rect x="1190.60" y="226.41" width="3" height="236.81"/><rect x="1188.40" y="261.37" width="7.4" height="131.93"/><circle cx="1192.10" cy="327.99" r="9.6"/><rect x="1232.50" y="228.39" width="3" height="231.53"/><rect x="1230.30" y="281.82" width="7.4" height="113.79"/><circle cx="1234.00" cy="340.20" r="9.6"/><rect x="1274.40" y="205.96" width="3" height="242.41"/><rect x="1272.20" y="249.83" width="7.4" height="114.45"/><circle cx="1275.90" cy="305.90" r="9.6"/><rect x="1316.30" y="190.13" width="3" height="230.21"/><rect x="1314.10" y="229.71" width="7.4" height="94.99"/><circle cx="1317.80" cy="280.17" r="9.6"/><rect x="1023.00" y="806.48" width="3" height="215.16"/><rect x="1020.80" y="887.73" width="7.4" height="106.62"/><circle cx="1024.50" cy="952.59" r="9.6"/><rect x="1064.90" y="797.81" width="3" height="206.17"/><rect x="1062.70" y="872.31" width="7.4" height="101.16"/><circle cx="1066.40" cy="917.91" r="9.6"/><rect x="1106.80" y="768.91" width="3" height="226.08"/><rect x="1104.60" y="834.42" width="7.4" height="128.45"/><circle cx="1108.30" cy="903.78" r="9.6"/><rect x="1148.70" y="746.43" width="3" height="240.85"/><rect x="1146.50" y="822.54" width="7.4" height="122.99"/><circle cx="1150.20" cy="894.15" r="9.6"/><rect x="1190.60" y="716.46" width="3" height="234.32"/><rect x="1188.40" y="750.26" width="7.4" height="142.65"/><circle cx="1192.10" cy="818.15" r="9.6"/><rect x="1232.50" y="709.58" width="3" height="242.62"/><rect x="1230.30" y="773.17" width="7.4" height="133.20"/><circle cx="1234.00" cy="841.35" r="9.6"/><rect x="1274.40" y="705.86" width="3" height="230.59"/><rect x="1272.20" y="748.83" width="7.4" height="144.08"/><circle cx="1275.90" cy="816.71" r="9.6"/><rect x="1316.30" y="680.08" width="3" height="240.62"/><rect x="1314.10" y="722.19" width="7.4" height="111.72"/><circle cx="1317.80" cy="786.92" r="9.6"/><rect x="1453.50" y="300.28" width="3" height="230.87"/><rect x="1451.30" y="382.73" width="7.4" height="115.44"/><circle cx="1455.00" cy="454.30" r="9.6"/><rect x="1495.40" y="285.44" width="3" height="220.98"/><rect x="1493.20" y="354.70" width="7.4" height="125.33"/><circle cx="1496.90" cy="412.41" r="9.6"/><rect x="1537.30" y="253.11" width="3" height="250.00"/><rect x="1535.10" y="326.66" width="7.4" height="129.62"/><circle cx="1538.80" cy="397.57" r="9.6"/><rect x="1579.20" y="232.66" width="3" height="262.20"/><rect x="1577.00" y="321.06" width="7.4" height="125.33"/><circle cx="1580.70" cy="367.89" r="9.6"/><rect x="1621.10" y="199.16" width="3" height="252.31"/><rect x="1618.90" y="236.09" width="7.4" height="142.81"/><circle cx="1622.60" cy="309.64" r="9.6"/><rect x="1663.00" y="195.86" width="3" height="252.31"/><rect x="1660.80" y="256.87" width="7.4" height="126.98"/><circle cx="1664.50" cy="320.20" r="9.6"/><rect x="1704.90" y="185.96" width="3" height="244.06"/><rect x="1702.70" y="230.49" width="7.4" height="121.04"/><circle cx="1706.40" cy="291.50" r="9.6"/><rect x="1746.80" y="172.77" width="3" height="223.61"/><rect x="1744.60" y="214.00" width="7.4" height="95.65"/><circle cx="1748.30" cy="258.52" r="9.6"/><rect x="1453.50" y="794.41" width="3" height="223.11"/><rect x="1451.30" y="864.84" width="7.4" height="118.67"/><circle cx="1455.00" cy="941.18" r="9.6"/><rect x="1495.40" y="778.79" width="3" height="216.86"/><rect x="1493.20" y="849.92" width="7.4" height="114.50"/><circle cx="1496.90" cy="903.01" r="9.6"/><rect x="1537.30" y="756.24" width="3" height="229.01"/><rect x="1535.10" y="811.76" width="7.4" height="136.36"/><circle cx="1538.80" cy="887.05" r="9.6"/><rect x="1579.20" y="723.28" width="3" height="256.77"/><rect x="1577.00" y="806.55" width="7.4" height="123.18"/><circle cx="1580.70" cy="872.48" r="9.6"/><rect x="1621.10" y="702.45" width="3" height="231.17"/><rect x="1618.90" y="732.24" width="7.4" height="139.79"/><circle cx="1622.60" cy="802.70" r="9.6"/><rect x="1663.00" y="701.59" width="3" height="229.16"/><rect x="1660.80" y="744.55" width="7.4" height="141.79"/><circle cx="1664.50" cy="820.46" r="9.6"/><rect x="1704.90" y="683.54" width="3" height="238.61"/><rect x="1702.70" y="730.23" width="7.4" height="130.91"/><circle cx="1706.40" cy="794.11" r="9.6"/><rect x="1746.80" y="660.62" width="3" height="242.34"/><rect x="1744.60" y="705.88" width="7.4" height="109.42"/><circle cx="1748.30" cy="769.48" r="9.6"/><rect x="1884.00" y="285.31" width="3" height="240.62"/><rect x="1881.80" y="367.50" width="7.4" height="119.38"/><circle cx="1885.50" cy="440.00" r="9.6"/><rect x="1925.90" y="269.69" width="3" height="228.12"/><rect x="1923.70" y="336.88" width="7.4" height="134.38"/><circle cx="1927.40" cy="398.75" r="9.6"/><rect x="1967.80" y="245.62" width="3" height="249.06"/><rect x="1965.60" y="310.31" width="7.4" height="133.44"/><circle cx="1969.30" cy="382.19" r="9.6"/><rect x="2009.70" y="217.50" width="3" height="266.88"/><rect x="2007.50" y="303.12" width="7.4" height="133.75"/><circle cx="2011.20" cy="350.00" r="9.6"/><rect x="2051.60" y="185.94" width="3" height="257.17"/><rect x="2049.40" y="219.57" width="7.4" height="147.71"/><circle cx="2053.10" cy="293.10" r="9.6"/><rect x="2093.50" y="185.28" width="3" height="247.28"/><rect x="2091.30" y="244.63" width="7.4" height="129.24"/><circle cx="2095.00" cy="307.27" r="9.6"/><rect x="2135.40" y="175.39" width="3" height="247.28"/><rect x="2133.20" y="216.27" width="7.4" height="123.97"/><circle cx="2136.90" cy="278.92" r="9.6"/><rect x="2177.30" y="157.92" width="3" height="225.85"/><rect x="2175.10" y="199.13" width="7.4" height="100.56"/><circle cx="2178.80" cy="250.23" r="9.6"/><rect x="1884.00" y="771.85" width="3" height="239.42"/><rect x="1881.80" y="858.60" width="7.4" height="115.20"/><circle cx="1885.50" cy="922.79" r="9.6"/><rect x="1925.90" y="763.18" width="3" height="222.07"/><rect x="1923.70" y="827.37" width="7.4" height="126.65"/><circle cx="1927.40" cy="889.13" r="9.6"/><rect x="1967.80" y="744.79" width="3" height="232.48"/><rect x="1965.60" y="796.84" width="7.4" height="139.83"/><circle cx="1969.30" cy="873.17" r="9.6"/><rect x="2009.70" y="704.19" width="3" height="263.71"/><rect x="2007.50" y="790.94" width="7.4" height="125.95"/><circle cx="2011.20" cy="854.43" r="9.6"/><rect x="2051.60" y="682.57" width="3" height="238.33"/><rect x="2049.40" y="717.12" width="7.4" height="139.69"/><circle cx="2053.10" cy="783.57" r="9.6"/><rect x="2093.50" y="681.68" width="3" height="234.20"/><rect x="2091.30" y="737.80" width="7.4" height="132.01"/><circle cx="2095.00" cy="804.25" r="9.6"/><rect x="2135.40" y="669.87" width="3" height="242.17"/><rect x="2133.20" y="712.10" width="7.4" height="135.85"/><circle cx="2136.90" cy="779.14" r="9.6"/><rect x="2177.30" y="645.36" width="3" height="241.58"/><rect x="2175.10" y="690.54" width="7.4" height="108.39"/><circle cx="2178.80" cy="748.72" r="9.6"/></g>
<path fill="none" stroke="#a4a4a4" stroke-width="3.75" stroke-linecap="round" stroke-dasharray="0 4.04" d="M161.5 374.8h-4.06M161.5 382.5h-0.02M161.5 390.1h-0.02M161.5 397.8h-0.02M161.5 405.4h-4.06M161.5 409.2h-4.06M161.5 413.0h-0.02M161.5 416.9h-0.02M161.5 424.5h-0.02M161.5 432.2h-8.10M161.5 439.8h-0.02M161.5 443.6h-0.02M161.5 451.3h-4.06M161.5 462.7h-0.02M161.5 470.4h-8.10M161.5 474.2h-8.10M161.5 478.0h-16.18M161.5 481.8h-12.14M161.5 485.7h-0.02M161.5 489.5h-8.10M161.5 493.3h-12.14M161.5 497.1h-24.26M161.5 501.0h-20.22M161.5 504.8h-20.22M161.5 508.6h-0.02M161.5 512.4h-4.06M161.5 516.3h-16.18M161.5 520.1h-8.10M161.5 523.9h-12.14M161.5 527.7h-12.14M161.5 531.5h-12.14M161.5 535.4h-8.10M161.5 539.2h-12.14M161.5 543.0h-0.02M161.5 546.8h-8.10M161.5 550.7h-12.14M161.5 554.5h-4.06M161.5 558.3h-4.06M203.4 332.8h-0.02M203.4 348.1h-0.02M203.4 367.2h-0.02M203.4 374.8h-0.02M203.4 378.6h-0.02M203.4 382.5h-4.06M203.4 390.1h-0.02M203.4 393.9h-0.02M203.4 397.8h-0.02M203.4 401.6h-0.02M203.4 405.4h-0.02M203.4 409.2h-8.10M203.4 413.0h-12.14M203.4 420.7h-0.02M203.4 424.5h-4.06M203.4 428.3h-4.06M203.4 432.2h-16.18M203.4 436.0h-4.06M203.4 443.6h-8.10M203.4 447.4h-0.02M203.4 451.3h-0.02M203.4 458.9h-0.02M203.4 462.7h-0.02M203.4 466.6h-4.06M203.4 470.4h-4.06M203.4 474.2h-0.02M203.4 478.0h-8.10M203.4 481.8h-16.18M203.4 485.7h-12.14M203.4 489.5h-8.10M203.4 493.3h-20.22M203.4 497.1h-16.18M203.4 501.0h-0.02M203.4 508.6h-12.14M203.4 512.4h-0.02M203.4 516.3h-0.02M203.4 520.1h-12.14M203.4 523.9h-12.14M203.4 527.7h-12.14M203.4 531.5h-12.14M203.4 535.4h-12.14M203.4 546.8h-8.10M245.3 302.2h-0.02M245.3 332.8h-0.02M245.3 336.6h-0.02M245.3 344.2h-4.06M245.3 351.9h-0.02M245.3 355.7h-4.06M245.3 359.5h-0.02M245.3 363.4h-0.02M245.3 367.2h-0.02M245.3 374.8h-0.02M245.3 382.5h-0.02M245.3 386.3h-8.10M245.3 390.1h-8.10M245.3 397.8h-0.02M245.3 401.6h-4.06M245.3 405.4h-0.02M245.3 409.2h-8.10M245.3 413.0h-0.02M245.3 416.9h-12.14M245.3 420.7h-8.10M245.3 424.5h-12.14M245.3 436.0h-12.14M245.3 439.8h-16.18M245.3 443.6h-0.02M245.3 447.4h-16.18M245.3 451.3h-0.02M245.3 455.1h-4.06M245.3 458.9h-4.06M245.3 462.7h-8.10M245.3 466.6h-0.02M245.3 470.4h-12.14M245.3 474.2h-12.14M245.3 478.0h-8.10M245.3 481.8h-12.14M245.3 485.7h-8.10M245.3 489.5h-0.02M245.3 493.3h-4.06M245.3 497.1h-0.02M245.3 501.0h-16.18M245.3 508.6h-4.06M245.3 512.4h-0.02M245.3 516.3h-4.06M245.3 527.7h-4.06M245.3 535.4h-8.10M245.3 539.2h-0.02M245.3 543.0h-8.10M245.3 550.7h-0.02M287.2 294.5h-0.02M287.2 298.4h-0.02M287.2 313.7h-4.06M287.2 325.1h-4.06M287.2 328.9h-4.06M287.2 332.8h-4.06M287.2 336.6h-4.06M287.2 344.2h-0.02M287.2 351.9h-0.02M287.2 363.4h-4.06M287.2 371.0h-4.06M287.2 378.6h-0.02M287.2 386.3h-8.10M287.2 390.1h-4.06M287.2 393.9h-12.14M287.2 397.8h-16.18M287.2 401.6h-0.02M287.2 409.2h-0.02M287.2 413.0h-4.06M287.2 416.9h-12.14M287.2 420.7h-0.02M287.2 424.5h-0.02M287.2 432.2h-0.02M287.2 436.0h-8.10M287.2 439.8h-8.10M287.2 443.6h-12.14M287.2 447.4h-0.02M287.2 451.3h-12.14M287.2 455.1h-4.06M287.2 458.9h-12.14M287.2 462.7h-4.06M287.2 466.6h-4.06M287.2 470.4h-16.18M287.2 474.2h-12.14M287.2 478.0h-4.06M287.2 481.8h-4.06M287.2 485.7h-0.02M287.2 493.3h-4.06M287.2 497.1h-8.10M287.2 501.0h-4.06M287.2 504.8h-0.02M287.2 508.6h-0.02M287.2 516.3h-4.06M287.2 520.1h-4.06M287.2 523.9h-0.02M287.2 527.7h-4.06M287.2 531.5h-0.02M287.2 535.4h-0.02M287.2 539.2h-0.02M287.2 543.0h-4.06M287.2 546.8h-4.06M287.2 554.5h-0.02M329.1 283.1h-0.02M329.1 286.9h-0.02M329.1 294.5h-4.06M329.1 298.4h-4.06M329.1 302.2h-0.02M329.1 306.0h-0.02M329.1 313.7h-4.06M329.1 317.5h-4.06M329.1 321.3h-0.02M329.1 325.1h-4.06M329.1 328.9h-0.02M329.1 332.8h-0.02M329.1 340.4h-4.06M329.1 344.2h-4.06M329.1 348.1h-8.10M329.1 359.5h-4.06M329.1 363.4h-8.10M329.1 367.2h-8.10M329.1 374.8h-16.18M329.1 378.6h-12.14M329.1 382.5h-8.10M329.1 386.3h-8.10M329.1 390.1h-0.02M329.1 397.8h-20.22M329.1 401.6h-4.06M329.1 405.4h-20.22M329.1 409.2h-4.06M329.1 413.0h-12.14M329.1 420.7h-20.22M329.1 424.5h-16.18M329.1 436.0h-8.10M329.1 439.8h-16.18M329.1 443.6h-0.02M329.1 447.4h-8.10M329.1 451.3h-4.06M329.1 458.9h-4.06M329.1 462.7h-0.02M329.1 466.6h-0.02M329.1 470.4h-0.02M329.1 478.0h-4.06M329.1 481.8h-0.02M329.1 485.7h-0.02M329.1 497.1h-4.06M329.1 504.8h-0.02M329.1 512.4h-0.02M329.1 520.1h-0.02M371.0 283.1h-0.02M371.0 286.9h-0.02M371.0 313.7h-0.02M371.0 328.9h-4.06M371.0 332.8h-0.02M371.0 336.6h-4.06M371.0 340.4h-0.02M371.0 344.2h-4.06M371.0 351.9h-0.02M371.0 355.7h-0.02M371.0 359.5h-4.06M371.0 363.4h-8.10M371.0 367.2h-0.02M371.0 371.0h-8.10M371.0 374.8h-8.10M371.0 378.6h-4.06M371.0 382.5h-4.06M371.0 386.3h-16.18M371.0 390.1h-8.10M371.0 393.9h-8.10M371.0 397.8h-12.14M371.0 401.6h-0.02M371.0 405.4h-4.06M371.0 409.2h-16.18M371.0 413.0h-4.06M371.0 416.9h-12.14M371.0 420.7h-0.02M371.0 424.5h-8.10M371.0 428.3h-4.06M371.0 436.0h-12.14M371.0 439.8h-16.18M371.0 443.6h-16.18M371.0 447.4h-4.06M371.0 451.3h-8.10M371.0 455.1h-8.10M371.0 458.9h-4.06M371.0 462.7h-4.06M371.0 466.6h-0.02M371.0 470.4h-8.10M371.0 478.0h-0.02M371.0 481.8h-8.10M371.0 485.7h-0.02M371.0 493.3h-0.02M371.0 497.1h-0.02M371.0 501.0h-4.06M371.0 504.8h-0.02M371.0 527.7h-0.02M371.0 531.5h-0.02M412.9 260.1h-0.02M412.9 271.6h-0.02M412.9 279.3h-0.02M412.9 283.1h-0.02M412.9 294.5h-0.02M412.9 302.2h-8.10M412.9 309.8h-8.10M412.9 317.5h-4.06M412.9 321.3h-4.06M412.9 325.1h-4.06M412.9 328.9h-4.06M412.9 332.8h-0.02M412.9 336.6h-0.02M412.9 340.4h-8.10M412.9 344.2h-0.02M412.9 348.1h-12.14M412.9 351.9h-8.10M412.9 355.7h-0.02M412.9 359.5h-0.02M412.9 363.4h-8.10M412.9 367.2h-8.10M412.9 371.0h-8.10M412.9 378.6h-4.06M412.9 382.5h-16.18M412.9 386.3h-0.02M412.9 393.9h-16.18M412.9 397.8h-12.14M412.9 401.6h-16.18M412.9 405.4h-4.06M412.9 409.2h-0.02M412.9 413.0h-4.06M412.9 416.9h-4.06M412.9 420.7h-8.10M412.9 424.5h-8.10M412.9 428.3h-4.06M412.9 432.2h-8.10M412.9 436.0h-4.06M412.9 443.6h-4.06M412.9 447.4h-8.10M412.9 451.3h-0.02M412.9 455.1h-0.02M412.9 458.9h-0.02M412.9 466.6h-4.06M412.9 470.4h-0.02M412.9 474.2h-0.02M412.9 481.8h-0.02M412.9 493.3h-4.06M412.9 497.1h-4.06M412.9 512.4h-0.02M412.9 516.3h-0.02M412.9 520.1h-0.02M454.8 256.3h-4.06M454.8 264.0h-0.02M454.8 267.8h-4.06M454.8 275.4h-0.02M454.8 279.3h-4.06M454.8 286.9h-4.06M454.8 290.7h-4.06M454.8 294.5h-0.02M454.8 298.4h-0.02M454.8 302.2h-4.06M454.8 306.0h-0.02M454.8 309.8h-0.02M454.8 313.7h-4.06M454.8 317.5h-0.02M454.8 321.3h-0.02M454.8 325.1h-0.02M454.8 328.9h-4.06M454.8 332.8h-8.10M454.8 336.6h-0.02M454.8 344.2h-0.02M454.8 348.1h-4.06M454.8 351.9h-12.14M454.8 355.7h-8.10M454.8 359.5h-0.02M454.8 363.4h-16.18M454.8 367.2h-8.10M454.8 371.0h-0.02M454.8 374.8h-16.18M454.8 378.6h-8.10M454.8 382.5h-4.06M454.8 386.3h-0.02M454.8 390.1h-12.14M454.8 393.9h-12.14M454.8 397.8h-4.06M454.8 401.6h-16.18M454.8 405.4h-8.10M454.8 409.2h-12.14M454.8 420.7h-12.14M454.8 424.5h-4.06M454.8 428.3h-4.06M454.8 432.2h-4.06M454.8 436.0h-4.06M454.8 439.8h-0.02M454.8 443.6h-4.06M454.8 447.4h-0.02M454.8 451.3h-0.02M454.8 470.4h-4.06M454.8 478.0h-4.06M454.8 481.8h-0.02M454.8 497.1h-0.02M454.8 516.3h-0.02M454.8 527.7h-0.02"/>
<path fill="none" stroke="#bababa" stroke-width="1.1" stroke-linecap="round" stroke-dasharray="0 4.04" d="M161.5 374.8h-4.06M161.5 382.5h-0.02M161.5 390.1h-0.02M161.5 397.8h-0.02M161.5 405.4h-4.06M161.5 409.2h-4.06M161.5 413.0h-0.02M161.5 416.9h-0.02M161.5 424.5h-0.02M161.5 432.2h-8.10M161.5 439.8h-0.02M161.5 443.6h-0.02M161.5 451.3h-4.06M161.5 462.7h-0.02M161.5 470.4h-8.10M161.5 474.2h-8.10M161.5 478.0h-16.18M161.5 481.8h-12.14M161.5 485.7h-0.02M161.5 489.5h-8.10M161.5 493.3h-12.14M161.5 497.1h-24.26M161.5 501.0h-20.22M161.5 504.8h-20.22M161.5 508.6h-0.02M161.5 512.4h-4.06M161.5 516.3h-16.18M161.5 520.1h-8.10M161.5 523.9h-12.14M161.5 527.7h-12.14M161.5 531.5h-12.14M161.5 535.4h-8.10M161.5 539.2h-12.14M161.5 543.0h-0.02M161.5 546.8h-8.10M161.5 550.7h-12.14M161.5 554.5h-4.06M161.5 558.3h-4.06M203.4 332.8h-0.02M203.4 348.1h-0.02M203.4 367.2h-0.02M203.4 374.8h-0.02M203.4 378.6h-0.02M203.4 382.5h-4.06M203.4 390.1h-0.02M203.4 393.9h-0.02M203.4 397.8h-0.02M203.4 401.6h-0.02M203.4 405.4h-0.02M203.4 409.2h-8.10M203.4 413.0h-12.14M203.4 420.7h-0.02M203.4 424.5h-4.06M203.4 428.3h-4.06M203.4 432.2h-16.18M203.4 436.0h-4.06M203.4 443.6h-8.10M203.4 447.4h-0.02M203.4 451.3h-0.02M203.4 458.9h-0.02M203.4 462.7h-0.02M203.4 466.6h-4.06M203.4 470.4h-4.06M203.4 474.2h-0.02M203.4 478.0h-8.10M203.4 481.8h-16.18M203.4 485.7h-12.14M203.4 489.5h-8.10M203.4 493.3h-20.22M203.4 497.1h-16.18M203.4 501.0h-0.02M203.4 508.6h-12.14M203.4 512.4h-0.02M203.4 516.3h-0.02M203.4 520.1h-12.14M203.4 523.9h-12.14M203.4 527.7h-12.14M203.4 531.5h-12.14M203.4 535.4h-12.14M203.4 546.8h-8.10M245.3 302.2h-0.02M245.3 332.8h-0.02M245.3 336.6h-0.02M245.3 344.2h-4.06M245.3 351.9h-0.02M245.3 355.7h-4.06M245.3 359.5h-0.02M245.3 363.4h-0.02M245.3 367.2h-0.02M245.3 374.8h-0.02M245.3 382.5h-0.02M245.3 386.3h-8.10M245.3 390.1h-8.10M245.3 397.8h-0.02M245.3 401.6h-4.06M245.3 405.4h-0.02M245.3 409.2h-8.10M245.3 413.0h-0.02M245.3 416.9h-12.14M245.3 420.7h-8.10M245.3 424.5h-12.14M245.3 436.0h-12.14M245.3 439.8h-16.18M245.3 443.6h-0.02M245.3 447.4h-16.18M245.3 451.3h-0.02M245.3 455.1h-4.06M245.3 458.9h-4.06M245.3 462.7h-8.10M245.3 466.6h-0.02M245.3 470.4h-12.14M245.3 474.2h-12.14M245.3 478.0h-8.10M245.3 481.8h-12.14M245.3 485.7h-8.10M245.3 489.5h-0.02M245.3 493.3h-4.06M245.3 497.1h-0.02M245.3 501.0h-16.18M245.3 508.6h-4.06M245.3 512.4h-0.02M245.3 516.3h-4.06M245.3 527.7h-4.06M245.3 535.4h-8.10M245.3 539.2h-0.02M245.3 543.0h-8.10M245.3 550.7h-0.02M287.2 294.5h-0.02M287.2 298.4h-0.02M287.2 313.7h-4.06M287.2 325.1h-4.06M287.2 328.9h-4.06M287.2 332.8h-4.06M287.2 336.6h-4.06M287.2 344.2h-0.02M287.2 351.9h-0.02M287.2 363.4h-4.06M287.2 371.0h-4.06M287.2 378.6h-0.02M287.2 386.3h-8.10M287.2 390.1h-4.06M287.2 393.9h-12.14M287.2 397.8h-16.18M287.2 401.6h-0.02M287.2 409.2h-0.02M287.2 413.0h-4.06M287.2 416.9h-12.14M287.2 420.7h-0.02M287.2 424.5h-0.02M287.2 432.2h-0.02M287.2 436.0h-8.10M287.2 439.8h-8.10M287.2 443.6h-12.14M287.2 447.4h-0.02M287.2 451.3h-12.14M287.2 455.1h-4.06M287.2 458.9h-12.14M287.2 462.7h-4.06M287.2 466.6h-4.06M287.2 470.4h-16.18M287.2 474.2h-12.14M287.2 478.0h-4.06M287.2 481.8h-4.06M287.2 485.7h-0.02M287.2 493.3h-4.06M287.2 497.1h-8.10M287.2 501.0h-4.06M287.2 504.8h-0.02M287.2 508.6h-0.02M287.2 516.3h-4.06M287.2 520.1h-4.06M287.2 523.9h-0.02M287.2 527.7h-4.06M287.2 531.5h-0.02M287.2 535.4h-0.02M287.2 539.2h-0.02M287.2 543.0h-4.06M287.2 546.8h-4.06M287.2 554.5h-0.02M329.1 283.1h-0.02M329.1 286.9h-0.02M329.1 294.5h-4.06M329.1 298.4h-4.06M329.1 302.2h-0.02M329.1 306.0h-0.02M329.1 313.7h-4.06M329.1 317.5h-4.06M329.1 321.3h-0.02M329.1 325.1h-4.06M329.1 328.9h-0.02M329.1 332.8h-0.02M329.1 340.4h-4.06M329.1 344.2h-4.06M329.1 348.1h-8.10M329.1 359.5h-4.06M329.1 363.4h-8.10M329.1 367.2h-8.10M329.1 374.8h-16.18M329.1 378.6h-12.14M329.1 382.5h-8.10M329.1 386.3h-8.10M329.1 390.1h-0.02M329.1 397.8h-20.22M329.1 401.6h-4.06M329.1 405.4h-20.22M329.1 409.2h-4.06M329.1 413.0h-12.14M329.1 420.7h-20.22M329.1 424.5h-16.18M329.1 436.0h-8.10M329.1 439.8h-16.18M329.1 443.6h-0.02M329.1 447.4h-8.10M329.1 451.3h-4.06M329.1 458.9h-4.06M329.1 462.7h-0.02M329.1 466.6h-0.02M329.1 470.4h-0.02M329.1 478.0h-4.06M329.1 481.8h-0.02M329.1 485.7h-0.02M329.1 497.1h-4.06M329.1 504.8h-0.02M329.1 512.4h-0.02M329.1 520.1h-0.02M371.0 283.1h-0.02M371.0 286.9h-0.02M371.0 313.7h-0.02M371.0 328.9h-4.06M371.0 332.8h-0.02M371.0 336.6h-4.06M371.0 340.4h-0.02M371.0 344.2h-4.06M371.0 351.9h-0.02M371.0 355.7h-0.02M371.0 359.5h-4.06M371.0 363.4h-8.10M371.0 367.2h-0.02M371.0 371.0h-8.10M371.0 374.8h-8.10M371.0 378.6h-4.06M371.0 382.5h-4.06M371.0 386.3h-16.18M371.0 390.1h-8.10M371.0 393.9h-8.10M371.0 397.8h-12.14M371.0 401.6h-0.02M371.0 405.4h-4.06M371.0 409.2h-16.18M371.0 413.0h-4.06M371.0 416.9h-12.14M371.0 420.7h-0.02M371.0 424.5h-8.10M371.0 428.3h-4.06M371.0 436.0h-12.14M371.0 439.8h-16.18M371.0 443.6h-16.18M371.0 447.4h-4.06M371.0 451.3h-8.10M371.0 455.1h-8.10M371.0 458.9h-4.06M371.0 462.7h-4.06M371.0 466.6h-0.02M371.0 470.4h-8.10M371.0 478.0h-0.02M371.0 481.8h-8.10M371.0 485.7h-0.02M371.0 493.3h-0.02M371.0 497.1h-0.02M371.0 501.0h-4.06M371.0 504.8h-0.02M371.0 527.7h-0.02M371.0 531.5h-0.02M412.9 260.1h-0.02M412.9 271.6h-0.02M412.9 279.3h-0.02M412.9 283.1h-0.02M412.9 294.5h-0.02M412.9 302.2h-8.10M412.9 309.8h-8.10M412.9 317.5h-4.06M412.9 321.3h-4.06M412.9 325.1h-4.06M412.9 328.9h-4.06M412.9 332.8h-0.02M412.9 336.6h-0.02M412.9 340.4h-8.10M412.9 344.2h-0.02M412.9 348.1h-12.14M412.9 351.9h-8.10M412.9 355.7h-0.02M412.9 359.5h-0.02M412.9 363.4h-8.10M412.9 367.2h-8.10M412.9 371.0h-8.10M412.9 378.6h-4.06M412.9 382.5h-16.18M412.9 386.3h-0.02M412.9 393.9h-16.18M412.9 397.8h-12.14M412.9 401.6h-16.18M412.9 405.4h-4.06M412.9 409.2h-0.02M412.9 413.0h-4.06M412.9 416.9h-4.06M412.9 420.7h-8.10M412.9 424.5h-8.10M412.9 428.3h-4.06M412.9 432.2h-8.10M412.9 436.0h-4.06M412.9 443.6h-4.06M412.9 447.4h-8.10M412.9 451.3h-0.02M412.9 455.1h-0.02M412.9 458.9h-0.02M412.9 466.6h-4.06M412.9 470.4h-0.02M412.9 474.2h-0.02M412.9 481.8h-0.02M412.9 493.3h-4.06M412.9 497.1h-4.06M412.9 512.4h-0.02M412.9 516.3h-0.02M412.9 520.1h-0.02M454.8 256.3h-4.06M454.8 264.0h-0.02M454.8 267.8h-4.06M454.8 275.4h-0.02M454.8 279.3h-4.06M454.8 286.9h-4.06M454.8 290.7h-4.06M454.8 294.5h-0.02M454.8 298.4h-0.02M454.8 302.2h-4.06M454.8 306.0h-0.02M454.8 309.8h-0.02M454.8 313.7h-4.06M454.8 317.5h-0.02M454.8 321.3h-0.02M454.8 325.1h-0.02M454.8 328.9h-4.06M454.8 332.8h-8.10M454.8 336.6h-0.02M454.8 344.2h-0.02M454.8 348.1h-4.06M454.8 351.9h-12.14M454.8 355.7h-8.10M454.8 359.5h-0.02M454.8 363.4h-16.18M454.8 367.2h-8.10M454.8 371.0h-0.02M454.8 374.8h-16.18M454.8 378.6h-8.10M454.8 382.5h-4.06M454.8 386.3h-0.02M454.8 390.1h-12.14M454.8 393.9h-12.14M454.8 397.8h-4.06M454.8 401.6h-16.18M454.8 405.4h-8.10M454.8 409.2h-12.14M454.8 420.7h-12.14M454.8 424.5h-4.06M454.8 428.3h-4.06M454.8 432.2h-4.06M454.8 436.0h-4.06M454.8 439.8h-0.02M454.8 443.6h-4.06M454.8 447.4h-0.02M454.8 451.3h-0.02M454.8 470.4h-4.06M454.8 478.0h-4.06M454.8 481.8h-0.02M454.8 497.1h-0.02M454.8 516.3h-0.02M454.8 527.7h-0.02"/>
<path fill="none" stroke="#a2a2a2" stroke-width="3.45" stroke-linecap="round" stroke-dasharray="0 3.9" d="M161.6 845.4h-0.02M161.6 902.7h-3.92M161.6 906.5h-0.02M161.6 910.3h-0.02M161.6 914.2h-0.02M161.6 918.0h-0.02M161.6 921.8h-7.82M161.6 933.3h-0.02M161.6 940.9h-3.92M161.6 944.7h-3.92M161.6 948.6h-15.62M161.6 952.4h-0.02M161.6 956.2h-3.92M161.6 960.0h-3.92M161.6 963.8h-0.02M161.6 971.5h-3.92M161.6 975.3h-7.82M161.6 979.1h-15.62M161.6 983.0h-11.72M161.6 986.8h-11.72M161.6 990.6h-11.72M161.6 994.4h-27.32M161.6 998.3h-27.32M161.6 1002.1h-7.82M161.6 1005.9h-7.82M161.6 1009.7h-31.22M161.6 1013.5h-15.62M161.6 1017.4h-15.62M161.6 1021.2h-11.72M161.6 1025.0h-3.92M161.6 1028.8h-3.92M161.6 1032.7h-15.62M161.6 1036.5h-3.92M161.6 1040.3h-7.82M203.5 833.9h-0.02M203.5 837.7h-0.02M203.5 849.2h-0.02M203.5 853.0h-0.02M203.5 887.4h-0.02M203.5 895.0h-0.02M203.5 898.9h-3.92M203.5 910.3h-7.82M203.5 914.2h-0.02M203.5 918.0h-3.92M203.5 921.8h-7.82M203.5 925.6h-15.62M203.5 929.4h-15.62M203.5 937.1h-7.82M203.5 940.9h-7.82M203.5 944.7h-0.02M203.5 948.6h-3.92M203.5 952.4h-15.62M203.5 956.2h-11.72M203.5 960.0h-3.92M203.5 963.8h-11.72M203.5 967.7h-3.92M203.5 971.5h-0.02M203.5 975.3h-11.72M203.5 979.1h-7.82M203.5 983.0h-19.52M203.5 986.8h-15.62M203.5 990.6h-11.72M203.5 994.4h-19.52M203.5 998.3h-15.62M203.5 1002.1h-7.82M203.5 1005.9h-3.92M203.5 1009.7h-0.02M203.5 1013.5h-11.72M203.5 1017.4h-3.92M203.5 1021.2h-7.82M203.5 1025.0h-0.02M203.5 1028.8h-0.02M203.5 1032.7h-0.02M203.5 1036.5h-3.92M245.4 833.9h-0.02M245.4 860.6h-0.02M245.4 868.3h-0.02M245.4 872.1h-3.92M245.4 883.6h-0.02M245.4 887.4h-0.02M245.4 891.2h-7.82M245.4 898.9h-0.02M245.4 902.7h-0.02M245.4 906.5h-11.72M245.4 910.3h-15.62M245.4 918.0h-0.02M245.4 921.8h-11.72M245.4 925.6h-0.02M245.4 929.4h-3.92M245.4 933.3h-11.72M245.4 937.1h-3.92M245.4 940.9h-0.02M245.4 944.7h-11.72M245.4 948.6h-3.92M245.4 952.4h-11.72M245.4 956.2h-15.62M245.4 960.0h-3.92M245.4 963.8h-15.62M245.4 967.7h-11.72M245.4 971.5h-7.82M245.4 975.3h-3.92M245.4 979.1h-15.62M245.4 983.0h-3.92M245.4 986.8h-19.52M245.4 990.6h-11.72M245.4 994.4h-11.72M245.4 998.3h-15.62M245.4 1002.1h-3.92M245.4 1005.9h-7.82M245.4 1009.7h-3.92M245.4 1013.5h-3.92M245.4 1017.4h-0.02M245.4 1021.2h-0.02M245.4 1028.8h-3.92M245.4 1032.7h-0.02M287.2 768.9h-0.02M287.2 799.5h-0.02M287.2 826.2h-0.02M287.2 841.5h-0.02M287.2 849.2h-3.92M287.2 853.0h-0.02M287.2 860.6h-0.02M287.2 864.5h-0.02M287.2 868.3h-0.02M287.2 872.1h-0.02M287.2 875.9h-0.02M287.2 879.8h-11.72M287.2 883.6h-0.02M287.2 887.4h-3.92M287.2 891.2h-3.92M287.2 895.0h-0.02M287.2 898.9h-7.82M287.2 902.7h-11.72M287.2 906.5h-7.82M287.2 910.3h-7.82M287.2 914.2h-3.92M287.2 918.0h-0.02M287.2 929.4h-11.72M287.2 933.3h-3.92M287.2 937.1h-0.02M287.2 944.7h-0.02M287.2 948.6h-0.02M287.2 952.4h-11.72M287.2 956.2h-7.82M287.2 960.0h-7.82M287.2 963.8h-11.72M287.2 967.7h-3.92M287.2 971.5h-3.92M287.2 975.3h-11.72M287.2 979.1h-3.92M287.2 983.0h-11.72M287.2 986.8h-3.92M287.2 990.6h-19.52M287.2 994.4h-7.82M287.2 998.3h-0.02M287.2 1002.1h-7.82M287.2 1005.9h-0.02M287.2 1009.7h-11.72M287.2 1013.5h-3.92M287.2 1017.4h-11.72M287.2 1028.8h-7.82M287.2 1032.7h-0.02M329.2 742.1h-0.02M329.2 768.9h-0.02M329.2 791.8h-3.92M329.2 803.3h-0.02M329.2 807.1h-3.92M329.2 810.9h-0.02M329.2 814.8h-7.82M329.2 818.6h-0.02M329.2 822.4h-0.02M329.2 826.2h-3.92M329.2 830.1h-3.92M329.2 833.9h-7.82M329.2 837.7h-3.92M329.2 841.5h-3.92M329.2 845.4h-0.02M329.2 849.2h-0.02M329.2 856.8h-0.02M329.2 860.6h-0.02M329.2 864.5h-0.02M329.2 868.3h-11.72M329.2 872.1h-0.02M329.2 875.9h-11.72M329.2 879.8h-3.92M329.2 883.6h-0.02M329.2 887.4h-7.82M329.2 891.2h-3.92M329.2 895.0h-0.02M329.2 898.9h-7.82M329.2 902.7h-3.92M329.2 906.5h-11.72M329.2 914.2h-7.82M329.2 918.0h-7.82M329.2 921.8h-3.92M329.2 925.6h-11.72M329.2 929.4h-3.92M329.2 933.3h-0.02M329.2 937.1h-3.92M329.2 944.7h-11.72M329.2 948.6h-3.92M329.2 952.4h-7.82M329.2 956.2h-3.92M329.2 963.8h-3.92M329.2 967.7h-3.92M329.2 975.3h-3.92M329.2 979.1h-7.82M329.2 983.0h-3.92M329.2 986.8h-11.72M329.2 994.4h-3.92M329.2 1002.1h-3.92M329.2 1005.9h-0.02M329.2 1009.7h-0.02M371.1 753.6h-0.02M371.1 765.1h-0.02M371.1 772.7h-0.02M371.1 776.5h-0.02M371.1 780.4h-0.02M371.1 791.8h-0.02M371.1 799.5h-3.92M371.1 803.3h-0.02M371.1 807.1h-0.02M371.1 814.8h-3.92M371.1 822.4h-3.92M371.1 826.2h-3.92M371.1 837.7h-0.02M371.1 853.0h-0.02M371.1 856.8h-7.82M371.1 864.5h-3.92M371.1 868.3h-0.02M371.1 872.1h-0.02M371.1 875.9h-3.92M371.1 879.8h-0.02M371.1 883.6h-7.82M371.1 895.0h-0.02M371.1 902.7h-3.92M371.1 910.3h-3.92M371.1 914.2h-7.82M371.1 918.0h-3.92M371.1 921.8h-19.52M371.1 925.6h-7.82M371.1 929.4h-0.02M371.1 933.3h-3.92M371.1 937.1h-19.52M371.1 940.9h-11.72M371.1 944.7h-7.82M371.1 948.6h-19.52M371.1 952.4h-0.02M371.1 956.2h-11.72M371.1 960.0h-3.92M371.1 963.8h-11.72M371.1 967.7h-15.62M371.1 971.5h-7.82M371.1 975.3h-3.92M371.1 979.1h-7.82M371.1 983.0h-0.02M371.1 986.8h-11.72M371.1 990.6h-3.92M371.1 994.4h-0.02M371.1 998.3h-3.92M371.1 1002.1h-0.02M412.9 761.3h-0.02M412.9 772.7h-0.02M412.9 776.5h-0.02M412.9 788.0h-3.92M412.9 810.9h-3.92M412.9 814.8h-7.82M412.9 818.6h-0.02M412.9 822.4h-3.92M412.9 826.2h-3.92M412.9 830.1h-0.02M412.9 837.7h-0.02M412.9 841.5h-3.92M412.9 845.4h-0.02M412.9 849.2h-0.02M412.9 853.0h-0.02M412.9 860.6h-0.02M412.9 864.5h-0.02M412.9 868.3h-11.72M412.9 872.1h-3.92M412.9 875.9h-7.82M412.9 887.4h-3.92M412.9 891.2h-0.02M412.9 895.0h-0.02M412.9 898.9h-0.02M412.9 902.7h-15.62M412.9 906.5h-3.92M412.9 910.3h-3.92M412.9 914.2h-7.82M412.9 918.0h-7.82M412.9 921.8h-3.92M412.9 925.6h-3.92M412.9 929.4h-11.72M412.9 933.3h-7.82M412.9 937.1h-3.92M412.9 940.9h-15.62M412.9 944.7h-7.82M412.9 948.6h-19.52M412.9 956.2h-11.72M412.9 960.0h-7.82M412.9 963.8h-15.62M412.9 967.7h-3.92M412.9 971.5h-7.82M412.9 975.3h-0.02M412.9 986.8h-0.02M412.9 990.6h-7.82M412.9 998.3h-3.92M454.9 719.2h-0.02M454.9 746.0h-3.92M454.9 749.8h-3.92M454.9 753.6h-0.02M454.9 765.1h-0.02M454.9 772.7h-7.82M454.9 776.5h-3.92M454.9 780.4h-7.82M454.9 784.2h-3.92M454.9 788.0h-0.02M454.9 791.8h-0.02M454.9 795.7h-7.82M454.9 799.5h-0.02M454.9 803.3h-11.72M454.9 810.9h-0.02M454.9 814.8h-7.82M454.9 818.6h-7.82M454.9 826.2h-7.82M454.9 830.1h-3.92M454.9 833.9h-3.92M454.9 837.7h-11.72M454.9 841.5h-0.02M454.9 845.4h-0.02M454.9 849.2h-11.72M454.9 853.0h-11.72M454.9 856.8h-0.02M454.9 860.6h-0.02M454.9 864.5h-0.02M454.9 868.3h-15.62M454.9 872.1h-3.92M454.9 875.9h-0.02M454.9 879.8h-0.02M454.9 883.6h-7.82M454.9 887.4h-3.92M454.9 891.2h-3.92M454.9 898.9h-3.92M454.9 902.7h-3.92M454.9 906.5h-7.82M454.9 910.3h-0.02M454.9 914.2h-0.02M454.9 918.0h-7.82M454.9 921.8h-0.02M454.9 925.6h-3.92M454.9 929.4h-7.82M454.9 937.1h-3.92M454.9 940.9h-0.02M454.9 948.6h-7.82M454.9 952.4h-0.02M454.9 956.2h-0.02M454.9 967.7h-3.92M454.9 971.5h-0.02M454.9 975.3h-0.02M454.9 994.4h-0.02"/>
<path fill="none" stroke="#d6d6d6" stroke-width="1.35" stroke-linecap="round" stroke-dasharray="0 3.9" d="M161.6 845.4h-0.02M161.6 902.7h-3.92M161.6 906.5h-0.02M161.6 910.3h-0.02M161.6 914.2h-0.02M161.6 918.0h-0.02M161.6 921.8h-7.82M161.6 933.3h-0.02M161.6 940.9h-3.92M161.6 944.7h-3.92M161.6 948.6h-15.62M161.6 952.4h-0.02M161.6 956.2h-3.92M161.6 960.0h-3.92M161.6 963.8h-0.02M161.6 971.5h-3.92M161.6 975.3h-7.82M161.6 979.1h-15.62M161.6 983.0h-11.72M161.6 986.8h-11.72M161.6 990.6h-11.72M161.6 994.4h-27.32M161.6 998.3h-27.32M161.6 1002.1h-7.82M161.6 1005.9h-7.82M161.6 1009.7h-31.22M161.6 1013.5h-15.62M161.6 1017.4h-15.62M161.6 1021.2h-11.72M161.6 1025.0h-3.92M161.6 1028.8h-3.92M161.6 1032.7h-15.62M161.6 1036.5h-3.92M161.6 1040.3h-7.82M203.5 833.9h-0.02M203.5 837.7h-0.02M203.5 849.2h-0.02M203.5 853.0h-0.02M203.5 887.4h-0.02M203.5 895.0h-0.02M203.5 898.9h-3.92M203.5 910.3h-7.82M203.5 914.2h-0.02M203.5 918.0h-3.92M203.5 921.8h-7.82M203.5 925.6h-15.62M203.5 929.4h-15.62M203.5 937.1h-7.82M203.5 940.9h-7.82M203.5 944.7h-0.02M203.5 948.6h-3.92M203.5 952.4h-15.62M203.5 956.2h-11.72M203.5 960.0h-3.92M203.5 963.8h-11.72M203.5 967.7h-3.92M203.5 971.5h-0.02M203.5 975.3h-11.72M203.5 979.1h-7.82M203.5 983.0h-19.52M203.5 986.8h-15.62M203.5 990.6h-11.72M203.5 994.4h-19.52M203.5 998.3h-15.62M203.5 1002.1h-7.82M203.5 1005.9h-3.92M203.5 1009.7h-0.02M203.5 1013.5h-11.72M203.5 1017.4h-3.92M203.5 1021.2h-7.82M203.5 1025.0h-0.02M203.5 1028.8h-0.02M203.5 1032.7h-0.02M203.5 1036.5h-3.92M245.4 833.9h-0.02M245.4 860.6h-0.02M245.4 868.3h-0.02M245.4 872.1h-3.92M245.4 883.6h-0.02M245.4 887.4h-0.02M245.4 891.2h-7.82M245.4 898.9h-0.02M245.4 902.7h-0.02M245.4 906.5h-11.72M245.4 910.3h-15.62M245.4 918.0h-0.02M245.4 921.8h-11.72M245.4 925.6h-0.02M245.4 929.4h-3.92M245.4 933.3h-11.72M245.4 937.1h-3.92M245.4 940.9h-0.02M245.4 944.7h-11.72M245.4 948.6h-3.92M245.4 952.4h-11.72M245.4 956.2h-15.62M245.4 960.0h-3.92M245.4 963.8h-15.62M245.4 967.7h-11.72M245.4 971.5h-7.82M245.4 975.3h-3.92M245.4 979.1h-15.62M245.4 983.0h-3.92M245.4 986.8h-19.52M245.4 990.6h-11.72M245.4 994.4h-11.72M245.4 998.3h-15.62M245.4 1002.1h-3.92M245.4 1005.9h-7.82M245.4 1009.7h-3.92M245.4 1013.5h-3.92M245.4 1017.4h-0.02M245.4 1021.2h-0.02M245.4 1028.8h-3.92M245.4 1032.7h-0.02M287.2 768.9h-0.02M287.2 799.5h-0.02M287.2 826.2h-0.02M287.2 841.5h-0.02M287.2 849.2h-3.92M287.2 853.0h-0.02M287.2 860.6h-0.02M287.2 864.5h-0.02M287.2 868.3h-0.02M287.2 872.1h-0.02M287.2 875.9h-0.02M287.2 879.8h-11.72M287.2 883.6h-0.02M287.2 887.4h-3.92M287.2 891.2h-3.92M287.2 895.0h-0.02M287.2 898.9h-7.82M287.2 902.7h-11.72M287.2 906.5h-7.82M287.2 910.3h-7.82M287.2 914.2h-3.92M287.2 918.0h-0.02M287.2 929.4h-11.72M287.2 933.3h-3.92M287.2 937.1h-0.02M287.2 944.7h-0.02M287.2 948.6h-0.02M287.2 952.4h-11.72M287.2 956.2h-7.82M287.2 960.0h-7.82M287.2 963.8h-11.72M287.2 967.7h-3.92M287.2 971.5h-3.92M287.2 975.3h-11.72M287.2 979.1h-3.92M287.2 983.0h-11.72M287.2 986.8h-3.92M287.2 990.6h-19.52M287.2 994.4h-7.82M287.2 998.3h-0.02M287.2 1002.1h-7.82M287.2 1005.9h-0.02M287.2 1009.7h-11.72M287.2 1013.5h-3.92M287.2 1017.4h-11.72M287.2 1028.8h-7.82M287.2 1032.7h-0.02M329.2 742.1h-0.02M329.2 768.9h-0.02M329.2 791.8h-3.92M329.2 803.3h-0.02M329.2 807.1h-3.92M329.2 810.9h-0.02M329.2 814.8h-7.82M329.2 818.6h-0.02M329.2 822.4h-0.02M329.2 826.2h-3.92M329.2 830.1h-3.92M329.2 833.9h-7.82M329.2 837.7h-3.92M329.2 841.5h-3.92M329.2 845.4h-0.02M329.2 849.2h-0.02M329.2 856.8h-0.02M329.2 860.6h-0.02M329.2 864.5h-0.02M329.2 868.3h-11.72M329.2 872.1h-0.02M329.2 875.9h-11.72M329.2 879.8h-3.92M329.2 883.6h-0.02M329.2 887.4h-7.82M329.2 891.2h-3.92M329.2 895.0h-0.02M329.2 898.9h-7.82M329.2 902.7h-3.92M329.2 906.5h-11.72M329.2 914.2h-7.82M329.2 918.0h-7.82M329.2 921.8h-3.92M329.2 925.6h-11.72M329.2 929.4h-3.92M329.2 933.3h-0.02M329.2 937.1h-3.92M329.2 944.7h-11.72M329.2 948.6h-3.92M329.2 952.4h-7.82M329.2 956.2h-3.92M329.2 963.8h-3.92M329.2 967.7h-3.92M329.2 975.3h-3.92M329.2 979.1h-7.82M329.2 983.0h-3.92M329.2 986.8h-11.72M329.2 994.4h-3.92M329.2 1002.1h-3.92M329.2 1005.9h-0.02M329.2 1009.7h-0.02M371.1 753.6h-0.02M371.1 765.1h-0.02M371.1 772.7h-0.02M371.1 776.5h-0.02M371.1 780.4h-0.02M371.1 791.8h-0.02M371.1 799.5h-3.92M371.1 803.3h-0.02M371.1 807.1h-0.02M371.1 814.8h-3.92M371.1 822.4h-3.92M371.1 826.2h-3.92M371.1 837.7h-0.02M371.1 853.0h-0.02M371.1 856.8h-7.82M371.1 864.5h-3.92M371.1 868.3h-0.02M371.1 872.1h-0.02M371.1 875.9h-3.92M371.1 879.8h-0.02M371.1 883.6h-7.82M371.1 895.0h-0.02M371.1 902.7h-3.92M371.1 910.3h-3.92M371.1 914.2h-7.82M371.1 918.0h-3.92M371.1 921.8h-19.52M371.1 925.6h-7.82M371.1 929.4h-0.02M371.1 933.3h-3.92M371.1 937.1h-19.52M371.1 940.9h-11.72M371.1 944.7h-7.82M371.1 948.6h-19.52M371.1 952.4h-0.02M371.1 956.2h-11.72M371.1 960.0h-3.92M371.1 963.8h-11.72M371.1 967.7h-15.62M371.1 971.5h-7.82M371.1 975.3h-3.92M371.1 979.1h-7.82M371.1 983.0h-0.02M371.1 986.8h-11.72M371.1 990.6h-3.92M371.1 994.4h-0.02M371.1 998.3h-3.92M371.1 1002.1h-0.02M412.9 761.3h-0.02M412.9 772.7h-0.02M412.9 776.5h-0.02M412.9 788.0h-3.92M412.9 810.9h-3.92M412.9 814.8h-7.82M412.9 818.6h-0.02M412.9 822.4h-3.92M412.9 826.2h-3.92M412.9 830.1h-0.02M412.9 837.7h-0.02M412.9 841.5h-3.92M412.9 845.4h-0.02M412.9 849.2h-0.02M412.9 853.0h-0.02M412.9 860.6h-0.02M412.9 864.5h-0.02M412.9 868.3h-11.72M412.9 872.1h-3.92M412.9 875.9h-7.82M412.9 887.4h-3.92M412.9 891.2h-0.02M412.9 895.0h-0.02M412.9 898.9h-0.02M412.9 902.7h-15.62M412.9 906.5h-3.92M412.9 910.3h-3.92M412.9 914.2h-7.82M412.9 918.0h-7.82M412.9 921.8h-3.92M412.9 925.6h-3.92M412.9 929.4h-11.72M412.9 933.3h-7.82M412.9 937.1h-3.92M412.9 940.9h-15.62M412.9 944.7h-7.82M412.9 948.6h-19.52M412.9 956.2h-11.72M412.9 960.0h-7.82M412.9 963.8h-15.62M412.9 967.7h-3.92M412.9 971.5h-7.82M412.9 975.3h-0.02M412.9 986.8h-0.02M412.9 990.6h-7.82M412.9 998.3h-3.92M454.9 719.2h-0.02M454.9 746.0h-3.92M454.9 749.8h-3.92M454.9 753.6h-0.02M454.9 765.1h-0.02M454.9 772.7h-7.82M454.9 776.5h-3.92M454.9 780.4h-7.82M454.9 784.2h-3.92M454.9 788.0h-0.02M454.9 791.8h-0.02M454.9 795.7h-7.82M454.9 799.5h-0.02M454.9 803.3h-11.72M454.9 810.9h-0.02M454.9 814.8h-7.82M454.9 818.6h-7.82M454.9 826.2h-7.82M454.9 830.1h-3.92M454.9 833.9h-3.92M454.9 837.7h-11.72M454.9 841.5h-0.02M454.9 845.4h-0.02M454.9 849.2h-11.72M454.9 853.0h-11.72M454.9 856.8h-0.02M454.9 860.6h-0.02M454.9 864.5h-0.02M454.9 868.3h-15.62M454.9 872.1h-3.92M454.9 875.9h-0.02M454.9 879.8h-0.02M454.9 883.6h-7.82M454.9 887.4h-3.92M454.9 891.2h-3.92M454.9 898.9h-3.92M454.9 902.7h-3.92M454.9 906.5h-7.82M454.9 910.3h-0.02M454.9 914.2h-0.02M454.9 918.0h-7.82M454.9 921.8h-0.02M454.9 925.6h-3.92M454.9 929.4h-7.82M454.9 937.1h-3.92M454.9 940.9h-0.02M454.9 948.6h-7.82M454.9 952.4h-0.02M454.9 956.2h-0.02M454.9 967.7h-3.92M454.9 971.5h-0.02M454.9 975.3h-0.02M454.9 994.4h-0.02"/>
<path fill="none" stroke="#a9a9a9" stroke-width="3.86" stroke-linecap="round" stroke-dasharray="0 4.2" d="M591.9 294.6h-0.02M591.9 319.4h-4.22M591.9 323.2h-4.22M591.9 381.5h-4.22M591.9 386.3h-0.02M591.9 394.0h-4.22M591.9 400.6h-4.22M591.9 411.2h-8.42M591.9 422.6h-0.02M591.9 436.0h-12.62M591.9 441.7h-12.62M591.9 447.5h-8.42M591.9 453.2h-8.42M591.9 460.8h-21.02M591.9 468.5h-8.42M591.9 476.1h-21.02M591.9 481.9h-12.62M591.9 487.6h-12.62M591.9 493.3h-12.62M591.9 498.1h-12.62M591.9 504.8h-21.02M591.9 510.5h-25.22M591.9 516.3h-25.22M591.9 521.0h-8.42M591.9 529.6h-21.02M591.9 535.4h-12.62M591.9 540.1h-4.22M591.9 546.8h-12.62M633.8 288.8h-0.02M633.8 319.4h-0.02M633.8 336.6h-0.02M633.8 342.4h-0.02M633.8 357.6h-4.22M633.8 362.4h-4.22M633.8 368.2h-4.22M633.8 376.8h-8.42M633.8 381.5h-4.22M633.8 391.1h-4.22M633.8 395.9h-0.02M633.8 402.6h-4.22M633.8 408.3h-8.42M633.8 415.0h-8.42M633.8 420.7h-16.82M633.8 426.4h-21.02M633.8 432.2h-8.42M633.8 437.9h-12.62M633.8 443.6h-8.42M633.8 451.3h-8.42M633.8 457.0h-16.82M633.8 462.7h-21.02M633.8 468.5h-16.82M633.8 473.3h-12.62M633.8 479.9h-12.62M633.8 485.7h-16.82M633.8 493.3h-8.42M633.8 500.0h-8.42M633.8 508.6h-12.62M633.8 512.4h-0.02M633.8 519.1h-4.22M633.8 525.8h-4.22M633.8 533.5h-12.62M633.8 539.2h-0.02M675.7 256.4h-0.02M675.7 277.4h-0.02M675.7 298.4h-0.02M675.7 304.1h-0.02M675.7 313.7h-8.42M675.7 323.2h-8.42M675.7 335.7h-4.22M675.7 346.2h-8.42M675.7 351.9h-4.22M675.7 359.6h-4.22M675.7 364.3h-8.42M675.7 370.1h-4.22M675.7 376.8h-8.42M675.7 384.4h-16.82M675.7 394.9h-16.82M675.7 405.4h-16.82M675.7 412.1h-12.62M675.7 418.8h-4.22M675.7 423.6h-4.22M675.7 430.3h-16.82M675.7 436.0h-16.82M675.7 440.8h-8.42M675.7 447.5h-16.82M675.7 452.2h-4.22M675.7 461.8h-12.62M675.7 466.6h-0.02M675.7 474.2h-8.42M675.7 483.8h-8.42M675.7 493.3h-8.42M675.7 499.1h-12.62M675.7 504.8h-12.62M675.7 509.6h-12.62M675.7 518.2h-8.42M675.7 524.9h-4.22M717.6 244.9h-0.02M717.6 254.5h-0.02M717.6 278.3h-4.22M717.6 294.6h-4.22M717.6 306.0h-0.02M717.6 332.8h-8.42M717.6 344.3h-8.42M717.6 349.0h-4.22M717.6 361.5h-0.02M717.6 371.0h-16.82M717.6 378.7h-12.62M717.6 384.4h-12.62M717.6 389.2h-4.22M717.6 395.9h-4.22M717.6 401.6h-8.42M717.6 408.3h-12.62M717.6 416.9h-21.02M717.6 422.6h-21.02M717.6 432.2h-16.82M717.6 437.9h-16.82M717.6 443.6h-12.62M717.6 449.4h-12.62M717.6 458.0h-16.82M717.6 464.7h-8.42M717.6 474.2h-8.42M717.6 478.0h-4.22M717.6 487.6h-12.62M717.6 491.4h-4.22M717.6 501.0h-12.62M717.6 506.7h-4.22M717.6 513.4h-8.42M717.6 518.2h-0.02M717.6 526.8h-8.42M759.5 235.3h-0.02M759.5 248.7h-0.02M759.5 254.5h-4.22M759.5 263.1h-4.22M759.5 275.5h-4.22M759.5 285.0h-12.62M759.5 290.8h-0.02M759.5 298.4h-12.62M759.5 307.0h-8.42M759.5 313.7h-8.42M759.5 319.4h-16.82M759.5 325.2h-16.82M759.5 329.9h-4.22M759.5 336.6h-16.82M759.5 341.4h-4.22M759.5 350.0h-21.02M759.5 355.7h-16.82M759.5 361.5h-16.82M759.5 365.3h-0.02M759.5 372.9h-8.42M759.5 379.6h-8.42M759.5 387.3h-4.22M759.5 394.0h-8.42M759.5 399.7h-16.82M759.5 405.4h-12.62M759.5 412.1h-8.42M759.5 418.8h-12.62M759.5 424.5h-12.62M759.5 437.9h-4.22M759.5 443.6h-8.42M759.5 447.5h-4.22M759.5 458.9h-4.22M759.5 462.7h-0.02M759.5 474.2h-4.22M759.5 481.9h-0.02M759.5 487.6h-0.02M801.4 241.1h-0.02M801.4 247.8h-4.22M801.4 262.1h-8.42M801.4 267.8h-4.22M801.4 273.6h-8.42M801.4 280.2h-4.22M801.4 285.0h-0.02M801.4 293.6h-8.42M801.4 300.3h-8.42M801.4 306.0h-4.22M801.4 315.6h-8.42M801.4 322.3h-16.82M801.4 328.0h-16.82M801.4 334.7h-16.82M801.4 340.4h-8.42M801.4 346.2h-21.02M801.4 351.9h-12.62M801.4 356.7h-8.42M801.4 363.4h-12.62M801.4 369.1h-8.42M801.4 375.8h-8.42M801.4 382.5h-12.62M801.4 388.2h-4.22M801.4 397.8h-4.22M801.4 403.5h-16.82M801.4 408.3h-8.42M801.4 414.0h-8.42M801.4 420.7h-4.22M801.4 426.4h-0.02M801.4 432.2h-0.02M801.4 439.8h-8.42M801.4 443.6h-0.02M801.4 451.3h-4.22M801.4 456.1h-4.22M801.4 472.3h-0.02M801.4 491.4h-4.22M801.4 497.1h-0.02M843.3 215.3h-4.22M843.3 231.5h-8.42M843.3 237.3h-4.22M843.3 245.9h-4.22M843.3 264.0h-12.62M843.3 269.7h-8.42M843.3 275.5h-12.62M843.3 285.0h-12.62M843.3 294.6h-8.42M843.3 300.3h-12.62M843.3 310.8h-4.22M843.3 317.5h-0.02M843.3 326.1h-8.42M843.3 332.8h-16.82M843.3 337.6h-4.22M843.3 348.1h-16.82M843.3 351.9h-0.02M843.3 359.6h-12.62M843.3 368.2h-16.82M843.3 374.8h-8.42M843.3 380.6h-12.62M843.3 386.3h-16.82M843.3 392.0h-16.82M843.3 395.9h-4.22M843.3 403.5h-8.42M843.3 413.1h-4.22M843.3 418.8h-8.42M843.3 429.3h-4.22M843.3 436.0h-8.42M843.3 439.8h-0.02M843.3 447.5h-0.02M843.3 460.8h-0.02M843.3 466.6h-0.02M843.3 476.1h-4.22M843.3 481.9h-0.02M885.2 177.1h-4.22M885.2 185.7h-0.02M885.2 195.2h-4.22M885.2 202.9h-4.22M885.2 215.3h-4.22M885.2 222.0h-4.22M885.2 233.4h-8.42M885.2 241.1h-4.22M885.2 245.9h-8.42M885.2 252.5h-16.82M885.2 265.9h-4.22M885.2 273.6h-12.62M885.2 281.2h-8.42M885.2 287.9h-21.02M885.2 294.6h-12.62M885.2 300.3h-12.62M885.2 306.0h-21.02M885.2 311.8h-8.42M885.2 317.5h-21.02M885.2 323.2h-4.22M885.2 329.0h-21.02M885.2 338.5h-16.82M885.2 344.3h-12.62M885.2 348.1h-0.02M885.2 354.8h-12.62M885.2 360.5h-4.22M885.2 367.2h-12.62M885.2 371.0h-0.02M885.2 378.7h-12.62M885.2 397.8h-4.22M885.2 413.1h-4.22M885.2 423.6h-4.22M885.2 451.3h-4.22M885.2 462.7h-0.02"/>
<path fill="none" stroke="#a9a9a9" stroke-width="3.86" stroke-linecap="round" stroke-dasharray="0 4.2" d="M591.9 763.2h-0.02M591.9 770.8h-0.02M591.9 776.6h-0.02M591.9 782.3h-0.02M591.9 812.9h-4.22M591.9 822.4h-0.02M591.9 862.6h-0.02M591.9 874.0h-0.02M591.9 883.6h-4.22M591.9 893.2h-8.42M591.9 905.6h-4.22M591.9 912.3h-12.62M591.9 916.1h-4.22M591.9 921.8h-0.02M591.9 929.5h-4.22M591.9 934.2h-12.62M591.9 940.9h-16.82M591.9 946.7h-8.42M591.9 954.3h-12.62M591.9 963.9h-16.82M591.9 969.6h-16.82M591.9 976.3h-8.42M591.9 983.0h-16.82M591.9 987.7h-25.22M591.9 994.4h-25.22M591.9 1000.2h-21.02M591.9 1005.9h-21.02M591.9 1011.6h-12.62M591.9 1017.4h-16.82M591.9 1023.1h-12.62M591.9 1028.8h-12.62M633.8 784.2h-4.22M633.8 816.7h-4.22M633.8 851.1h-0.02M633.8 866.4h-4.22M633.8 871.2h-4.22M633.8 879.8h-12.62M633.8 884.6h-4.22M633.8 893.2h-4.22M633.8 898.9h-12.62M633.8 904.6h-8.42M633.8 912.3h-12.62M633.8 918.0h-12.62M633.8 923.7h-12.62M633.8 929.5h-21.02M633.8 934.2h-4.22M633.8 940.9h-16.82M633.8 946.7h-8.42M633.8 952.4h-21.02M633.8 958.1h-4.22M633.8 963.9h-16.82M633.8 969.6h-16.82M633.8 975.3h-21.02M633.8 980.1h-4.22M633.8 986.8h-21.02M633.8 992.5h-16.82M633.8 998.3h-4.22M633.8 1007.8h-16.82M633.8 1012.6h-16.82M633.8 1020.2h-8.42M675.7 774.7h-0.02M675.7 786.1h-4.22M675.7 801.4h-0.02M675.7 811.0h-0.02M675.7 820.5h-0.02M675.7 828.2h-8.42M675.7 835.8h-4.22M675.7 841.6h-4.22M675.7 847.3h-4.22M675.7 854.0h-12.62M675.7 864.5h-16.82M675.7 870.2h-12.62M675.7 874.0h-0.02M675.7 881.7h-16.82M675.7 888.4h-8.42M675.7 893.2h-0.02M675.7 902.7h-4.22M675.7 908.4h-8.42M675.7 915.1h-8.42M675.7 920.9h-8.42M675.7 929.5h-12.62M675.7 937.1h-8.42M675.7 943.8h-16.82M675.7 950.5h-16.82M675.7 961.9h-12.62M675.7 967.7h-8.42M675.7 973.4h-12.62M675.7 983.0h-21.02M675.7 988.7h-12.62M675.7 996.3h-16.82M675.7 1002.1h-4.22M675.7 1007.8h-12.62M675.7 1013.5h-8.42M717.6 715.4h-0.02M717.6 723.1h-0.02M717.6 768.9h-0.02M717.6 782.3h-0.02M717.6 793.8h-8.42M717.6 811.0h-0.02M717.6 820.5h-8.42M717.6 828.2h-4.22M717.6 834.9h-12.62M717.6 843.5h-12.62M717.6 849.2h-12.62M717.6 854.0h-4.22M717.6 860.7h-8.42M717.6 866.4h-16.82M717.6 872.1h-16.82M717.6 879.8h-16.82M717.6 887.4h-16.82M717.6 895.1h-16.82M717.6 906.5h-4.22M717.6 915.1h-8.42M717.6 921.8h-8.42M717.6 925.6h-0.02M717.6 934.2h-8.42M717.6 940.9h-16.82M717.6 950.5h-12.62M717.6 958.1h-4.22M717.6 964.8h-16.82M717.6 971.5h-0.02M717.6 979.1h-8.42M717.6 986.8h-12.62M717.6 992.5h-8.42M717.6 998.3h-4.22M717.6 1004.0h-0.02M717.6 1011.6h-4.22M759.5 679.1h-0.02M759.5 723.1h-0.02M759.5 729.8h-4.22M759.5 736.5h-8.42M759.5 742.2h-0.02M759.5 749.8h-4.22M759.5 753.6h-0.02M759.5 761.3h-0.02M759.5 768.9h-4.22M759.5 776.6h-12.62M759.5 781.4h-4.22M759.5 790.0h-12.62M759.5 797.6h-8.42M759.5 805.2h-4.22M759.5 809.1h-0.02M759.5 816.7h-8.42M759.5 822.4h-0.02M759.5 833.9h-12.62M759.5 839.6h-16.82M759.5 844.4h-4.22M759.5 851.1h-8.42M759.5 858.8h-4.22M759.5 864.5h-12.62M759.5 870.2h-16.82M759.5 876.0h-8.42M759.5 881.7h-12.62M759.5 891.2h-8.42M759.5 897.0h-4.22M759.5 904.6h-16.82M759.5 910.4h-8.42M759.5 915.1h-8.42M759.5 921.8h-12.62M759.5 926.6h-12.62M759.5 933.3h-12.62M759.5 942.8h-4.22M759.5 950.5h-8.42M759.5 956.2h-8.42M759.5 961.9h-0.02M759.5 983.0h-0.02M801.4 704.0h-0.02M801.4 719.3h-0.02M801.4 738.4h-4.22M801.4 744.1h-4.22M801.4 759.4h-4.22M801.4 765.1h-8.42M801.4 770.8h-8.42M801.4 774.7h-0.02M801.4 780.4h-0.02M801.4 790.0h-8.42M801.4 795.7h-8.42M801.4 802.4h-4.22M801.4 808.1h-12.62M801.4 820.5h-4.22M801.4 825.3h-4.22M801.4 832.0h-12.62M801.4 839.6h-8.42M801.4 847.3h-16.82M801.4 858.8h-0.02M801.4 866.4h-21.02M801.4 872.1h-16.82M801.4 881.7h-4.22M801.4 888.4h-8.42M801.4 895.1h-8.42M801.4 902.7h-16.82M801.4 906.5h-12.62M801.4 914.2h-8.42M801.4 919.0h-8.42M801.4 925.6h-12.62M801.4 930.4h-4.22M801.4 935.2h-0.02M801.4 942.8h-4.22M801.4 947.6h-4.22M801.4 956.2h-4.22M801.4 961.9h-8.42M801.4 973.4h-4.22M801.4 979.1h-0.02M843.3 704.9h-4.22M843.3 712.6h-4.22M843.3 726.9h-8.42M843.3 734.5h-4.22M843.3 738.4h-0.02M843.3 747.9h-8.42M843.3 755.6h-4.22M843.3 761.3h-8.42M843.3 772.8h-8.42M843.3 776.6h-0.02M843.3 791.9h-8.42M843.3 797.6h-0.02M843.3 809.1h-8.42M843.3 815.8h-16.82M843.3 822.4h-16.82M843.3 828.2h-16.82M843.3 832.0h-0.02M843.3 841.6h-4.22M843.3 846.3h-12.62M843.3 860.7h-12.62M843.3 868.3h-8.42M843.3 874.0h-16.82M843.3 878.8h-12.62M843.3 885.5h-0.02M843.3 897.0h-4.22M843.3 902.7h-8.42M843.3 910.4h-8.42M843.3 915.1h-12.62M843.3 923.7h-12.62M843.3 929.5h-12.62M843.3 933.3h-4.22M843.3 940.9h-4.22M843.3 946.7h-8.42M843.3 951.4h-8.42M843.3 963.9h-4.22M843.3 979.1h-0.02M885.2 683.9h-4.22M885.2 690.6h-0.02M885.2 700.1h-0.02M885.2 709.7h-8.42M885.2 719.3h-4.22M885.2 725.0h-8.42M885.2 734.5h-0.02M885.2 744.1h-12.62M885.2 749.8h-8.42M885.2 754.6h-12.62M885.2 761.3h-4.22M885.2 770.8h-16.82M885.2 784.2h-12.62M885.2 790.0h-16.82M885.2 795.7h-21.02M885.2 801.4h-12.62M885.2 807.2h-21.02M885.2 818.6h-21.02M885.2 824.4h-21.02M885.2 828.2h-4.22M885.2 835.8h-4.22M885.2 840.6h-8.42M885.2 848.2h-16.82M885.2 855.9h-4.22M885.2 860.7h-0.02M885.2 866.4h-0.02M885.2 873.1h-4.22M885.2 878.8h-8.42M885.2 895.1h-4.22M885.2 899.8h-4.22M885.2 905.6h-4.22M885.2 913.2h-4.22M885.2 927.6h-0.02M885.2 933.3h-0.02M885.2 952.4h-0.02M885.2 963.9h-0.02"/>
<path fill="none" stroke="#a9a9a9" stroke-width="4.09" stroke-linecap="round" stroke-dasharray="0 4.45" d="M1022.3 281.8h-4.47M1022.3 305.4h-4.47M1022.3 314.3h-4.47M1022.3 327.7h-0.02M1022.3 341.7h-4.47M1022.3 349.4h-4.47M1022.3 363.4h-0.02M1022.3 370.4h-4.47M1022.3 382.5h-4.47M1022.3 407.3h-4.47M1022.3 411.2h-4.47M1022.3 418.2h-8.92M1022.3 423.3h-4.47M1022.3 429.6h-0.02M1022.3 436.6h-17.82M1022.3 441.7h-13.37M1022.3 448.1h-13.37M1022.3 453.2h-13.37M1022.3 456.4h-4.47M1022.3 462.7h-4.47M1022.3 468.5h-17.82M1022.3 474.9h-13.37M1022.3 479.9h-13.37M1022.3 485.0h-26.72M1022.3 490.1h-22.27M1022.3 494.6h-8.92M1022.3 498.4h-4.47M1022.3 505.4h-13.37M1022.3 510.5h-22.27M1022.3 515.0h-13.37M1022.3 520.7h-4.47M1022.3 528.4h-17.82M1022.3 531.5h-0.02M1022.3 539.2h-8.92M1022.3 544.9h-8.92M1064.2 256.4h-0.02M1064.2 311.1h-4.47M1064.2 322.6h-0.02M1064.2 334.7h-8.92M1064.2 343.6h-4.47M1064.2 350.6h-4.47M1064.2 354.5h-0.02M1064.2 366.6h-4.47M1064.2 373.6h-0.02M1064.2 379.3h-4.47M1064.2 383.8h-4.47M1064.2 394.6h-17.82M1064.2 397.8h-4.47M1064.2 407.3h-17.82M1064.2 411.8h-17.82M1064.2 418.8h-22.27M1064.2 425.2h-22.27M1064.2 430.3h-22.27M1064.2 435.4h-13.37M1064.2 443.6h-13.37M1064.2 449.4h-13.37M1064.2 454.5h-22.27M1064.2 459.6h-8.92M1064.2 464.0h-4.47M1064.2 469.8h-13.37M1064.2 475.5h-13.37M1064.2 485.0h-17.82M1064.2 490.1h-13.37M1064.2 494.6h-0.02M1064.2 509.9h-0.02M1064.2 517.5h-0.02M1064.2 527.7h-0.02M1106.1 227.1h-0.02M1106.1 248.7h-0.02M1106.1 258.9h-0.02M1106.1 273.6h-4.47M1106.1 276.7h-0.02M1106.1 285.0h-4.47M1106.1 294.6h-0.02M1106.1 301.6h-4.47M1106.1 313.1h-4.47M1106.1 320.7h-8.92M1106.1 344.9h-13.37M1106.1 350.0h-13.37M1106.1 357.6h-4.47M1106.1 363.4h-4.47M1106.1 370.4h-13.37M1106.1 376.1h-4.47M1106.1 381.2h-13.37M1106.1 388.2h-8.92M1106.1 395.9h-8.92M1106.1 402.2h-17.82M1106.1 407.3h-17.82M1106.1 412.4h-17.82M1106.1 418.2h-17.82M1106.1 427.1h-4.47M1106.1 438.5h-17.82M1106.1 443.6h-4.47M1106.1 453.2h-17.82M1106.1 459.6h-4.47M1106.1 470.4h-0.02M1106.1 476.8h-8.92M1106.1 487.6h-8.92M1106.1 492.1h-13.37M1106.1 498.4h-0.02M1106.1 508.0h-13.37M1106.1 514.3h-8.92M1148.0 214.3h-0.02M1148.0 225.1h-4.47M1148.0 251.3h-0.02M1148.0 261.5h-0.02M1148.0 270.4h-4.47M1148.0 276.1h-4.47M1148.0 293.3h-0.02M1148.0 301.6h-13.37M1148.0 306.0h-0.02M1148.0 313.1h-8.92M1148.0 318.2h-8.92M1148.0 328.3h-17.82M1148.0 336.0h-13.37M1148.0 344.3h-0.02M1148.0 353.8h-8.92M1148.0 360.2h-17.82M1148.0 365.9h-0.02M1148.0 374.8h-8.92M1148.0 380.6h-17.82M1148.0 385.7h-8.92M1148.0 392.0h-17.82M1148.0 398.4h-17.82M1148.0 403.5h-13.37M1148.0 407.3h-13.37M1148.0 413.7h-4.47M1148.0 420.1h-8.92M1148.0 427.1h-8.92M1148.0 434.1h-4.47M1148.0 445.6h-8.92M1148.0 450.6h-8.92M1148.0 461.5h-0.02M1148.0 471.0h-8.92M1148.0 475.5h-0.02M1148.0 494.0h-8.92M1148.0 499.1h-8.92M1148.0 505.4h-4.47M1148.0 515.0h-4.47M1148.0 523.9h-0.02M1189.9 211.1h-8.92M1189.9 220.7h-0.02M1189.9 230.2h-4.47M1189.9 234.1h-4.47M1189.9 239.2h-4.47M1189.9 250.0h-8.92M1189.9 256.4h-0.02M1189.9 264.0h-0.02M1189.9 270.4h-13.37M1189.9 277.4h-17.82M1189.9 283.8h-4.47M1189.9 290.1h-13.37M1189.9 295.9h-17.82M1189.9 304.1h-8.92M1189.9 308.0h-8.92M1189.9 314.3h-13.37M1189.9 318.8h-13.37M1189.9 322.6h-4.47M1189.9 329.0h-8.92M1189.9 334.7h-4.47M1189.9 342.4h-17.82M1189.9 348.1h-0.02M1189.9 357.0h-8.92M1189.9 362.7h-13.37M1189.9 369.1h-13.37M1189.9 374.8h-4.47M1189.9 380.6h-13.37M1189.9 386.9h-4.47M1189.9 392.7h-13.37M1189.9 400.3h-4.47M1189.9 411.2h-13.37M1189.9 414.3h-4.47M1189.9 423.9h-8.92M1189.9 436.6h-4.47M1189.9 453.8h-0.02M1189.9 473.6h-4.47M1231.8 206.7h-4.47M1231.8 242.3h-0.02M1231.8 253.8h-0.02M1231.8 262.1h-4.47M1231.8 267.2h-4.47M1231.8 273.6h-8.92M1231.8 278.7h-13.37M1231.8 283.8h-13.37M1231.8 288.8h-13.37M1231.8 293.9h-8.92M1231.8 299.0h-17.82M1231.8 303.5h-4.47M1231.8 308.6h-0.02M1231.8 315.6h-4.47M1231.8 321.3h-8.92M1231.8 326.4h-13.37M1231.8 334.1h-8.92M1231.8 337.9h-8.92M1231.8 344.9h-8.92M1231.8 350.0h-13.37M1231.8 355.1h-8.92M1231.8 360.8h-13.37M1231.8 365.3h-17.82M1231.8 372.9h-4.47M1231.8 379.3h-13.37M1231.8 388.9h-13.37M1231.8 394.0h-8.92M1231.8 399.7h-13.37M1231.8 404.8h-8.92M1231.8 408.6h-4.47M1231.8 414.3h-4.47M1231.8 426.4h-8.92M1231.8 430.9h-0.02M1231.8 439.2h-8.92M1231.8 452.6h-8.92M1231.8 458.9h-0.02M1231.8 472.9h-0.02M1231.8 481.9h-0.02M1273.7 202.9h-8.92M1273.7 213.0h-4.47M1273.7 222.6h-8.92M1273.7 231.5h-4.47M1273.7 237.3h-0.02M1273.7 246.8h-13.37M1273.7 253.2h-8.92M1273.7 257.0h-4.47M1273.7 266.6h-0.02M1273.7 275.5h-17.82M1273.7 281.2h-17.82M1273.7 286.3h-8.92M1273.7 290.8h-4.47M1273.7 295.9h-13.37M1273.7 301.6h-17.82M1273.7 311.8h-4.47M1273.7 316.9h-8.92M1273.7 323.2h-17.82M1273.7 327.1h-13.37M1273.7 333.4h-13.37M1273.7 338.5h-22.27M1273.7 346.2h-8.92M1273.7 349.4h-0.02M1273.7 358.9h-13.37M1273.7 369.1h-4.47M1273.7 372.3h-0.02M1273.7 378.7h-8.92M1273.7 384.4h-13.37M1273.7 390.1h-8.92M1273.7 399.7h-13.37M1273.7 404.1h-0.02M1273.7 409.2h-0.02M1273.7 417.5h-8.92M1273.7 423.3h-4.47M1273.7 428.4h-0.02M1273.7 434.7h-8.92M1273.7 451.3h-0.02M1273.7 461.5h-0.02M1315.6 151.9h-4.47M1315.6 165.3h-4.47M1315.6 169.7h-4.47M1315.6 176.1h-4.47M1315.6 183.7h-0.02M1315.6 192.0h-13.37M1315.6 199.0h-13.37M1315.6 204.1h-0.02M1315.6 214.3h-0.02M1315.6 227.7h-13.37M1315.6 235.3h-8.92M1315.6 241.7h-22.27M1315.6 248.1h-13.37M1315.6 253.8h-4.47M1315.6 257.6h-0.02M1315.6 265.3h-17.82M1315.6 270.4h-13.37M1315.6 277.4h-22.27M1315.6 282.5h-17.82M1315.6 287.6h-8.92M1315.6 292.7h-8.92M1315.6 297.8h-8.92M1315.6 303.5h-4.47M1315.6 309.2h-8.92M1315.6 313.1h-17.82M1315.6 320.1h-8.92M1315.6 325.8h-4.47M1315.6 338.5h-8.92M1315.6 351.9h-0.02M1315.6 364.7h-4.47M1315.6 371.7h-4.47M1315.6 374.8h-0.02M1315.6 395.2h-4.47M1315.6 403.5h-4.47M1315.6 413.1h-0.02M1315.6 419.4h-0.02M1315.6 437.3h-0.02M1315.6 446.8h-4.47"/>
<path fill="none" stroke="#a9a9a9" stroke-width="4.09" stroke-linecap="round" stroke-dasharray="0 4.45" d="M1022.3 763.8h-0.02M1022.3 775.3h-0.02M1022.3 832.6h-0.02M1022.3 840.3h-0.02M1022.3 849.2h-0.02M1022.3 854.3h-0.02M1022.3 860.0h-4.47M1022.3 867.7h-8.92M1022.3 871.5h-8.92M1022.3 887.4h-4.47M1022.3 895.7h-8.92M1022.3 900.2h-4.47M1022.3 905.3h-0.02M1022.3 914.8h-8.92M1022.3 919.3h-0.02M1022.3 925.6h-8.92M1022.3 931.4h-17.82M1022.3 936.5h-13.37M1022.3 940.9h-8.92M1022.3 945.4h-4.47M1022.3 950.5h-4.47M1022.3 959.4h-26.72M1022.3 963.9h-8.92M1022.3 969.0h-13.37M1022.3 974.7h-26.72M1022.3 981.1h-31.17M1022.3 986.2h-22.27M1022.3 991.3h-8.92M1022.3 998.9h-26.72M1022.3 1004.0h-13.37M1022.3 1007.8h-8.92M1022.3 1015.5h-17.82M1022.3 1023.1h-4.47M1022.3 1027.6h-4.47M1064.2 765.1h-0.02M1064.2 785.5h-0.02M1064.2 790.6h-0.02M1064.2 814.8h-0.02M1064.2 821.2h-4.47M1064.2 826.3h-8.92M1064.2 838.4h-8.92M1064.2 843.5h-13.37M1064.2 850.5h-0.02M1064.2 860.7h-8.92M1064.2 867.7h-8.92M1064.2 875.3h-13.37M1064.2 880.4h-8.92M1064.2 889.3h-8.92M1064.2 897.0h-8.92M1064.2 900.8h-13.37M1064.2 907.2h-17.82M1064.2 912.3h-22.27M1064.2 915.4h-8.92M1064.2 922.5h-13.37M1064.2 928.8h-13.37M1064.2 940.9h-13.37M1064.2 946.7h-8.92M1064.2 951.8h-22.27M1064.2 956.9h-13.37M1064.2 963.2h-17.82M1064.2 969.0h-17.82M1064.2 975.3h-4.47M1064.2 983.6h-13.37M1064.2 990.6h-4.47M1064.2 997.6h-4.47M1064.2 1003.4h-0.02M1064.2 1010.4h-8.92M1106.1 748.6h-0.02M1106.1 772.8h-0.02M1106.1 780.4h-4.47M1106.1 797.0h-4.47M1106.1 800.8h-0.02M1106.1 807.2h-4.47M1106.1 813.5h-0.02M1106.1 818.6h-0.02M1106.1 839.6h-13.37M1106.1 844.1h-8.92M1106.1 847.9h-0.02M1106.1 857.5h-8.92M1106.1 864.5h-0.02M1106.1 871.5h-4.47M1106.1 876.6h-13.37M1106.1 884.2h-17.82M1106.1 890.6h-13.37M1106.1 895.7h-13.37M1106.1 899.5h-8.92M1106.1 907.2h-17.82M1106.1 914.8h-8.92M1106.1 923.1h-13.37M1106.1 928.8h-17.82M1106.1 936.5h-8.92M1106.1 942.2h-13.37M1106.1 949.2h-13.37M1106.1 959.4h-22.27M1106.1 964.5h-8.92M1106.1 969.0h-17.82M1106.1 976.0h-17.82M1106.1 980.4h-4.47M1106.1 991.9h-8.92M1106.1 997.0h-0.02M1106.1 1003.4h-8.92M1106.1 1009.7h-4.47M1148.0 686.1h-0.02M1148.0 740.9h-0.02M1148.0 773.4h-8.92M1148.0 781.0h-8.92M1148.0 785.5h-0.02M1148.0 792.5h-8.92M1148.0 801.4h-8.92M1148.0 808.4h-13.37M1148.0 812.9h-8.92M1148.0 821.2h-4.47M1148.0 829.5h-8.92M1148.0 835.2h-4.47M1148.0 840.9h-4.47M1148.0 846.0h-8.92M1148.0 853.7h-13.37M1148.0 858.8h-13.37M1148.0 865.8h-4.47M1148.0 872.8h-17.82M1148.0 876.0h-0.02M1148.0 882.3h-17.82M1148.0 889.3h-8.92M1148.0 893.8h-8.92M1148.0 899.5h-13.37M1148.0 904.0h-17.82M1148.0 911.6h-8.92M1148.0 923.7h-13.37M1148.0 928.2h-8.92M1148.0 934.6h-8.92M1148.0 939.7h-13.37M1148.0 947.9h-13.37M1148.0 954.9h-8.92M1148.0 960.7h-4.47M1148.0 974.1h-8.92M1148.0 980.4h-0.02M1148.0 986.8h-0.02M1148.0 995.7h-0.02M1148.0 1005.3h-4.47M1189.9 691.2h-0.02M1189.9 702.7h-0.02M1189.9 720.5h-0.02M1189.9 728.2h-0.02M1189.9 736.5h-13.37M1189.9 742.2h-4.47M1189.9 748.6h-0.02M1189.9 754.9h-0.02M1189.9 761.3h-4.47M1189.9 765.1h-0.02M1189.9 771.5h-0.02M1189.9 777.9h-13.37M1189.9 787.4h-13.37M1189.9 798.2h-8.92M1189.9 803.3h-4.47M1189.9 811.6h-17.82M1189.9 816.7h-17.82M1189.9 821.8h-4.47M1189.9 828.2h-8.92M1189.9 833.3h-4.47M1189.9 838.4h-17.82M1189.9 844.7h-13.37M1189.9 851.1h-13.37M1189.9 856.2h-17.82M1189.9 862.6h-17.82M1189.9 867.7h-13.37M1189.9 877.9h-8.92M1189.9 883.0h-17.82M1189.9 888.7h-13.37M1189.9 893.8h-8.92M1189.9 897.6h-0.02M1189.9 904.6h-13.37M1189.9 909.1h-0.02M1189.9 930.1h-8.92M1189.9 939.0h-4.47M1189.9 958.8h-4.47M1189.9 963.9h-0.02M1231.8 675.9h-0.02M1231.8 681.0h-0.02M1231.8 698.9h-0.02M1231.8 711.0h-4.47M1231.8 726.9h-0.02M1231.8 733.9h-4.47M1231.8 744.7h-4.47M1231.8 750.5h-8.92M1231.8 760.0h-8.92M1231.8 765.1h-8.92M1231.8 774.7h-4.47M1231.8 779.1h-0.02M1231.8 792.5h-4.47M1231.8 800.2h-4.47M1231.8 805.9h-8.92M1231.8 811.6h-8.92M1231.8 815.4h-8.92M1231.8 821.8h-17.82M1231.8 829.5h-13.37M1231.8 835.2h-13.37M1231.8 839.0h-0.02M1231.8 847.9h-4.47M1231.8 854.3h-4.47M1231.8 861.9h-8.92M1231.8 872.8h-13.37M1231.8 877.9h-17.82M1231.8 883.0h-4.47M1231.8 889.3h-13.37M1231.8 896.3h-0.02M1231.8 908.4h-13.37M1231.8 913.5h-8.92M1231.8 918.6h-8.92M1231.8 926.3h-13.37M1231.8 931.4h-8.92M1231.8 940.3h-8.92M1231.8 945.4h-8.92M1231.8 951.8h-8.92M1231.8 960.0h-0.02M1231.8 968.3h-4.47M1273.7 689.9h-0.02M1273.7 702.1h-4.47M1273.7 709.1h-0.02M1273.7 718.0h-0.02M1273.7 724.3h-8.92M1273.7 730.1h-4.47M1273.7 741.5h-8.92M1273.7 749.2h-17.82M1273.7 754.9h-8.92M1273.7 760.0h-8.92M1273.7 766.4h-0.02M1273.7 777.9h-8.92M1273.7 783.6h-8.92M1273.7 788.7h-13.37M1273.7 795.1h-8.92M1273.7 800.2h-13.37M1273.7 806.5h-13.37M1273.7 810.3h-13.37M1273.7 816.1h-17.82M1273.7 821.8h-17.82M1273.7 826.3h-17.82M1273.7 832.0h-13.37M1273.7 840.3h-8.92M1273.7 846.0h-8.92M1273.7 851.1h-8.92M1273.7 855.6h-8.92M1273.7 863.2h-13.37M1273.7 871.5h-17.82M1273.7 877.2h-0.02M1273.7 884.2h-4.47M1273.7 893.8h-0.02M1273.7 903.3h-8.92M1273.7 916.7h-0.02M1273.7 930.1h-4.47M1273.7 935.8h-0.02M1273.7 942.8h-4.47M1273.7 949.8h-0.02M1315.6 664.5h-0.02M1315.6 672.1h-0.02M1315.6 685.5h-8.92M1315.6 699.5h-4.47M1315.6 708.4h-13.37M1315.6 717.3h-17.82M1315.6 724.3h-8.92M1315.6 728.2h-0.02M1315.6 736.5h-13.37M1315.6 744.1h-4.47M1315.6 753.0h-22.27M1315.6 758.1h-8.92M1315.6 762.6h-13.37M1315.6 770.8h-13.37M1315.6 775.9h-13.37M1315.6 780.4h-26.72M1315.6 786.1h-26.72M1315.6 791.2h-13.37M1315.6 796.3h-26.72M1315.6 802.1h-4.47M1315.6 807.8h-8.92M1315.6 811.0h-0.02M1315.6 819.9h-8.92M1315.6 826.9h-4.47M1315.6 835.8h-13.37M1315.6 847.3h-8.92M1315.6 854.3h-0.02M1315.6 859.4h-0.02M1315.6 872.1h-4.47M1315.6 891.9h-4.47M1315.6 904.0h-0.02M1315.6 925.6h-0.02M1315.6 949.8h-0.02"/>
<path fill="none" stroke="#a9a9a9" stroke-width="4.32" stroke-linecap="round" stroke-dasharray="0 4.7" d="M1452.7 267.7h-0.02M1452.7 280.1h-4.72M1452.7 285.8h-4.72M1452.7 297.3h-0.02M1452.7 306.9h-0.02M1452.7 311.7h-0.02M1452.7 321.2h-0.02M1452.7 371.9h-4.72M1452.7 377.6h-0.02M1452.7 383.8h-4.72M1452.7 390.5h-4.72M1452.7 396.3h-4.72M1452.7 402.9h-4.72M1452.7 410.1h-4.72M1452.7 418.7h-4.72M1452.7 425.4h-18.82M1452.7 432.1h-9.42M1452.7 436.9h-9.42M1452.7 442.6h-14.12M1452.7 449.3h-18.82M1452.7 455.1h-23.52M1452.7 460.8h-28.22M1452.7 464.6h-14.12M1452.7 471.3h-28.22M1452.7 480.9h-23.52M1452.7 486.6h-18.82M1452.7 490.4h-9.42M1452.7 498.1h-14.12M1452.7 501.9h-0.02M1452.7 508.6h-18.82M1452.7 512.4h-18.82M1452.7 519.1h-18.82M1452.7 525.8h-9.42M1452.7 537.7h-4.72M1494.6 245.7h-0.02M1494.6 255.2h-0.02M1494.6 285.8h-4.72M1494.6 301.1h-0.02M1494.6 311.7h-0.02M1494.6 323.1h-0.02M1494.6 327.9h-0.02M1494.6 333.6h-9.42M1494.6 339.4h-9.42M1494.6 342.2h-0.02M1494.6 352.8h-14.12M1494.6 358.0h-14.12M1494.6 362.8h-9.42M1494.6 366.1h-0.02M1494.6 372.8h-23.52M1494.6 381.0h-23.52M1494.6 387.2h-9.42M1494.6 392.0h-23.52M1494.6 397.7h-18.82M1494.6 401.5h-0.02M1494.6 410.1h-18.82M1494.6 417.8h-4.72M1494.6 424.5h-4.72M1494.6 430.2h-18.82M1494.6 435.9h-18.82M1494.6 440.7h-14.12M1494.6 449.3h-4.72M1494.6 455.1h-18.82M1494.6 460.8h-18.82M1494.6 464.6h-0.02M1494.6 471.8h-4.72M1494.6 475.1h-0.02M1494.6 482.8h-4.72M1494.6 488.0h-4.72M1494.6 492.3h-0.02M1494.6 508.6h-4.72M1494.6 518.1h-0.02M1536.5 222.3h-4.72M1536.5 233.3h-4.72M1536.5 248.6h-0.02M1536.5 258.1h-4.72M1536.5 261.0h-0.02M1536.5 268.6h-4.72M1536.5 283.9h-9.42M1536.5 293.0h-9.42M1536.5 301.6h-4.72M1536.5 305.9h-0.02M1536.5 310.7h-0.02M1536.5 317.9h-9.42M1536.5 324.6h-4.72M1536.5 334.6h-4.72M1536.5 339.4h-4.72M1536.5 347.5h-9.42M1536.5 353.7h-14.12M1536.5 366.6h-9.42M1536.5 370.0h-0.02M1536.5 379.5h-4.72M1536.5 383.8h-4.72M1536.5 387.7h-14.12M1536.5 395.8h-9.42M1536.5 399.1h-4.72M1536.5 404.4h-0.02M1536.5 410.1h-9.42M1536.5 415.4h-4.72M1536.5 421.6h-14.12M1536.5 428.3h-14.12M1536.5 437.8h-18.82M1536.5 442.1h-9.42M1536.5 452.2h-9.42M1536.5 457.0h-9.42M1536.5 462.7h-9.42M1536.5 468.4h-14.12M1536.5 471.8h-4.72M1536.5 481.8h-4.72M1536.5 486.6h-4.72M1536.5 492.8h-9.42M1536.5 502.4h-4.72M1536.5 509.5h-0.02M1578.4 185.5h-0.02M1578.4 236.1h-0.02M1578.4 241.9h-0.02M1578.4 262.9h-9.42M1578.4 269.6h-4.72M1578.4 275.8h-9.42M1578.4 280.1h-0.02M1578.4 295.4h-14.12M1578.4 298.3h-0.02M1578.4 307.8h-14.12M1578.4 311.7h-18.82M1578.4 317.4h-14.12M1578.4 324.1h-14.12M1578.4 328.9h-4.72M1578.4 334.6h-0.02M1578.4 345.6h-18.82M1578.4 352.3h-4.72M1578.4 358.5h-14.12M1578.4 362.3h-0.02M1578.4 368.1h-9.42M1578.4 376.2h-9.42M1578.4 382.4h-9.42M1578.4 388.1h-18.82M1578.4 392.4h-9.42M1578.4 397.7h-9.42M1578.4 404.9h-9.42M1578.4 409.6h-18.82M1578.4 417.8h-9.42M1578.4 428.3h-9.42M1578.4 432.1h-0.02M1578.4 437.8h-0.02M1578.4 446.4h-0.02M1578.4 453.1h-0.02M1578.4 458.4h-4.72M1578.4 465.6h-0.02M1578.4 470.3h-0.02M1578.4 478.0h-9.42M1578.4 485.6h-9.42M1578.4 490.4h-4.72M1578.4 494.2h-0.02M1578.4 500.5h-4.72M1578.4 516.2h-0.02M1620.2 174.0h-4.72M1620.2 179.7h-4.72M1620.2 185.5h-0.02M1620.2 202.7h-4.72M1620.2 208.4h-4.72M1620.2 213.2h-4.72M1620.2 221.3h-4.72M1620.2 229.9h-4.72M1620.2 238.0h-14.12M1620.2 246.2h-4.72M1620.2 250.5h-0.02M1620.2 265.8h-18.82M1620.2 270.5h-4.72M1620.2 274.8h-14.12M1620.2 280.6h-14.12M1620.2 286.8h-18.82M1620.2 291.6h-18.82M1620.2 294.4h-0.02M1620.2 301.1h-0.02M1620.2 308.8h-14.12M1620.2 313.6h-9.42M1620.2 317.4h-4.72M1620.2 323.1h-9.42M1620.2 329.8h-18.82M1620.2 334.6h-14.12M1620.2 340.3h-9.42M1620.2 347.0h-14.12M1620.2 351.3h-18.82M1620.2 357.5h-18.82M1620.2 360.4h-0.02M1620.2 374.3h-4.72M1620.2 379.5h-0.02M1620.2 386.2h-14.12M1620.2 389.1h-0.02M1620.2 395.8h-0.02M1620.2 410.1h-0.02M1620.2 414.9h-0.02M1620.2 420.6h-0.02M1620.2 427.8h-4.72M1620.2 434.0h-0.02M1620.2 448.4h-0.02M1620.2 462.7h-0.02M1662.2 180.2h-4.72M1662.2 191.2h-0.02M1662.2 196.0h-0.02M1662.2 206.5h-4.72M1662.2 236.1h-9.42M1662.2 245.2h-4.72M1662.2 253.8h-9.42M1662.2 264.8h-4.72M1662.2 270.1h-4.72M1662.2 276.3h-9.42M1662.2 281.1h-14.12M1662.2 287.3h-14.12M1662.2 291.1h-4.72M1662.2 303.0h-9.42M1662.2 308.3h-4.72M1662.2 315.5h-14.12M1662.2 319.3h-4.72M1662.2 326.0h-9.42M1662.2 329.8h-14.12M1662.2 336.5h-9.42M1662.2 344.2h-4.72M1662.2 350.8h-14.12M1662.2 354.7h-14.12M1662.2 362.3h-14.12M1662.2 368.1h-18.82M1662.2 373.8h-18.82M1662.2 378.1h-14.12M1662.2 387.2h-4.72M1662.2 393.9h-9.42M1662.2 397.7h-0.02M1662.2 407.3h-14.12M1662.2 413.0h-9.42M1662.2 418.7h-4.72M1662.2 431.2h-0.02M1662.2 436.9h-4.72M1662.2 446.4h-4.72M1662.2 452.2h-0.02M1662.2 457.0h-0.02M1662.2 461.7h-0.02M1704.1 172.1h-4.72M1704.1 176.4h-4.72M1704.1 190.2h-0.02M1704.1 197.9h-0.02M1704.1 202.7h-0.02M1704.1 212.7h-9.42M1704.1 219.9h-14.12M1704.1 222.7h-0.02M1704.1 231.8h-9.42M1704.1 239.0h-4.72M1704.1 243.3h-14.12M1704.1 248.6h-4.72M1704.1 252.9h-14.12M1704.1 258.1h-9.42M1704.1 269.6h-9.42M1704.1 277.7h-14.12M1704.1 287.8h-23.52M1704.1 294.4h-9.42M1704.1 301.1h-9.42M1704.1 305.9h-18.82M1704.1 310.7h-9.42M1704.1 318.3h-4.72M1704.1 324.1h-23.52M1704.1 328.4h-4.72M1704.1 337.0h-4.72M1704.1 343.7h-9.42M1704.1 349.9h-0.02M1704.1 356.1h-14.12M1704.1 360.4h-0.02M1704.1 372.8h-0.02M1704.1 379.0h-14.12M1704.1 384.8h-9.42M1704.1 389.1h-4.72M1704.1 395.3h-4.72M1704.1 410.1h-9.42M1704.1 413.9h-0.02M1704.1 428.3h-4.72M1704.1 434.0h-4.72M1704.1 443.6h-0.02M1746.0 133.8h-0.02M1746.0 157.7h-4.72M1746.0 165.4h-4.72M1746.0 180.2h-4.72M1746.0 184.5h-0.02M1746.0 191.2h-18.82M1746.0 195.5h-4.72M1746.0 199.8h-0.02M1746.0 209.4h-18.82M1746.0 215.1h-4.72M1746.0 219.9h-4.72M1746.0 226.6h-18.82M1746.0 231.3h-28.22M1746.0 236.1h-18.82M1746.0 241.9h-23.52M1746.0 247.6h-18.82M1746.0 259.1h-28.22M1746.0 263.9h-18.82M1746.0 267.7h-4.72M1746.0 274.4h-18.82M1746.0 279.1h-9.42M1746.0 283.9h-14.12M1746.0 287.8h-14.12M1746.0 294.4h-18.82M1746.0 302.1h-4.72M1746.0 309.7h-9.42M1746.0 316.4h-9.42M1746.0 322.6h-4.72M1746.0 350.8h-4.72M1746.0 356.6h-0.02M1746.0 382.4h-0.02M1746.0 435.0h-0.02"/>
<path fill="none" stroke="#a9a9a9" stroke-width="4.32" stroke-linecap="round" stroke-dasharray="0 4.7" d="M1452.7 729.6h-0.02M1452.7 778.4h-0.02M1452.7 789.8h-4.72M1452.7 810.9h-0.02M1452.7 832.4h-4.72M1452.7 873.0h-9.42M1452.7 880.2h-14.12M1452.7 888.8h-9.42M1452.7 893.6h-4.72M1452.7 898.3h-4.72M1452.7 903.6h-14.12M1452.7 909.3h-9.42M1452.7 914.1h-4.72M1452.7 921.8h-23.52M1452.7 927.0h-14.12M1452.7 932.3h-23.52M1452.7 937.1h-14.12M1452.7 941.8h-4.72M1452.7 948.0h-9.42M1452.7 955.2h-23.52M1452.7 961.0h-28.22M1452.7 966.2h-14.12M1452.7 971.0h-14.12M1452.7 975.8h-23.52M1452.7 983.4h-4.72M1452.7 989.6h-9.42M1452.7 993.9h-14.12M1452.7 999.2h-9.42M1452.7 1004.0h-9.42M1452.7 1008.3h-9.42M1452.7 1015.4h-0.02M1452.7 1020.2h-0.02M1452.7 1025.0h-0.02M1494.6 741.1h-0.02M1494.6 774.5h-4.72M1494.6 780.3h-0.02M1494.6 789.3h-4.72M1494.6 796.5h-4.72M1494.6 800.8h-9.42M1494.6 806.1h-0.02M1494.6 819.5h-0.02M1494.6 824.7h-4.72M1494.6 831.9h-0.02M1494.6 836.7h-0.02M1494.6 843.8h-4.72M1494.6 853.9h-4.72M1494.6 857.2h-9.42M1494.6 864.4h-14.12M1494.6 867.7h-14.12M1494.6 873.0h-4.72M1494.6 878.7h-9.42M1494.6 888.3h-23.52M1494.6 894.0h-4.72M1494.6 898.8h-9.42M1494.6 903.6h-18.82M1494.6 908.4h-28.22M1494.6 911.7h-4.72M1494.6 917.9h-9.42M1494.6 925.6h-4.72M1494.6 929.4h-9.42M1494.6 937.1h-9.42M1494.6 942.8h-14.12M1494.6 950.4h-14.12M1494.6 956.2h-9.42M1494.6 960.5h-14.12M1494.6 965.7h-4.72M1494.6 970.5h-9.42M1494.6 974.3h-4.72M1494.6 983.9h-9.42M1494.6 988.2h-4.72M1494.6 991.5h-4.72M1494.6 1000.6h-9.42M1494.6 1006.8h-0.02M1536.5 735.3h-0.02M1536.5 752.5h-4.72M1536.5 765.9h-4.72M1536.5 775.5h-0.02M1536.5 780.3h-0.02M1536.5 785.5h-4.72M1536.5 791.7h-9.42M1536.5 805.1h-0.02M1536.5 811.3h-4.72M1536.5 817.1h-4.72M1536.5 822.3h-14.12M1536.5 830.0h-9.42M1536.5 834.8h-0.02M1536.5 843.8h-14.12M1536.5 850.1h-4.72M1536.5 854.8h-4.72M1536.5 860.6h-4.72M1536.5 866.3h-9.42M1536.5 873.5h-14.12M1536.5 879.7h-9.42M1536.5 885.4h-14.12M1536.5 889.3h-9.42M1536.5 894.0h-14.12M1536.5 899.3h-9.42M1536.5 907.4h-4.72M1536.5 911.2h-0.02M1536.5 917.9h-9.42M1536.5 922.7h-18.82M1536.5 927.5h-14.12M1536.5 931.8h-18.82M1536.5 935.1h-0.02M1536.5 943.7h-4.72M1536.5 947.6h-0.02M1536.5 956.2h-18.82M1536.5 963.8h-14.12M1536.5 969.1h-4.72M1536.5 973.9h-4.72M1536.5 983.4h-9.42M1536.5 990.6h-4.72M1536.5 994.4h-0.02M1536.5 1003.0h-4.72M1578.4 661.7h-0.02M1578.4 723.9h-4.72M1578.4 736.3h-0.02M1578.4 751.6h-4.72M1578.4 762.1h-14.12M1578.4 766.9h-9.42M1578.4 771.2h-14.12M1578.4 776.4h-14.12M1578.4 780.3h-4.72M1578.4 786.5h-4.72M1578.4 791.7h-9.42M1578.4 797.0h-4.72M1578.4 808.0h-9.42M1578.4 812.3h-18.82M1578.4 815.6h-4.72M1578.4 822.3h-18.82M1578.4 829.0h-18.82M1578.4 833.8h-14.12M1578.4 838.6h-9.42M1578.4 841.9h-9.42M1578.4 848.1h-9.42M1578.4 852.4h-14.12M1578.4 859.6h-14.12M1578.4 866.3h-0.02M1578.4 873.5h-4.72M1578.4 885.4h-18.82M1578.4 893.1h-0.02M1578.4 899.3h-4.72M1578.4 905.5h-0.02M1578.4 914.6h-9.42M1578.4 924.1h-14.12M1578.4 932.8h-4.72M1578.4 937.1h-0.02M1578.4 946.6h-9.42M1578.4 953.3h-4.72M1578.4 961.0h-4.72M1578.4 975.3h-4.72M1578.4 990.6h-0.02M1578.4 1003.0h-0.02M1620.2 662.7h-0.02M1620.2 685.6h-0.02M1620.2 691.8h-4.72M1620.2 702.8h-4.72M1620.2 710.5h-9.42M1620.2 714.3h-0.02M1620.2 721.0h-0.02M1620.2 736.3h-14.12M1620.2 741.1h-9.42M1620.2 743.9h-0.02M1620.2 750.6h-4.72M1620.2 760.7h-4.72M1620.2 769.3h-14.12M1620.2 776.0h-9.42M1620.2 781.2h-14.12M1620.2 791.3h-14.12M1620.2 796.5h-18.82M1620.2 801.8h-9.42M1620.2 806.1h-4.72M1620.2 812.8h-14.12M1620.2 818.0h-18.82M1620.2 823.3h-23.52M1620.2 828.1h-9.42M1620.2 837.1h-4.72M1620.2 841.9h-14.12M1620.2 846.2h-0.02M1620.2 852.9h-9.42M1620.2 858.7h-9.42M1620.2 863.0h-14.12M1620.2 871.1h-4.72M1620.2 884.0h-14.12M1620.2 895.0h-0.02M1620.2 899.8h-0.02M1620.2 908.4h-9.42M1620.2 913.6h-4.72M1620.2 920.8h-4.72M1620.2 931.3h-0.02M1620.2 937.1h-0.02M1620.2 946.6h-0.02M1620.2 957.1h-0.02M1662.2 677.0h-4.72M1662.2 693.3h-0.02M1662.2 705.7h-0.02M1662.2 711.4h-0.02M1662.2 719.1h-0.02M1662.2 730.6h-4.72M1662.2 736.3h-14.12M1662.2 741.1h-0.02M1662.2 747.8h-14.12M1662.2 753.0h-4.72M1662.2 762.6h-4.72M1662.2 769.8h-9.42M1662.2 775.0h-4.72M1662.2 782.7h-9.42M1662.2 787.9h-14.12M1662.2 793.7h-9.42M1662.2 798.4h-9.42M1662.2 804.2h-23.52M1662.2 807.0h-0.02M1662.2 813.7h-9.42M1662.2 821.9h-14.12M1662.2 826.6h-18.82M1662.2 831.9h-18.82M1662.2 834.8h-0.02M1662.2 839.5h-0.02M1662.2 845.8h-9.42M1662.2 851.0h-18.82M1662.2 858.7h-9.42M1662.2 868.2h-18.82M1662.2 873.0h-9.42M1662.2 879.2h-4.72M1662.2 885.9h-4.72M1662.2 889.7h-9.42M1662.2 904.5h-0.02M1662.2 915.5h-4.72M1662.2 920.3h-4.72M1662.2 929.9h-4.72M1662.2 940.9h-0.02M1662.2 950.4h-4.72M1704.1 677.0h-0.02M1704.1 685.6h-0.02M1704.1 692.3h-9.42M1704.1 697.1h-4.72M1704.1 701.9h-9.42M1704.1 706.7h-9.42M1704.1 711.4h-4.72M1704.1 718.1h-0.02M1704.1 725.8h-9.42M1704.1 729.6h-4.72M1704.1 735.3h-18.82M1704.1 740.1h-18.82M1704.1 743.9h-0.02M1704.1 750.2h-14.12M1704.1 757.3h-9.42M1704.1 764.0h-0.02M1704.1 770.2h-9.42M1704.1 776.9h-9.42M1704.1 788.9h-18.82M1704.1 796.5h-18.82M1704.1 808.0h-18.82M1704.1 814.2h-9.42M1704.1 819.5h-9.42M1704.1 828.1h-0.02M1704.1 835.7h-14.12M1704.1 839.5h-4.72M1704.1 844.3h-14.12M1704.1 849.6h-9.42M1704.1 854.8h-14.12M1704.1 865.8h-9.42M1704.1 881.6h-9.42M1704.1 886.9h-14.12M1704.1 890.2h-4.72M1704.1 896.9h-4.72M1704.1 902.6h-0.02M1704.1 912.2h-4.72M1704.1 918.9h-0.02M1704.1 938.5h-4.72M1746.0 653.1h-9.42M1746.0 673.2h-14.12M1746.0 678.9h-14.12M1746.0 683.7h-0.02M1746.0 691.4h-0.02M1746.0 704.7h-9.42M1746.0 711.0h-14.12M1746.0 716.2h-0.02M1746.0 727.7h-18.82M1746.0 732.5h-14.12M1746.0 737.2h-23.52M1746.0 743.9h-9.42M1746.0 750.6h-14.12M1746.0 754.5h-4.72M1746.0 761.1h-14.12M1746.0 766.9h-9.42M1746.0 772.1h-14.12M1746.0 777.4h-14.12M1746.0 787.4h-14.12M1746.0 792.7h-9.42M1746.0 798.4h-18.82M1746.0 804.2h-23.52M1746.0 808.9h-18.82M1746.0 812.3h-4.72M1746.0 819.0h-14.12M1746.0 825.2h-9.42M1746.0 832.8h-4.72M1746.0 836.7h-0.02M1746.0 848.1h-9.42M1746.0 852.0h-0.02M1746.0 867.3h-0.02M1746.0 877.8h-0.02M1746.0 884.0h-4.72M1746.0 911.2h-0.02M1746.0 921.8h-0.02M1746.0 934.2h-0.02"/>
<path fill="none" stroke="#a9a9a9" stroke-width="4.51" stroke-linecap="round" stroke-dasharray="0 4.9" d="M1883.0 252.5h-0.02M1883.0 257.9h-0.02M1883.0 272.0h-4.92M1883.0 305.3h-0.02M1883.0 310.6h-0.02M1883.0 322.1h-4.92M1883.0 328.9h-0.02M1883.0 337.0h-4.92M1883.0 347.3h-0.02M1883.0 359.5h-4.92M1883.0 367.2h-0.02M1883.0 376.3h-4.92M1883.0 384.4h-14.72M1883.0 391.6h-14.72M1883.0 395.5h-9.82M1883.0 406.5h-19.62M1883.0 414.6h-0.02M1883.0 426.0h-14.72M1883.0 434.1h-19.62M1883.0 439.0h-14.72M1883.0 445.9h-29.42M1883.0 452.4h-4.92M1883.0 458.2h-14.72M1883.0 467.3h-24.52M1883.0 472.3h-29.42M1883.0 477.6h-19.62M1883.0 484.1h-4.92M1883.0 490.3h-24.52M1883.0 495.2h-9.82M1883.0 505.9h-19.62M1883.0 511.7h-9.82M1883.0 515.5h-9.82M1883.0 524.7h-4.92M1883.0 533.8h-0.02M1925.0 236.4h-0.02M1925.0 249.4h-0.02M1925.0 258.6h-4.92M1925.0 266.3h-0.02M1925.0 271.6h-0.02M1925.0 292.3h-0.02M1925.0 304.1h-4.92M1925.0 316.7h-0.02M1925.0 322.8h-0.02M1925.0 336.6h-0.02M1925.0 345.0h-14.72M1925.0 356.1h-19.62M1925.0 362.2h-14.72M1925.0 367.9h-19.62M1925.0 372.9h-9.82M1925.0 381.7h-9.82M1925.0 391.6h-9.82M1925.0 397.4h-24.52M1925.0 402.7h-9.82M1925.0 410.0h-19.62M1925.0 415.0h-24.52M1925.0 420.7h-14.72M1925.0 426.0h-9.82M1925.0 432.5h-24.52M1925.0 441.7h-9.82M1925.0 447.8h-9.82M1925.0 455.9h-9.82M1925.0 462.0h-9.82M1925.0 468.5h-9.82M1925.0 473.1h-9.82M1925.0 481.1h-9.82M1925.0 486.4h-9.82M1925.0 491.0h-0.02M1925.0 496.4h-0.02M1925.0 507.8h-4.92M1966.8 213.9h-4.92M1966.8 240.3h-4.92M1966.8 264.3h-4.92M1966.8 273.5h-4.92M1966.8 283.8h-9.82M1966.8 290.7h-14.72M1966.8 296.8h-4.92M1966.8 311.4h-14.72M1966.8 321.3h-14.72M1966.8 324.4h-0.02M1966.8 331.6h-4.92M1966.8 337.0h-4.92M1966.8 345.0h-19.62M1966.8 355.3h-4.92M1966.8 361.1h-19.62M1966.8 365.6h-0.02M1966.8 374.1h-4.92M1966.8 380.6h-4.92M1966.8 389.0h-14.72M1966.8 397.8h-19.62M1966.8 405.4h-9.82M1966.8 411.5h-19.62M1966.8 417.2h-9.82M1966.8 424.1h-4.92M1966.8 431.4h-19.62M1966.8 437.9h-14.72M1966.8 447.4h-0.02M1966.8 458.5h-9.82M1966.8 470.8h-4.92M1966.8 477.3h-9.82M1966.8 482.6h-4.92M1966.8 490.3h-9.82M1966.8 494.8h-9.82M1966.8 501.7h-4.92M2008.8 170.3h-4.92M2008.8 189.8h-0.02M2008.8 201.3h-4.92M2008.8 215.0h-0.02M2008.8 227.3h-0.02M2008.8 238.0h-0.02M2008.8 250.2h-4.92M2008.8 269.7h-4.92M2008.8 276.2h-14.72M2008.8 282.3h-4.92M2008.8 288.8h-14.72M2008.8 293.8h-0.02M2008.8 301.0h-14.72M2008.8 308.3h-24.52M2008.8 314.8h-9.82M2008.8 320.5h-0.02M2008.8 328.2h-14.72M2008.8 333.9h-19.62M2008.8 339.7h-19.62M2008.8 345.0h-9.82M2008.8 353.0h-9.82M2008.8 359.5h-24.52M2008.8 364.1h-9.82M2008.8 369.9h-9.82M2008.8 377.1h-9.82M2008.8 381.7h-9.82M2008.8 389.3h-19.62M2008.8 393.9h-0.02M2008.8 406.2h-9.82M2008.8 411.5h-14.72M2008.8 415.7h-4.92M2008.8 423.0h-9.82M2008.8 434.8h-9.82M2008.8 441.3h-4.92M2008.8 452.8h-0.02M2008.8 470.8h-4.92M2008.8 492.6h-0.02M2008.8 498.7h-0.02M2008.8 504.0h-0.02M2008.8 510.9h-0.02M2050.7 162.3h-4.92M2050.7 166.9h-9.82M2050.7 187.5h-4.92M2050.7 202.0h-9.82M2050.7 208.2h-14.72M2050.7 212.7h-14.72M2050.7 224.2h-4.92M2050.7 231.1h-4.92M2050.7 234.2h-0.02M2050.7 243.3h-14.72M2050.7 250.6h-4.92M2050.7 266.3h-4.92M2050.7 273.9h-19.62M2050.7 279.6h-14.72M2050.7 284.6h-14.72M2050.7 290.7h-24.52M2050.7 298.0h-14.72M2050.7 304.1h-24.52M2050.7 309.5h-14.72M2050.7 314.8h-9.82M2050.7 321.3h-9.82M2050.7 327.4h-19.62M2050.7 337.4h-19.62M2050.7 342.7h-14.72M2050.7 346.2h-4.92M2050.7 354.9h-9.82M2050.7 361.1h-0.02M2050.7 375.6h-14.72M2050.7 380.9h-0.02M2050.7 398.9h-4.92M2050.7 405.4h-4.92M2050.7 415.0h-4.92M2050.7 424.5h-0.02M2050.7 444.4h-0.02M2092.6 171.1h-4.92M2092.6 179.9h-4.92M2092.6 189.4h-9.82M2092.6 202.0h-0.02M2092.6 208.9h-0.02M2092.6 215.0h-4.92M2092.6 232.6h-14.72M2092.6 236.4h-4.92M2092.6 244.1h-14.72M2092.6 250.2h-9.82M2092.6 255.9h-9.82M2092.6 262.1h-19.62M2092.6 271.2h-14.72M2092.6 277.0h-19.62M2092.6 284.6h-4.92M2092.6 291.5h-14.72M2092.6 294.9h-4.92M2092.6 301.8h-19.62M2092.6 309.8h-0.02M2092.6 317.9h-9.82M2092.6 327.0h-9.82M2092.6 332.8h-19.62M2092.6 341.6h-9.82M2092.6 348.1h-4.92M2092.6 355.3h-19.62M2092.6 363.4h-9.82M2092.6 376.0h-9.82M2092.6 383.2h-4.92M2092.6 390.5h-9.82M2092.6 394.7h-4.92M2092.6 401.6h-4.92M2092.6 405.4h-9.82M2092.6 412.3h-4.92M2092.6 417.6h-9.82M2092.6 423.0h-9.82M2092.6 452.0h-0.02M2134.5 157.3h-4.92M2134.5 164.6h-4.92M2134.5 179.5h-4.92M2134.5 186.4h-4.92M2134.5 194.4h-0.02M2134.5 201.3h-9.82M2134.5 212.0h-14.72M2134.5 217.3h-4.92M2134.5 225.4h-9.82M2134.5 231.9h-14.72M2134.5 237.6h-14.72M2134.5 242.9h-9.82M2134.5 251.7h-24.52M2134.5 255.6h-0.02M2134.5 264.7h-24.52M2134.5 270.8h-24.52M2134.5 280.0h-14.72M2134.5 286.1h-19.62M2134.5 290.0h-4.92M2134.5 298.4h-14.72M2134.5 303.7h-0.02M2134.5 313.7h-9.82M2134.5 319.4h-9.82M2134.5 326.7h-4.92M2134.5 335.8h-19.62M2134.5 344.2h-4.92M2134.5 350.4h-14.72M2134.5 355.3h-14.72M2134.5 359.9h-9.82M2134.5 366.4h-4.92M2134.5 374.8h-0.02M2134.5 390.1h-0.02M2134.5 397.8h-0.02M2134.5 404.6h-9.82M2134.5 411.5h-0.02M2134.5 430.6h-0.02M2134.5 439.8h-0.02M2176.4 140.9h-4.92M2176.4 152.4h-9.82M2176.4 158.8h-4.92M2176.4 164.6h-9.82M2176.4 173.4h-4.92M2176.4 178.3h-0.02M2176.4 188.7h-9.82M2176.4 195.9h-9.82M2176.4 201.3h-19.62M2176.4 206.6h-14.72M2176.4 213.5h-19.62M2176.4 219.6h-9.82M2176.4 229.6h-14.72M2176.4 237.2h-14.72M2176.4 242.9h-29.42M2176.4 250.2h-14.72M2176.4 254.4h-4.92M2176.4 260.1h-9.82M2176.4 265.9h-19.62M2176.4 272.4h-24.52M2176.4 278.1h-9.82M2176.4 283.8h-19.62M2176.4 289.2h-0.02M2176.4 302.2h-14.72M2176.4 310.6h-0.02M2176.4 320.5h-0.02M2176.4 327.0h-4.92M2176.4 333.5h-0.02M2176.4 340.8h-4.92M2176.4 352.6h-0.02M2176.4 358.8h-0.02M2176.4 364.9h-4.92M2176.4 370.2h-0.02M2176.4 380.2h-0.02M2176.4 403.5h-4.92M2176.4 410.0h-0.02M2176.4 425.3h-0.02M2176.4 435.2h-0.02"/>
<path fill="none" stroke="#a9a9a9" stroke-width="4.51" stroke-linecap="round" stroke-dasharray="0 4.9" d="M1883.0 719.2h-0.02M1883.0 744.4h-4.92M1883.0 750.6h-0.02M1883.0 765.1h-0.02M1883.0 775.4h-4.92M1883.0 778.8h-0.02M1883.0 798.0h-0.02M1883.0 805.2h-4.92M1883.0 811.7h-4.92M1883.0 836.9h-4.92M1883.0 846.1h-0.02M1883.0 854.5h-4.92M1883.0 860.3h-14.72M1883.0 864.5h-0.02M1883.0 873.6h-0.02M1883.0 882.4h-4.92M1883.0 889.3h-14.72M1883.0 895.8h-14.72M1883.0 900.0h-9.82M1883.0 910.7h-14.72M1883.0 916.5h-19.62M1883.0 922.2h-4.92M1883.0 930.2h-9.82M1883.0 937.1h-14.72M1883.0 946.6h-24.52M1883.0 953.5h-19.62M1883.0 959.6h-9.82M1883.0 965.4h-9.82M1883.0 971.1h-19.62M1883.0 976.1h-19.62M1883.0 983.0h-19.62M1883.0 989.1h-19.62M1883.0 994.4h-14.72M1883.0 1002.1h-0.02M1883.0 1009.7h-14.72M1883.0 1015.8h-0.02M1883.0 1022.0h-0.02M1925.0 729.1h-0.02M1925.0 746.0h-0.02M1925.0 765.8h-4.92M1925.0 780.4h-4.92M1925.0 792.2h-4.92M1925.0 797.2h-0.02M1925.0 806.7h-4.92M1925.0 811.7h-4.92M1925.0 816.3h-0.02M1925.0 828.5h-14.72M1925.0 835.4h-14.72M1925.0 841.9h-14.72M1925.0 849.2h-19.62M1925.0 857.6h-4.92M1925.0 863.3h-19.62M1925.0 870.2h-9.82M1925.0 877.8h-4.92M1925.0 881.3h-0.02M1925.0 890.8h-4.92M1925.0 896.6h-19.62M1925.0 902.7h-9.82M1925.0 907.3h-29.42M1925.0 913.4h-9.82M1925.0 918.0h-0.02M1925.0 925.6h-24.52M1925.0 930.6h-9.82M1925.0 936.7h-14.72M1925.0 942.1h-19.62M1925.0 947.8h-9.82M1925.0 952.4h-0.02M1925.0 972.6h-19.62M1925.0 979.1h-14.72M1925.0 984.1h-9.82M1925.0 989.8h-4.92M1925.0 999.8h-4.92M1966.8 712.3h-4.92M1966.8 723.8h-0.02M1966.8 733.4h-4.92M1966.8 759.0h-0.02M1966.8 769.7h-4.92M1966.8 773.1h-4.92M1966.8 783.8h-9.82M1966.8 791.1h-0.02M1966.8 799.9h-9.82M1966.8 805.6h-14.72M1966.8 811.3h-9.82M1966.8 816.3h-4.92M1966.8 823.2h-4.92M1966.8 830.4h-14.72M1966.8 834.6h-0.02M1966.8 841.5h-0.02M1966.8 848.8h-4.92M1966.8 854.5h-9.82M1966.8 864.5h-4.92M1966.8 869.1h-14.72M1966.8 875.9h-24.52M1966.8 882.4h-24.52M1966.8 889.7h-24.52M1966.8 894.3h-14.72M1966.8 898.9h-9.82M1966.8 905.7h-9.82M1966.8 913.0h-4.92M1966.8 916.8h-4.92M1966.8 924.1h-9.82M1966.8 927.9h-0.02M1966.8 934.4h-9.82M1966.8 940.2h-19.62M1966.8 946.6h-9.82M1966.8 952.0h-14.72M1966.8 957.7h-0.02M1966.8 964.6h-4.92M1966.8 970.7h-4.92M1966.8 981.4h-0.02M1966.8 989.8h-9.82M1966.8 996.7h-0.02M2008.8 654.2h-0.02M2008.8 742.1h-0.02M2008.8 751.3h-9.82M2008.8 757.1h-4.92M2008.8 769.7h-14.72M2008.8 776.5h-4.92M2008.8 782.7h-14.72M2008.8 788.4h-4.92M2008.8 796.0h-14.72M2008.8 804.5h-4.92M2008.8 811.7h-19.62M2008.8 819.4h-19.62M2008.8 826.2h-9.82M2008.8 832.0h-19.62M2008.8 837.3h-4.92M2008.8 843.4h-9.82M2008.8 847.6h-0.02M2008.8 857.6h-14.72M2008.8 862.6h-4.92M2008.8 877.5h-19.62M2008.8 883.6h-9.82M2008.8 889.7h-19.62M2008.8 899.2h-14.72M2008.8 906.1h-14.72M2008.8 911.9h-9.82M2008.8 919.5h-14.72M2008.8 925.6h-9.82M2008.8 937.9h-0.02M2008.8 943.2h-0.02M2008.8 950.1h-4.92M2008.8 956.6h-9.82M2008.8 966.9h-9.82M2008.8 974.2h-4.92M2008.8 979.9h-0.02M2008.8 994.4h-0.02M2050.7 648.1h-0.02M2050.7 658.8h-0.02M2050.7 665.7h-0.02M2050.7 672.6h-0.02M2050.7 678.7h-0.02M2050.7 693.2h-9.82M2050.7 710.4h-14.72M2050.7 719.6h-9.82M2050.7 723.8h-0.02M2050.7 729.1h-0.02M2050.7 736.8h-0.02M2050.7 744.1h-9.82M2050.7 752.8h-4.92M2050.7 758.2h-14.72M2050.7 768.9h-4.92M2050.7 775.0h-19.62M2050.7 780.4h-9.82M2050.7 786.5h-19.62M2050.7 794.5h-14.72M2050.7 800.2h-14.72M2050.7 807.5h-4.92M2050.7 813.2h-9.82M2050.7 818.6h-9.82M2050.7 824.7h-24.52M2050.7 832.0h-9.82M2050.7 840.0h-9.82M2050.7 846.1h-14.72M2050.7 851.9h-9.82M2050.7 862.6h-19.62M2050.7 869.8h-9.82M2050.7 877.8h-4.92M2050.7 882.8h-4.92M2050.7 890.8h-9.82M2050.7 911.9h-9.82M2050.7 926.8h-9.82M2050.7 940.9h-0.02M2050.7 947.8h-0.02M2092.6 640.5h-0.02M2092.6 658.8h-0.02M2092.6 676.4h-0.02M2092.6 688.2h-4.92M2092.6 693.6h-4.92M2092.6 700.9h-4.92M2092.6 715.0h-9.82M2092.6 723.8h-4.92M2092.6 731.1h-4.92M2092.6 736.0h-0.02M2092.6 746.0h-9.82M2092.6 754.0h-9.82M2092.6 759.0h-14.72M2092.6 765.1h-9.82M2092.6 774.3h-4.92M2092.6 780.8h-9.82M2092.6 786.1h-19.62M2092.6 792.6h-14.72M2092.6 798.7h-9.82M2092.6 806.4h-19.62M2092.6 818.2h-9.82M2092.6 825.1h-24.52M2092.6 830.8h-9.82M2092.6 836.9h-9.82M2092.6 846.5h-14.72M2092.6 854.5h-4.92M2092.6 859.5h-14.72M2092.6 864.8h-4.92M2092.6 870.2h-19.62M2092.6 886.3h-9.82M2092.6 891.2h-4.92M2092.6 904.2h-9.82M2092.6 909.2h-9.82M2092.6 914.5h-9.82M2092.6 930.6h-4.92M2092.6 937.5h-4.92M2134.5 663.0h-4.92M2134.5 668.4h-4.92M2134.5 677.5h-9.82M2134.5 685.2h-9.82M2134.5 694.0h-9.82M2134.5 702.4h-14.72M2134.5 707.4h-9.82M2134.5 714.6h-9.82M2134.5 720.4h-4.92M2134.5 726.9h-14.72M2134.5 736.8h-9.82M2134.5 742.1h-0.02M2134.5 750.6h-0.02M2134.5 757.4h-14.72M2134.5 765.1h-0.02M2134.5 773.5h-19.62M2134.5 779.2h-4.92M2134.5 785.7h-4.92M2134.5 790.3h-0.02M2134.5 798.7h-19.62M2134.5 805.6h-19.62M2134.5 811.7h-19.62M2134.5 817.4h-14.72M2134.5 824.7h-19.62M2134.5 830.8h-19.62M2134.5 837.7h-19.62M2134.5 844.6h-0.02M2134.5 854.9h-14.72M2134.5 866.8h-9.82M2134.5 881.3h-0.02M2134.5 894.3h-9.82M2134.5 901.2h-0.02M2134.5 910.3h-0.02M2134.5 915.7h-0.02M2134.5 924.5h-4.92M2176.4 644.3h-0.02M2176.4 650.4h-0.02M2176.4 658.0h-4.92M2176.4 664.2h-9.82M2176.4 671.0h-14.72M2176.4 681.0h-4.92M2176.4 686.0h-14.72M2176.4 691.3h-9.82M2176.4 695.5h-9.82M2176.4 705.4h-4.92M2176.4 711.2h-9.82M2176.4 716.2h-0.02M2176.4 723.8h-9.82M2176.4 729.9h-24.52M2176.4 735.6h-24.52M2176.4 744.4h-29.42M2176.4 750.6h-4.92M2176.4 755.5h-4.92M2176.4 762.8h-9.82M2176.4 767.4h-19.62M2176.4 772.7h-19.62M2176.4 778.8h-24.52M2176.4 785.0h-24.52M2176.4 789.5h-14.72M2176.4 801.0h-9.82M2176.4 807.1h-9.82M2176.4 812.5h-0.02M2176.4 819.0h-4.92M2176.4 827.0h-4.92M2176.4 843.4h-4.92M2176.4 852.6h-4.92M2176.4 866.0h-4.92M2176.4 914.9h-0.02"/>
</svg></body></html>
